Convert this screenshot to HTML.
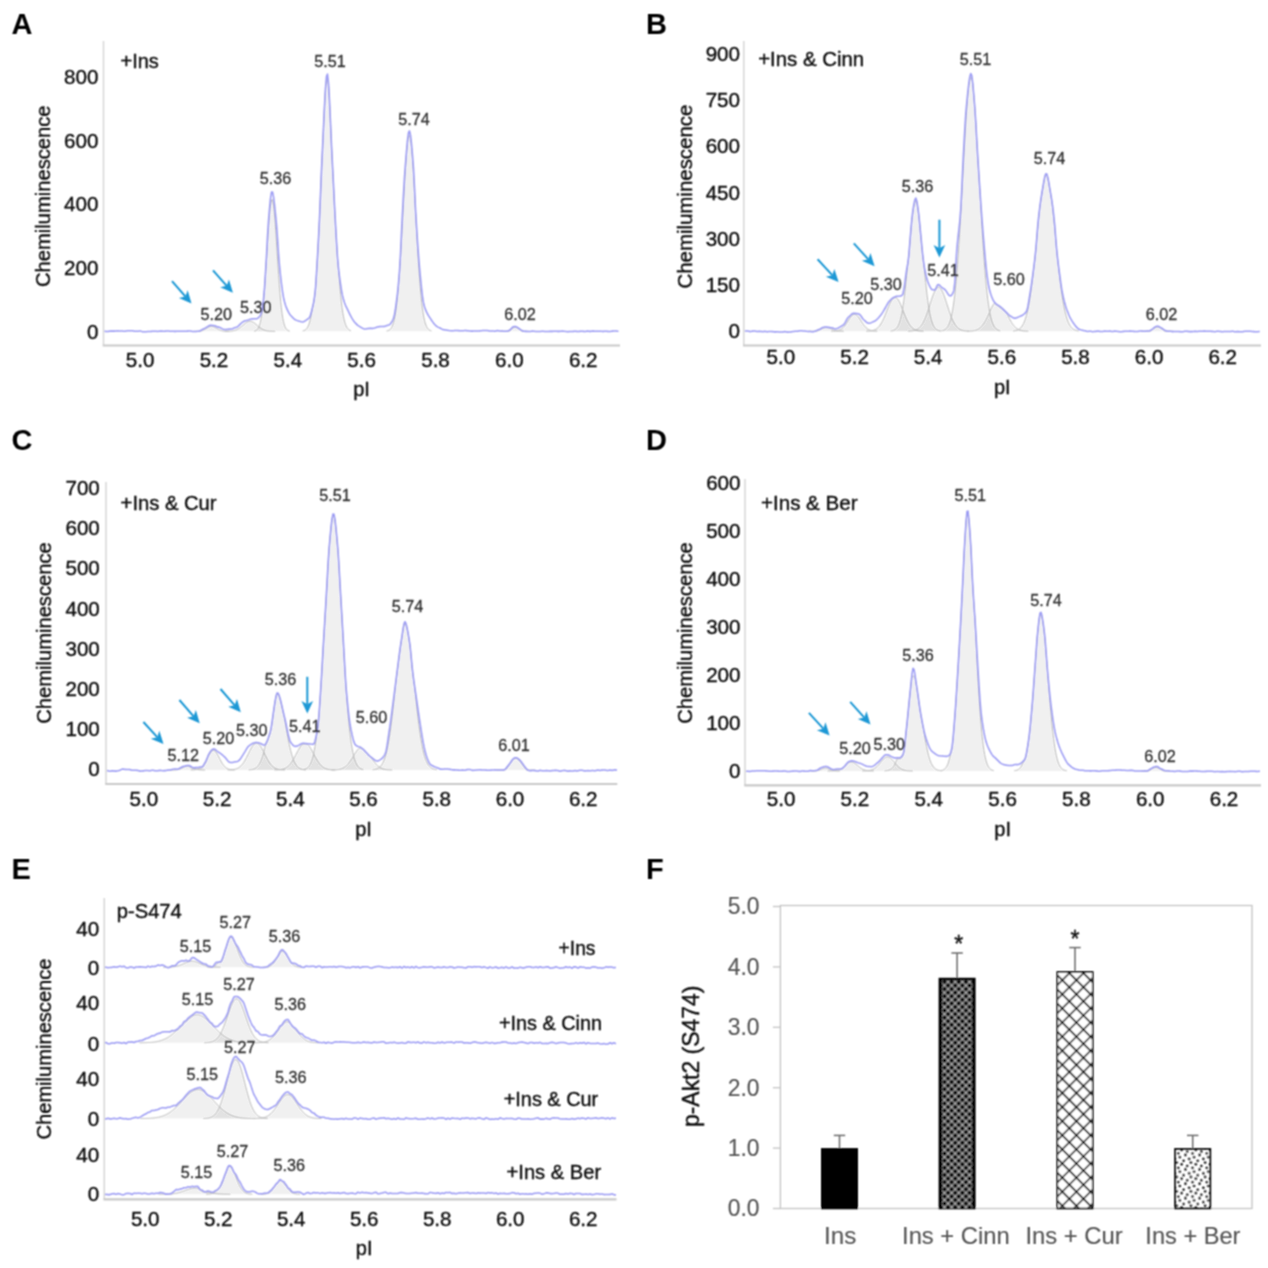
<!DOCTYPE html>
<html><head><meta charset="utf-8"><title>Figure</title>
<style>html,body{margin:0;padding:0;background:#fff;}svg{display:block;}#wrap{width:1268px;height:1268px;will-change:transform;}text{font-family:"Liberation Sans", sans-serif;}</style>
</head><body><div id="wrap">
<svg width="1268" height="1268" viewBox="0 0 1268 1268" font-family='"Liberation Sans", sans-serif'>
<defs><filter id="bl" filterUnits="userSpaceOnUse" x="0" y="0" width="1268" height="1268"><feConvolveMatrix order="3" kernelMatrix="1 2 1 2 4 2 1 2 1" divisor="16" edgeMode="duplicate"/></filter></defs>
<rect width="1268" height="1268" fill="#fff"/>
<g filter="url(#bl)">
<text x="11.5" y="34" font-size="29" text-anchor="start" fill="#000" font-weight="bold" >A</text>
<text x="646" y="34" font-size="29" text-anchor="start" fill="#000" font-weight="bold" >B</text>
<text x="11.5" y="449.5" font-size="29" text-anchor="start" fill="#000" font-weight="bold" >C</text>
<text x="646" y="449.5" font-size="29" text-anchor="start" fill="#000" font-weight="bold" >D</text>
<text x="11.5" y="878.5" font-size="29" text-anchor="start" fill="#000" font-weight="bold" >E</text>
<text x="646" y="878.5" font-size="29" text-anchor="start" fill="#000" font-weight="bold" >F</text>
<line x1="103.5" y1="41" x2="103.5" y2="345.5" stroke="#d6d6d6" stroke-width="1.5"/>
<line x1="102.75" y1="345.5" x2="620" y2="345.5" stroke="#c9c9c9" stroke-width="2.2"/>
<text x="140.1" y="366.5" font-size="20.6" text-anchor="middle" fill="#111" font-weight="normal" stroke="#111" stroke-width="0.4" >5.0</text>
<text x="213.95" y="366.5" font-size="20.6" text-anchor="middle" fill="#111" font-weight="normal" stroke="#111" stroke-width="0.4" >5.2</text>
<text x="287.8" y="366.5" font-size="20.6" text-anchor="middle" fill="#111" font-weight="normal" stroke="#111" stroke-width="0.4" >5.4</text>
<text x="361.65" y="366.5" font-size="20.6" text-anchor="middle" fill="#111" font-weight="normal" stroke="#111" stroke-width="0.4" >5.6</text>
<text x="435.5" y="366.5" font-size="20.6" text-anchor="middle" fill="#111" font-weight="normal" stroke="#111" stroke-width="0.4" >5.8</text>
<text x="509.35" y="366.5" font-size="20.6" text-anchor="middle" fill="#111" font-weight="normal" stroke="#111" stroke-width="0.4" >6.0</text>
<text x="583.2" y="366.5" font-size="20.6" text-anchor="middle" fill="#111" font-weight="normal" stroke="#111" stroke-width="0.4" >6.2</text>
<text x="98.4" y="338.85" font-size="20.6" text-anchor="end" fill="#111" font-weight="normal" stroke="#111" stroke-width="0.4" >0</text>
<text x="98.4" y="275.09" font-size="20.6" text-anchor="end" fill="#111" font-weight="normal" stroke="#111" stroke-width="0.4" >200</text>
<text x="98.4" y="211.33" font-size="20.6" text-anchor="end" fill="#111" font-weight="normal" stroke="#111" stroke-width="0.4" >400</text>
<text x="98.4" y="147.57" font-size="20.6" text-anchor="end" fill="#111" font-weight="normal" stroke="#111" stroke-width="0.4" >600</text>
<text x="98.4" y="83.81" font-size="20.6" text-anchor="end" fill="#111" font-weight="normal" stroke="#111" stroke-width="0.4" >800</text>
<text x="361.6" y="396" font-size="20" text-anchor="middle" fill="#111" font-weight="normal" stroke="#111" stroke-width="0.4" >pI</text>
<text x="0" y="0" font-size="20.4" text-anchor="middle" fill="#111" stroke="#111" stroke-width="0.4" transform="translate(49.8,196.2) rotate(-90)" textLength="181.5" lengthAdjust="spacingAndGlyphs">Chemiluminescence</text>
<text x="120.5" y="68.2" font-size="20" text-anchor="start" fill="#111" font-weight="normal" stroke="#111" stroke-width="0.4" >+Ins</text>
<path d="M193.5,331.3 L193.5,331.3 L194.2,331.3 L194.9,331.3 L195.6,331.3 L196.3,331.3 L197,331.3 L197.7,331.3 L198.4,331.3 L199.1,331.3 L199.8,331.3 L200.5,331.27 L201.2,330.95 L201.9,330.59 L202.6,330.27 L203.3,330 L204,329.68 L204.7,329.32 L205.4,328.92 L206.1,328.51 L206.8,328.09 L207.5,327.67 L208.2,327.28 L208.9,326.93 L209.6,326.65 L210.3,326.44 L211,326.32 L211.7,326.3 L212.4,326.38 L213.1,326.55 L213.8,326.8 L214.5,327.12 L215.2,327.5 L215.9,327.91 L216.6,328.33 L217.3,328.75 L218,329.15 L218.7,329.53 L219.4,329.86 L220.1,330.16 L220.8,330.41 L221.5,330.62 L222.2,330.79 L222.9,330.93 L223.6,331.03 L224.3,331.11 L225,331.17 L225.7,331.21 L226.4,331.24 L227.1,331.26 L227.8,331.28 L228.5,331.28 L229.2,331.29 L229.5,331.3 Z" fill="#000" fill-opacity="0.06"/>
<path d="M193.5,331.3 L194.2,331.3 L194.9,331.3 L195.6,331.3 L196.3,331.3 L197,331.3 L197.7,331.3 L198.4,331.3 L199.1,331.3 L199.8,331.3 L200.5,331.27 L201.2,330.95 L201.9,330.59 L202.6,330.27 L203.3,330 L204,329.68 L204.7,329.32 L205.4,328.92 L206.1,328.51 L206.8,328.09 L207.5,327.67 L208.2,327.28 L208.9,326.93 L209.6,326.65 L210.3,326.44 L211,326.32 L211.7,326.3 L212.4,326.38 L213.1,326.55 L213.8,326.8 L214.5,327.12 L215.2,327.5 L215.9,327.91 L216.6,328.33 L217.3,328.75 L218,329.15 L218.7,329.53 L219.4,329.86 L220.1,330.16 L220.8,330.41 L221.5,330.62 L222.2,330.79 L222.9,330.93 L223.6,331.03 L224.3,331.11 L225,331.17 L225.7,331.21 L226.4,331.24 L227.1,331.26 L227.8,331.28 L228.5,331.28 L229.2,331.29" fill="none" stroke="#b8b8b8" stroke-width="1"/>
<path d="M224.8,331.3 L224.8,331.28 L225.5,331.28 L226.2,331.27 L226.9,331.26 L227.6,331.24 L228.3,331.22 L229,331.19 L229.7,331.15 L230.4,331.1 L231.1,331.04 L231.8,330.96 L232.5,330.86 L233.2,330.74 L233.9,330.59 L234.6,330.41 L235.3,330.2 L236,329.95 L236.7,329.66 L237.4,329.32 L238.1,328.94 L238.8,328.52 L239.5,328.05 L240.2,327.55 L240.9,327 L241.6,326.43 L242.3,325.84 L243,325.23 L243.7,324.63 L244.4,324.04 L245.1,323.47 L245.8,322.95 L246.5,322.48 L247.2,322.07 L247.9,321.74 L248.6,321.5 L249.3,321.35 L250,321.3 L250.7,321.35 L251.4,321.5 L252.1,321.74 L252.8,322.07 L253.5,322.48 L254.2,322.95 L254.9,323.47 L255.6,324.04 L256.3,324.63 L257,325.23 L257.7,325.84 L258.4,326.43 L259.1,327 L259.8,327.55 L260.5,328.05 L261.2,328.52 L261.9,328.94 L262.6,329.32 L263.3,329.66 L264,329.95 L264.7,330.2 L265.4,330.41 L266.1,330.59 L266.8,330.74 L267.5,330.86 L268.2,330.96 L268.9,331.04 L269.6,331.1 L270.3,331.15 L271,331.19 L271.7,331.22 L272.4,331.24 L273.1,331.26 L273.8,331.27 L274.5,331.28 L275.2,331.28 L275.2,331.3 Z" fill="#000" fill-opacity="0.06"/>
<path d="M224.8,331.28 L225.5,331.28 L226.2,331.27 L226.9,331.26 L227.6,331.24 L228.3,331.22 L229,331.19 L229.7,331.15 L230.4,331.1 L231.1,331.04 L231.8,330.96 L232.5,330.86 L233.2,330.74 L233.9,330.59 L234.6,330.41 L235.3,330.2 L236,329.95 L236.7,329.66 L237.4,329.32 L238.1,328.94 L238.8,328.52 L239.5,328.05 L240.2,327.55 L240.9,327 L241.6,326.43 L242.3,325.84 L243,325.23 L243.7,324.63 L244.4,324.04 L245.1,323.47 L245.8,322.95 L246.5,322.48 L247.2,322.07 L247.9,321.74 L248.6,321.5 L249.3,321.35 L250,321.3 L250.7,321.35 L251.4,321.5 L252.1,321.74 L252.8,322.07 L253.5,322.48 L254.2,322.95 L254.9,323.47 L255.6,324.04 L256.3,324.63 L257,325.23 L257.7,325.84 L258.4,326.43 L259.1,327 L259.8,327.55 L260.5,328.05 L261.2,328.52 L261.9,328.94 L262.6,329.32 L263.3,329.66 L264,329.95 L264.7,330.2 L265.4,330.41 L266.1,330.59 L266.8,330.74 L267.5,330.86 L268.2,330.96 L268.9,331.04 L269.6,331.1 L270.3,331.15 L271,331.19 L271.7,331.22 L272.4,331.24 L273.1,331.26 L273.8,331.27 L274.5,331.28 L275.2,331.28" fill="none" stroke="#b8b8b8" stroke-width="1"/>
<path d="M254,331.3 L254,331.1 L254.7,330.97 L255.4,330.77 L256.1,330.46 L256.8,330 L257.5,329.33 L258.2,328.37 L258.9,327.03 L259.6,325.2 L260.3,322.76 L261,319.56 L261.7,315.48 L262.4,310.4 L263.1,304.23 L263.8,297.87 L264.5,289.33 L265.2,278.95 L265.9,268.58 L266.6,257.63 L267.3,246.44 L268,235.45 L268.7,225.13 L269.4,215.99 L270.1,208.49 L270.8,203.05 L271.5,199.96 L272.2,199.41 L272.9,201.42 L273.6,205.89 L274.3,212.55 L275,221.04 L275.7,230.92 L276.4,241.68 L277.1,252.84 L277.8,263.94 L278.5,274.6 L279.2,284.49 L279.9,293.41 L280.6,301.23 L281.3,307.89 L282,313.44 L282.7,317.93 L283.4,321.49 L284.1,324.24 L284.8,326.32 L285.5,327.85 L286.2,328.96 L286.9,329.74 L287.6,330.28 L288.3,330.65 L289,330.89 L289.7,331.05 L290,331.3 Z" fill="#000" fill-opacity="0.06"/>
<path d="M254,331.1 L254.7,330.97 L255.4,330.77 L256.1,330.46 L256.8,330 L257.5,329.33 L258.2,328.37 L258.9,327.03 L259.6,325.2 L260.3,322.76 L261,319.56 L261.7,315.48 L262.4,310.4 L263.1,304.23 L263.8,297.87 L264.5,289.33 L265.2,278.95 L265.9,268.58 L266.6,257.63 L267.3,246.44 L268,235.45 L268.7,225.13 L269.4,215.99 L270.1,208.49 L270.8,203.05 L271.5,199.96 L272.2,199.41 L272.9,201.42 L273.6,205.89 L274.3,212.55 L275,221.04 L275.7,230.92 L276.4,241.68 L277.1,252.84 L277.8,263.94 L278.5,274.6 L279.2,284.49 L279.9,293.41 L280.6,301.23 L281.3,307.89 L282,313.44 L282.7,317.93 L283.4,321.49 L284.1,324.24 L284.8,326.32 L285.5,327.85 L286.2,328.96 L286.9,329.74 L287.6,330.28 L288.3,330.65 L289,330.89 L289.7,331.05" fill="none" stroke="#b8b8b8" stroke-width="1"/>
<path d="M302.72,331.3 L302.72,330.91 L303.42,330.74 L304.12,330.51 L304.82,330.18 L305.52,329.74 L306.22,329.14 L306.92,328.35 L307.62,327.31 L308.32,325.96 L309.02,324.23 L309.72,322.04 L310.42,319.3 L311.12,315.91 L311.82,311.78 L312.52,308.33 L313.22,305.32 L313.92,301.66 L314.62,297.07 L315.32,291.26 L316.02,282.01 L316.72,270.38 L317.42,258.68 L318.12,246.29 L318.82,233.02 L319.52,218.73 L320.22,202.31 L320.92,184.92 L321.62,168.38 L322.32,153.91 L323.02,138.8 L323.72,123.25 L324.42,108.28 L325.12,94.9 L325.82,84.44 L326.52,80.56 L327.22,79.3 L327.92,80.71 L328.62,86.03 L329.32,98.19 L330.02,112.86 L330.72,128.75 L331.42,144.54 L332.12,158.91 L332.82,172.33 L333.52,186.55 L334.22,200.91 L334.92,214.67 L335.62,227.25 L336.32,239.51 L337.02,251.12 L337.72,261.19 L338.42,268.96 L339.12,277.08 L339.82,286.27 L340.52,294.3 L341.22,301.22 L341.92,307.1 L342.62,312.03 L343.32,316.13 L344.02,319.47 L344.72,322.18 L345.42,324.34 L346.12,326.05 L346.82,327.38 L347.52,328.4 L348.22,329.18 L348.92,329.77 L349.62,330.2 L350.32,330.52 L351.02,330.75 L351.68,331.3 Z" fill="#000" fill-opacity="0.06"/>
<path d="M302.72,330.91 L303.42,330.74 L304.12,330.51 L304.82,330.18 L305.52,329.74 L306.22,329.14 L306.92,328.35 L307.62,327.31 L308.32,325.96 L309.02,324.23 L309.72,322.04 L310.42,319.3 L311.12,315.91 L311.82,311.78 L312.52,308.33 L313.22,305.32 L313.92,301.66 L314.62,297.07 L315.32,291.26 L316.02,282.01 L316.72,270.38 L317.42,258.68 L318.12,246.29 L318.82,233.02 L319.52,218.73 L320.22,202.31 L320.92,184.92 L321.62,168.38 L322.32,153.91 L323.02,138.8 L323.72,123.25 L324.42,108.28 L325.12,94.9 L325.82,84.44 L326.52,80.56 L327.22,79.3 L327.92,80.71 L328.62,86.03 L329.32,98.19 L330.02,112.86 L330.72,128.75 L331.42,144.54 L332.12,158.91 L332.82,172.33 L333.52,186.55 L334.22,200.91 L334.92,214.67 L335.62,227.25 L336.32,239.51 L337.02,251.12 L337.72,261.19 L338.42,268.96 L339.12,277.08 L339.82,286.27 L340.52,294.3 L341.22,301.22 L341.92,307.1 L342.62,312.03 L343.32,316.13 L344.02,319.47 L344.72,322.18 L345.42,324.34 L346.12,326.05 L346.82,327.38 L347.52,328.4 L348.22,329.18 L348.92,329.77 L349.62,330.2 L350.32,330.52 L351.02,330.75" fill="none" stroke="#b8b8b8" stroke-width="1"/>
<path d="M386.62,331.3 L386.62,331 L387.32,330.85 L388.02,330.65 L388.72,330.36 L389.42,329.95 L390.12,329.4 L390.82,328.65 L391.52,327.65 L392.22,326.33 L392.92,324.63 L393.62,322.45 L394.32,319.7 L395.02,316.28 L395.72,312.1 L396.42,307.05 L397.12,301.06 L397.82,294.04 L398.52,285.96 L399.22,276.8 L399.92,266.6 L400.62,255.43 L401.32,243.43 L402.02,230.77 L402.72,217.7 L403.42,204.51 L404.12,191.52 L404.82,179.09 L405.52,167.59 L406.22,157.38 L406.92,148.8 L407.62,142.15 L408.32,137.66 L409.02,135.49 L409.72,135.74 L410.42,138.37 L411.12,143.31 L411.82,150.37 L412.52,159.3 L413.22,169.8 L413.92,181.51 L414.62,194.08 L415.32,207.14 L416.02,220.33 L416.72,233.34 L417.42,245.89 L418.12,257.74 L418.82,268.72 L419.52,278.72 L420.22,287.66 L420.92,295.53 L421.62,302.34 L422.32,308.14 L423.02,313 L423.72,317.02 L424.42,320.3 L425.12,322.92 L425.82,325 L426.52,326.62 L427.22,327.87 L427.92,328.81 L428.62,329.52 L429.32,330.04 L430.02,330.42 L430.72,330.69 L431.42,330.89 L431.98,331.3 Z" fill="#000" fill-opacity="0.06"/>
<path d="M386.62,331 L387.32,330.85 L388.02,330.65 L388.72,330.36 L389.42,329.95 L390.12,329.4 L390.82,328.65 L391.52,327.65 L392.22,326.33 L392.92,324.63 L393.62,322.45 L394.32,319.7 L395.02,316.28 L395.72,312.1 L396.42,307.05 L397.12,301.06 L397.82,294.04 L398.52,285.96 L399.22,276.8 L399.92,266.6 L400.62,255.43 L401.32,243.43 L402.02,230.77 L402.72,217.7 L403.42,204.51 L404.12,191.52 L404.82,179.09 L405.52,167.59 L406.22,157.38 L406.92,148.8 L407.62,142.15 L408.32,137.66 L409.02,135.49 L409.72,135.74 L410.42,138.37 L411.12,143.31 L411.82,150.37 L412.52,159.3 L413.22,169.8 L413.92,181.51 L414.62,194.08 L415.32,207.14 L416.02,220.33 L416.72,233.34 L417.42,245.89 L418.12,257.74 L418.82,268.72 L419.52,278.72 L420.22,287.66 L420.92,295.53 L421.62,302.34 L422.32,308.14 L423.02,313 L423.72,317.02 L424.42,320.3 L425.12,322.92 L425.82,325 L426.52,326.62 L427.22,327.87 L427.92,328.81 L428.62,329.52 L429.32,330.04 L430.02,330.42 L430.72,330.69 L431.42,330.89" fill="none" stroke="#b8b8b8" stroke-width="1"/>
<path d="M500.6,331.3 L500.6,331.3 L501.3,331.3 L502,331.3 L502.7,331.3 L503.4,331.3 L504.1,331.3 L504.8,331.3 L505.5,331.3 L506.2,331.3 L506.9,331.3 L507.6,331.3 L508.3,331.3 L509,331.22 L509.7,330.7 L510.4,330.13 L511.1,329.52 L511.8,328.92 L512.5,328.37 L513.2,327.89 L513.9,327.54 L514.6,327.33 L515.3,327.31 L516,327.44 L516.7,327.7 L517.4,328.05 L518.1,328.47 L518.8,328.95 L519.5,329.46 L520.2,329.97 L520.9,330.48 L521.6,330.94 L522.3,331.3 L523,331.3 L523.7,331.3 L524.4,331.3 L525.1,331.3 L525.8,331.3 L526.5,331.3 L527.2,331.3 L527.9,331.3 L528.6,331.3 L529.3,331.3 L529.4,331.3 Z" fill="#000" fill-opacity="0.06"/>
<path d="M500.6,331.3 L501.3,331.3 L502,331.3 L502.7,331.3 L503.4,331.3 L504.1,331.3 L504.8,331.3 L505.5,331.3 L506.2,331.3 L506.9,331.3 L507.6,331.3 L508.3,331.3 L509,331.22 L509.7,330.7 L510.4,330.13 L511.1,329.52 L511.8,328.92 L512.5,328.37 L513.2,327.89 L513.9,327.54 L514.6,327.33 L515.3,327.31 L516,327.44 L516.7,327.7 L517.4,328.05 L518.1,328.47 L518.8,328.95 L519.5,329.46 L520.2,329.97 L520.9,330.48 L521.6,330.94 L522.3,331.3 L523,331.3 L523.7,331.3 L524.4,331.3 L525.1,331.3 L525.8,331.3 L526.5,331.3 L527.2,331.3 L527.9,331.3 L528.6,331.3 L529.3,331.3" fill="none" stroke="#b8b8b8" stroke-width="1"/>
<path d="M104.5,331.33 L105.5,331.36 L106.5,331.43 L107.5,331.51 L108.5,331.36 L109.5,331.21 L110.5,331.13 L111.5,331.12 L112.5,331.11 L113.5,331.12 L114.5,331.13 L115.5,331.07 L116.5,330.95 L117.5,330.82 L118.5,330.91 L119.5,330.99 L120.5,331.05 L121.5,331.07 L122.5,331.1 L123.5,331.15 L124.5,331.19 L125.5,331.11 L126.5,330.91 L127.5,330.72 L128.5,330.77 L129.5,330.83 L130.5,330.83 L131.5,330.78 L132.5,330.73 L133.5,330.96 L134.5,331.18 L135.5,331.29 L136.5,331.29 L137.5,331.29 L138.5,331.15 L139.5,331 L140.5,331.08 L141.5,331.38 L142.5,331.68 L143.5,331.71 L144.5,331.74 L145.5,331.72 L146.5,331.65 L147.5,331.59 L148.5,331.59 L149.5,331.59 L150.5,331.52 L151.5,331.39 L152.5,331.25 L153.5,331.21 L154.5,331.16 L155.5,331.2 L156.5,331.33 L157.5,331.47 L158.5,331.32 L159.5,331.17 L160.5,331.11 L161.5,331.13 L162.5,331.15 L163.5,331.15 L164.5,331.15 L165.5,331.11 L166.5,331.03 L167.5,330.96 L168.5,331.07 L169.5,331.17 L170.5,331.22 L171.5,331.2 L172.5,331.18 L173.5,331.28 L174.5,331.39 L175.5,331.39 L176.5,331.3 L177.5,331.2 L178.5,331.23 L179.5,331.26 L180.5,331.25 L181.5,331.21 L182.5,331.17 L183.5,331.21 L184.5,331.26 L185.5,331.25 L186.5,331.19 L187.5,331.13 L188.5,331.08 L189.5,331.02 L190.5,331.1 L191.5,331.29 L192.5,331.49 L193.5,331.48 L194.5,331.48 L195.5,331.45 L196.5,331.4 L197.5,331.34 L198.5,331.27 L199.5,331.01 L200.5,330.57 L201.5,329.98 L202.5,329.35 L203.5,328.81 L204.5,328.34 L205.5,327.83 L206.5,327.27 L207.5,326.68 L208.5,326.04 L209.5,325.49 L210.5,325.19 L211.5,325.2 L212.5,325.43 L213.5,325.49 L214.5,325.66 L215.5,326.01 L216.5,326.49 L217.5,326.96 L218.5,327.13 L219.5,327.35 L220.5,327.75 L221.5,328.31 L222.5,328.87 L223.5,329.2 L224.5,329.48 L225.5,329.58 L226.5,329.47 L227.5,329.24 L228.5,329.21 L229.5,329.11 L230.5,329.01 L231.5,328.92 L232.5,328.8 L233.5,328.32 L234.5,327.83 L235.5,327.46 L236.5,327.18 L237.5,326.74 L238.5,325.87 L239.5,324.9 L240.5,323.92 L241.5,322.98 L242.5,322.07 L243.5,321.48 L244.5,321.01 L245.5,320.64 L246.5,320.39 L247.5,320.21 L248.5,319.87 L249.5,319.56 L250.5,319.3 L251.5,319.08 L252.5,318.89 L253.5,318.84 L254.5,318.78 L255.5,318.73 L256.5,318.68 L257.5,318.45 L258.5,317.69 L259.5,316.58 L260.5,315.05 L261.5,312.59 L262.5,307.05 L263.5,299.5 L264.5,288.33 L265.5,272.75 L266.5,255.98 L267.5,236.6 L268.5,221.11 L269.5,208.93 L270.5,198.38 L271.5,192.04 L272.5,191.99 L273.5,196.66 L274.5,204.63 L275.5,214.43 L276.5,224.62 L277.5,238.26 L278.5,253.54 L279.5,265.88 L280.5,275.49 L281.5,284.19 L282.5,291.58 L283.5,297.5 L284.5,301.74 L285.5,305.18 L286.5,307.93 L287.5,310.16 L288.5,312.21 L289.5,313.86 L290.5,315.24 L291.5,316.34 L292.5,317.3 L293.5,318.34 L294.5,319.23 L295.5,319.89 L296.5,320.3 L297.5,320.63 L298.5,320.99 L299.5,321.29 L300.5,321.58 L301.5,321.83 L302.5,321.94 L303.5,321.67 L304.5,321.27 L305.5,320.7 L306.5,319.97 L307.5,319.12 L308.5,318.48 L309.5,317.48 L310.5,315.07 L311.5,311.52 L312.5,307.41 L313.5,303 L314.5,297.03 L315.5,288.46 L316.5,273.43 L317.5,256.76 L318.5,238.59 L319.5,218.5 L320.5,194.59 L321.5,170.15 L322.5,149.04 L323.5,127.29 L324.5,106.07 L325.5,88.1 L326.5,76.36 L327.5,74.08 L328.5,83.3 L329.5,100.8 L330.5,122.81 L331.5,145.52 L332.5,165.45 L333.5,185.41 L334.5,205.66 L335.5,224.22 L336.5,241.66 L337.5,257.3 L338.5,268.71 L339.5,276.73 L340.5,283.83 L341.5,290.33 L342.5,295.66 L343.5,299.59 L344.5,302.74 L345.5,305.32 L346.5,307.45 L347.5,309.41 L348.5,311.54 L349.5,313.66 L350.5,315.64 L351.5,317.45 L352.5,319.11 L353.5,320.68 L354.5,322.02 L355.5,323.15 L356.5,324.15 L357.5,325.13 L358.5,325.8 L359.5,326.42 L360.5,327.04 L361.5,327.67 L362.5,328.2 L363.5,328.66 L364.5,329 L365.5,329.06 L366.5,328.86 L367.5,328.61 L368.5,328.51 L369.5,328.38 L370.5,328.34 L371.5,328.38 L372.5,328.41 L373.5,328.19 L374.5,327.96 L375.5,327.67 L376.5,327.31 L377.5,326.96 L378.5,326.77 L379.5,326.61 L380.5,326.54 L381.5,326.56 L382.5,326.58 L383.5,326.49 L384.5,326.39 L385.5,326.12 L386.5,325.68 L387.5,325.19 L388.5,325.06 L389.5,324.66 L390.5,323.74 L391.5,322.32 L392.5,320.52 L393.5,318.29 L394.5,314.43 L395.5,308.38 L396.5,301.23 L397.5,293.19 L398.5,283.23 L399.5,271.1 L400.5,254.21 L401.5,232.69 L402.5,212.45 L403.5,194.11 L404.5,177.19 L405.5,163.89 L406.5,151.36 L407.5,140.14 L408.5,132.69 L409.5,130.81 L410.5,135.11 L411.5,143.95 L412.5,155.62 L413.5,168.63 L414.5,187.72 L415.5,209.36 L416.5,226.15 L417.5,241.48 L418.5,255.4 L419.5,267.57 L420.5,278.07 L421.5,288.01 L422.5,296.58 L423.5,302.96 L424.5,306.78 L425.5,309.69 L426.5,311.93 L427.5,313.77 L428.5,315.55 L429.5,317.15 L430.5,318.69 L431.5,320.2 L432.5,321.64 L433.5,322.99 L434.5,324.24 L435.5,325.29 L436.5,326.15 L437.5,326.86 L438.5,327.39 L439.5,327.77 L440.5,328.26 L441.5,328.87 L442.5,329.45 L443.5,329.62 L444.5,329.75 L445.5,329.92 L446.5,330.11 L447.5,330.25 L448.5,330.45 L449.5,330.59 L450.5,330.66 L451.5,330.71 L452.5,330.76 L453.5,330.65 L454.5,330.55 L455.5,330.51 L456.5,330.54 L457.5,330.57 L458.5,330.63 L459.5,330.68 L460.5,330.74 L461.5,330.79 L462.5,330.85 L463.5,330.73 L464.5,330.6 L465.5,330.57 L466.5,330.64 L467.5,330.7 L468.5,330.85 L469.5,331 L470.5,331.09 L471.5,331.11 L472.5,331.14 L473.5,331.05 L474.5,330.96 L475.5,330.91 L476.5,330.92 L477.5,330.93 L478.5,330.9 L479.5,330.87 L480.5,330.8 L481.5,330.67 L482.5,330.55 L483.5,330.52 L484.5,330.49 L485.5,330.47 L486.5,330.47 L487.5,330.48 L488.5,330.73 L489.5,330.99 L490.5,331.1 L491.5,331.06 L492.5,331.01 L493.5,331.1 L494.5,331.19 L495.5,331.11 L496.5,330.86 L497.5,330.62 L498.5,330.81 L499.5,331 L500.5,331.08 L501.5,331.07 L502.5,331.07 L503.5,331.17 L504.5,331.28 L505.5,331.29 L506.5,331.19 L507.5,331 L508.5,330.79 L509.5,330.31 L510.5,329.46 L511.5,328.34 L512.5,327.27 L513.5,326.76 L514.5,326.52 L515.5,326.6 L516.5,326.93 L517.5,327.47 L518.5,328.15 L519.5,328.91 L520.5,329.65 L521.5,330.29 L522.5,330.82 L523.5,331.21 L524.5,331.35 L525.5,331.36 L526.5,331.39 L527.5,331.42 L528.5,331.46 L529.5,331.5 L530.5,331.45 L531.5,331.3 L532.5,331.14 L533.5,331.24 L534.5,331.34 L535.5,331.42 L536.5,331.48 L537.5,331.55 L538.5,331.54 L539.5,331.54 L540.5,331.47 L541.5,331.35 L542.5,331.22 L543.5,331.33 L544.5,331.44 L545.5,331.5 L546.5,331.52 L547.5,331.55 L548.5,331.47 L549.5,331.39 L550.5,331.35 L551.5,331.37 L552.5,331.38 L553.5,331.32 L554.5,331.25 L555.5,331.24 L556.5,331.3 L557.5,331.36 L558.5,331.37 L559.5,331.37 L560.5,331.3 L561.5,331.15 L562.5,331.01 L563.5,331.16 L564.5,331.32 L565.5,331.45 L566.5,331.55 L567.5,331.65 L568.5,331.61 L569.5,331.58 L570.5,331.54 L571.5,331.5 L572.5,331.46 L573.5,331.36 L574.5,331.27 L575.5,331.27 L576.5,331.37 L577.5,331.46 L578.5,331.42 L579.5,331.38 L580.5,331.34 L581.5,331.3 L582.5,331.26 L583.5,331.37 L584.5,331.48 L585.5,331.43 L586.5,331.22 L587.5,331.01 L588.5,331.2 L589.5,331.38 L590.5,331.37 L591.5,331.17 L592.5,330.97 L593.5,331.13 L594.5,331.29 L595.5,331.35 L596.5,331.32 L597.5,331.29 L598.5,331.22 L599.5,331.15 L600.5,331.18 L601.5,331.31 L602.5,331.44 L603.5,331.38 L604.5,331.33 L605.5,331.31 L606.5,331.35 L607.5,331.38 L608.5,331.47 L609.5,331.55 L610.5,331.5 L611.5,331.32 L612.5,331.13 L613.5,331.06 L614.5,330.99 L615.5,331 L616.5,331.08 L617.5,331.16 L618.5,331.27" fill="none" stroke="#9c9cf4" stroke-width="1.55" stroke-linejoin="round"/>
<text x="216.2" y="320.1" font-size="16.2" text-anchor="middle" fill="#333" font-weight="normal" stroke="#333" stroke-width="0.3" >5.20</text>
<text x="255.8" y="313" font-size="16.2" text-anchor="middle" fill="#333" font-weight="normal" stroke="#333" stroke-width="0.3" >5.30</text>
<text x="275.4" y="183.9" font-size="16.2" text-anchor="middle" fill="#333" font-weight="normal" stroke="#333" stroke-width="0.3" >5.36</text>
<text x="329.9" y="66.6" font-size="16.2" text-anchor="middle" fill="#333" font-weight="normal" stroke="#333" stroke-width="0.3" >5.51</text>
<text x="414" y="124.5" font-size="16.2" text-anchor="middle" fill="#333" font-weight="normal" stroke="#333" stroke-width="0.3" >5.74</text>
<text x="520" y="319.6" font-size="16.2" text-anchor="middle" fill="#333" font-weight="normal" stroke="#333" stroke-width="0.3" >6.02</text>
<line x1="172" y1="281.1" x2="185.39" y2="296.49" stroke="#1d98d5" stroke-width="2.0"/>
<path d="M191.5,303.5 L178.92,297.88 L185.39,296.49 L187.67,290.26 Z" fill="#1d98d5"/>
<line x1="213" y1="270.4" x2="226.72" y2="285.85" stroke="#1d98d5" stroke-width="2.0"/>
<path d="M232.9,292.8 L220.26,287.31 L226.72,285.85 L228.93,279.6 Z" fill="#1d98d5"/>
<line x1="743.8" y1="41" x2="743.8" y2="345.5" stroke="#d6d6d6" stroke-width="1.5"/>
<line x1="743.05" y1="345.5" x2="1261" y2="345.5" stroke="#c9c9c9" stroke-width="2.2"/>
<text x="780.9" y="364.2" font-size="20.6" text-anchor="middle" fill="#111" font-weight="normal" stroke="#111" stroke-width="0.4" >5.0</text>
<text x="854.54" y="364.2" font-size="20.6" text-anchor="middle" fill="#111" font-weight="normal" stroke="#111" stroke-width="0.4" >5.2</text>
<text x="928.18" y="364.2" font-size="20.6" text-anchor="middle" fill="#111" font-weight="normal" stroke="#111" stroke-width="0.4" >5.4</text>
<text x="1001.82" y="364.2" font-size="20.6" text-anchor="middle" fill="#111" font-weight="normal" stroke="#111" stroke-width="0.4" >5.6</text>
<text x="1075.46" y="364.2" font-size="20.6" text-anchor="middle" fill="#111" font-weight="normal" stroke="#111" stroke-width="0.4" >5.8</text>
<text x="1149.1" y="364.2" font-size="20.6" text-anchor="middle" fill="#111" font-weight="normal" stroke="#111" stroke-width="0.4" >6.0</text>
<text x="1222.74" y="364.2" font-size="20.6" text-anchor="middle" fill="#111" font-weight="normal" stroke="#111" stroke-width="0.4" >6.2</text>
<text x="740" y="338.45" font-size="20.6" text-anchor="end" fill="#111" font-weight="normal" stroke="#111" stroke-width="0.4" >0</text>
<text x="740" y="292.15" font-size="20.6" text-anchor="end" fill="#111" font-weight="normal" stroke="#111" stroke-width="0.4" >150</text>
<text x="740" y="245.85" font-size="20.6" text-anchor="end" fill="#111" font-weight="normal" stroke="#111" stroke-width="0.4" >300</text>
<text x="740" y="199.55" font-size="20.6" text-anchor="end" fill="#111" font-weight="normal" stroke="#111" stroke-width="0.4" >450</text>
<text x="740" y="153.25" font-size="20.6" text-anchor="end" fill="#111" font-weight="normal" stroke="#111" stroke-width="0.4" >600</text>
<text x="740" y="106.95" font-size="20.6" text-anchor="end" fill="#111" font-weight="normal" stroke="#111" stroke-width="0.4" >750</text>
<text x="740" y="60.65" font-size="20.6" text-anchor="end" fill="#111" font-weight="normal" stroke="#111" stroke-width="0.4" >900</text>
<text x="1002.3" y="394" font-size="20" text-anchor="middle" fill="#111" font-weight="normal" stroke="#111" stroke-width="0.4" >pI</text>
<text x="0" y="0" font-size="20.4" text-anchor="middle" fill="#111" stroke="#111" stroke-width="0.4" transform="translate(691.6,196.6) rotate(-90)" textLength="184" lengthAdjust="spacingAndGlyphs">Chemiluminescence</text>
<text x="758.2" y="66" font-size="20" text-anchor="start" fill="#111" font-weight="normal" stroke="#111" stroke-width="0.4" textLength="106" lengthAdjust="spacingAndGlyphs">+Ins &amp; Cinn</text>
<path d="M808,331.2 L808,331.2 L808.7,331.2 L809.4,331.2 L810.1,331.2 L810.8,331.2 L811.5,331.2 L812.2,331.2 L812.9,331.2 L813.6,331.2 L814.3,331.2 L815,331.2 L815.7,331.2 L816.4,331.2 L817.1,331.17 L817.8,330.82 L818.5,330.46 L819.2,330.08 L819.9,329.7 L820.6,329.33 L821.3,328.97 L822,328.64 L822.7,328.34 L823.4,328.08 L824.1,327.87 L824.8,327.71 L825.5,327.62 L826.2,327.6 L826.9,327.64 L827.6,327.73 L828.3,327.86 L829,328.01 L829.7,328.18 L830.4,328.48 L831.1,328.82 L831.8,329.16 L832.5,329.48 L833.2,329.78 L833.9,330.05 L834.6,330.29 L835.3,330.49 L836,330.66 L836.7,330.79 L837.4,330.9 L838.1,330.99 L838.8,331.05 L839.5,331.1 L840.2,331.13 L840.9,331.15 L841.6,331.17 L842.3,331.18 L843,331.19 L843.7,331.19 L844,331.2 Z" fill="#000" fill-opacity="0.06"/>
<path d="M808,331.2 L808.7,331.2 L809.4,331.2 L810.1,331.2 L810.8,331.2 L811.5,331.2 L812.2,331.2 L812.9,331.2 L813.6,331.2 L814.3,331.2 L815,331.2 L815.7,331.2 L816.4,331.2 L817.1,331.17 L817.8,330.82 L818.5,330.46 L819.2,330.08 L819.9,329.7 L820.6,329.33 L821.3,328.97 L822,328.64 L822.7,328.34 L823.4,328.08 L824.1,327.87 L824.8,327.71 L825.5,327.62 L826.2,327.6 L826.9,327.64 L827.6,327.73 L828.3,327.86 L829,328.01 L829.7,328.18 L830.4,328.48 L831.1,328.82 L831.8,329.16 L832.5,329.48 L833.2,329.78 L833.9,330.05 L834.6,330.29 L835.3,330.49 L836,330.66 L836.7,330.79 L837.4,330.9 L838.1,330.99 L838.8,331.05 L839.5,331.1 L840.2,331.13 L840.9,331.15 L841.6,331.17 L842.3,331.18 L843,331.19 L843.7,331.19" fill="none" stroke="#b8b8b8" stroke-width="1"/>
<path d="M831.1,331.2 L831.1,331.17 L831.8,331.16 L832.5,331.14 L833.2,331.12 L833.9,331.09 L834.6,331.04 L835.3,330.98 L836,330.9 L836.7,330.8 L837.4,330.67 L838.1,330.5 L838.8,330.28 L839.5,330.01 L840.2,329.69 L840.9,329.3 L841.6,328.83 L842.3,328.28 L843,327.65 L843.7,326.92 L844.4,326.12 L845.1,325.23 L845.8,324.26 L846.5,323.23 L847.2,322.15 L847.9,321.05 L848.6,319.94 L849.3,318.86 L850,317.82 L850.7,316.87 L851.4,316.03 L852.1,315.32 L852.8,314.77 L853.5,314.4 L854.2,314.22 L854.9,314.23 L855.6,314.44 L856.3,314.84 L857,315.41 L857.7,316.14 L858.4,317 L859.1,317.97 L859.8,319.01 L860.5,320.1 L861.2,321.21 L861.9,322.31 L862.6,323.38 L863.3,324.4 L864,325.36 L864.7,326.24 L865.4,327.03 L866.1,327.74 L866.8,328.36 L867.5,328.9 L868.2,329.36 L868.9,329.74 L869.6,330.06 L870.3,330.31 L871,330.52 L871.7,330.69 L872.4,330.82 L873.1,330.92 L873.8,330.99 L874.5,331.05 L875.2,331.09 L875.9,331.12 L876.6,331.15 L877.3,331.16 L877.9,331.2 Z" fill="#000" fill-opacity="0.06"/>
<path d="M831.1,331.17 L831.8,331.16 L832.5,331.14 L833.2,331.12 L833.9,331.09 L834.6,331.04 L835.3,330.98 L836,330.9 L836.7,330.8 L837.4,330.67 L838.1,330.5 L838.8,330.28 L839.5,330.01 L840.2,329.69 L840.9,329.3 L841.6,328.83 L842.3,328.28 L843,327.65 L843.7,326.92 L844.4,326.12 L845.1,325.23 L845.8,324.26 L846.5,323.23 L847.2,322.15 L847.9,321.05 L848.6,319.94 L849.3,318.86 L850,317.82 L850.7,316.87 L851.4,316.03 L852.1,315.32 L852.8,314.77 L853.5,314.4 L854.2,314.22 L854.9,314.23 L855.6,314.44 L856.3,314.84 L857,315.41 L857.7,316.14 L858.4,317 L859.1,317.97 L859.8,319.01 L860.5,320.1 L861.2,321.21 L861.9,322.31 L862.6,323.38 L863.3,324.4 L864,325.36 L864.7,326.24 L865.4,327.03 L866.1,327.74 L866.8,328.36 L867.5,328.9 L868.2,329.36 L868.9,329.74 L869.6,330.06 L870.3,330.31 L871,330.52 L871.7,330.69 L872.4,330.82 L873.1,330.92 L873.8,330.99 L874.5,331.05 L875.2,331.09 L875.9,331.12 L876.6,331.15 L877.3,331.16" fill="none" stroke="#b8b8b8" stroke-width="1"/>
<path d="M866.2,331.2 L866.2,331.15 L866.9,331.13 L867.6,331.1 L868.3,331.07 L869,331.03 L869.7,330.97 L870.4,330.9 L871.1,330.81 L871.8,330.69 L872.5,330.55 L873.2,330.37 L873.9,330.15 L874.6,329.88 L875.3,329.56 L876,329.17 L876.7,328.72 L877.4,328.18 L878.1,327.55 L878.8,326.82 L879.5,326 L880.2,325.06 L880.9,324.01 L881.6,322.84 L882.3,321.56 L883,320.16 L883.7,318.66 L884.4,317.07 L885.1,315.39 L885.8,313.65 L886.5,311.87 L887.2,310.06 L887.9,308.27 L888.6,306.51 L889.3,304.82 L890,303.23 L890.7,301.77 L891.4,300.47 L892.1,299.36 L892.8,298.85 L893.5,298.44 L894.2,298.08 L894.9,297.78 L895.6,297.52 L896.3,297.65 L897,298.25 L897.7,299.08 L898.4,300.14 L899.1,301.38 L899.8,302.8 L900.5,304.36 L901.2,306.02 L901.9,307.76 L902.6,309.55 L903.3,311.35 L904,313.14 L904.7,314.9 L905.4,316.6 L906.1,318.22 L906.8,319.74 L907.5,321.17 L908.2,322.48 L908.9,323.68 L909.6,324.77 L910.3,325.74 L911,326.6 L911.7,327.35 L912.4,328.01 L913.1,328.57 L913.8,329.05 L914.5,329.46 L915.2,329.8 L915.9,330.08 L916.6,330.31 L917.3,330.5 L918,330.65 L918.7,330.78 L919.4,330.88 L920.1,330.95 L920.8,331.01 L921.5,331.06 L922.2,331.09 L922.9,331.12 L923.6,331.14 L923.8,331.2 Z" fill="#000" fill-opacity="0.06"/>
<path d="M866.2,331.15 L866.9,331.13 L867.6,331.1 L868.3,331.07 L869,331.03 L869.7,330.97 L870.4,330.9 L871.1,330.81 L871.8,330.69 L872.5,330.55 L873.2,330.37 L873.9,330.15 L874.6,329.88 L875.3,329.56 L876,329.17 L876.7,328.72 L877.4,328.18 L878.1,327.55 L878.8,326.82 L879.5,326 L880.2,325.06 L880.9,324.01 L881.6,322.84 L882.3,321.56 L883,320.16 L883.7,318.66 L884.4,317.07 L885.1,315.39 L885.8,313.65 L886.5,311.87 L887.2,310.06 L887.9,308.27 L888.6,306.51 L889.3,304.82 L890,303.23 L890.7,301.77 L891.4,300.47 L892.1,299.36 L892.8,298.85 L893.5,298.44 L894.2,298.08 L894.9,297.78 L895.6,297.52 L896.3,297.65 L897,298.25 L897.7,299.08 L898.4,300.14 L899.1,301.38 L899.8,302.8 L900.5,304.36 L901.2,306.02 L901.9,307.76 L902.6,309.55 L903.3,311.35 L904,313.14 L904.7,314.9 L905.4,316.6 L906.1,318.22 L906.8,319.74 L907.5,321.17 L908.2,322.48 L908.9,323.68 L909.6,324.77 L910.3,325.74 L911,326.6 L911.7,327.35 L912.4,328.01 L913.1,328.57 L913.8,329.05 L914.5,329.46 L915.2,329.8 L915.9,330.08 L916.6,330.31 L917.3,330.5 L918,330.65 L918.7,330.78 L919.4,330.88 L920.1,330.95 L920.8,331.01 L921.5,331.06 L922.2,331.09 L922.9,331.12 L923.6,331.14" fill="none" stroke="#b8b8b8" stroke-width="1"/>
<path d="M890.6,331.2 L890.6,331 L891.3,330.92 L892,330.8 L892.7,330.64 L893.4,330.42 L894.1,330.14 L894.8,329.76 L895.5,329.26 L896.2,328.62 L896.9,327.8 L897.6,326.77 L898.3,325.49 L899,323.9 L899.7,321.97 L900.4,319.64 L901.1,316.87 L901.8,313.61 L902.5,309.82 L903.2,305.47 L903.9,300.55 L904.6,295.06 L905.3,289 L906,282.41 L906.7,275.36 L907.4,267.92 L908.1,262.39 L908.8,256.48 L909.5,248.06 L910.2,238.95 L910.9,230.8 L911.6,222.67 L912.3,216.48 L913,211.19 L913.7,206.92 L914.4,203.77 L915.1,201.85 L915.8,201.2 L916.5,201.85 L917.2,204.14 L917.9,208.96 L918.6,213.98 L919.3,220.42 L920,227.9 L920.7,235.2 L921.4,242.58 L922.1,250.07 L922.8,256.89 L923.5,262.42 L924.2,267.92 L924.9,275.36 L925.6,282.41 L926.3,289 L927,295.06 L927.7,300.55 L928.4,305.47 L929.1,309.82 L929.8,313.61 L930.5,316.87 L931.2,319.64 L931.9,321.97 L932.6,323.9 L933.3,325.49 L934,326.77 L934.7,327.8 L935.4,328.62 L936.1,329.26 L936.8,329.76 L937.5,330.14 L938.2,330.42 L938.9,330.64 L939.6,330.8 L940.3,330.92 L941,331 L941,331.2 Z" fill="#000" fill-opacity="0.06"/>
<path d="M890.6,331 L891.3,330.92 L892,330.8 L892.7,330.64 L893.4,330.42 L894.1,330.14 L894.8,329.76 L895.5,329.26 L896.2,328.62 L896.9,327.8 L897.6,326.77 L898.3,325.49 L899,323.9 L899.7,321.97 L900.4,319.64 L901.1,316.87 L901.8,313.61 L902.5,309.82 L903.2,305.47 L903.9,300.55 L904.6,295.06 L905.3,289 L906,282.41 L906.7,275.36 L907.4,267.92 L908.1,262.39 L908.8,256.48 L909.5,248.06 L910.2,238.95 L910.9,230.8 L911.6,222.67 L912.3,216.48 L913,211.19 L913.7,206.92 L914.4,203.77 L915.1,201.85 L915.8,201.2 L916.5,201.85 L917.2,204.14 L917.9,208.96 L918.6,213.98 L919.3,220.42 L920,227.9 L920.7,235.2 L921.4,242.58 L922.1,250.07 L922.8,256.89 L923.5,262.42 L924.2,267.92 L924.9,275.36 L925.6,282.41 L926.3,289 L927,295.06 L927.7,300.55 L928.4,305.47 L929.1,309.82 L929.8,313.61 L930.5,316.87 L931.2,319.64 L931.9,321.97 L932.6,323.9 L933.3,325.49 L934,326.77 L934.7,327.8 L935.4,328.62 L936.1,329.26 L936.8,329.76 L937.5,330.14 L938.2,330.42 L938.9,330.64 L939.6,330.8 L940.3,330.92 L941,331" fill="none" stroke="#b8b8b8" stroke-width="1"/>
<path d="M907.9,331.2 L907.9,331.13 L908.6,331.11 L909.3,331.08 L910,331.04 L910.7,330.99 L911.4,330.93 L912.1,330.85 L912.8,330.74 L913.5,330.62 L914.2,330.46 L914.9,330.27 L915.6,330.03 L916.3,329.75 L917,329.4 L917.7,329 L918.4,328.51 L919.1,327.95 L919.8,327.29 L920.5,326.53 L921.2,325.65 L921.9,324.66 L922.6,323.55 L923.3,322.31 L924,320.93 L924.7,319.42 L925.4,317.78 L926.1,316.02 L926.8,314.14 L927.5,312.15 L928.2,310.08 L928.9,307.95 L929.6,305.77 L930.3,303.57 L931,301.39 L931.7,299.25 L932.4,297.19 L933.1,295.24 L933.8,293.44 L934.5,291.81 L935.2,290.39 L935.9,289.21 L936.6,288.29 L937.3,287.64 L938,287.28 L938.7,287.21 L939.4,287.45 L940.1,287.97 L940.8,288.78 L941.5,289.86 L942.2,291.18 L942.9,292.72 L943.6,294.45 L944.3,296.34 L945,298.35 L945.7,300.46 L946.4,302.63 L947.1,304.83 L947.8,307.02 L948.5,309.18 L949.2,311.28 L949.9,313.3 L950.6,315.23 L951.3,317.04 L952,318.73 L952.7,320.3 L953.4,321.73 L954.1,323.03 L954.8,324.2 L955.5,325.25 L956.2,326.17 L956.9,326.97 L957.6,327.68 L958.3,328.28 L959,328.8 L959.7,329.24 L960.4,329.61 L961.1,329.92 L961.8,330.17 L962.5,330.38 L963.2,330.55 L963.9,330.69 L964.6,330.81 L965.3,330.89 L966,330.97 L966.7,331.02 L967.4,331.06 L968.1,331.1 L968.8,331.12 L969.1,331.2 Z" fill="#000" fill-opacity="0.06"/>
<path d="M907.9,331.13 L908.6,331.11 L909.3,331.08 L910,331.04 L910.7,330.99 L911.4,330.93 L912.1,330.85 L912.8,330.74 L913.5,330.62 L914.2,330.46 L914.9,330.27 L915.6,330.03 L916.3,329.75 L917,329.4 L917.7,329 L918.4,328.51 L919.1,327.95 L919.8,327.29 L920.5,326.53 L921.2,325.65 L921.9,324.66 L922.6,323.55 L923.3,322.31 L924,320.93 L924.7,319.42 L925.4,317.78 L926.1,316.02 L926.8,314.14 L927.5,312.15 L928.2,310.08 L928.9,307.95 L929.6,305.77 L930.3,303.57 L931,301.39 L931.7,299.25 L932.4,297.19 L933.1,295.24 L933.8,293.44 L934.5,291.81 L935.2,290.39 L935.9,289.21 L936.6,288.29 L937.3,287.64 L938,287.28 L938.7,287.21 L939.4,287.45 L940.1,287.97 L940.8,288.78 L941.5,289.86 L942.2,291.18 L942.9,292.72 L943.6,294.45 L944.3,296.34 L945,298.35 L945.7,300.46 L946.4,302.63 L947.1,304.83 L947.8,307.02 L948.5,309.18 L949.2,311.28 L949.9,313.3 L950.6,315.23 L951.3,317.04 L952,318.73 L952.7,320.3 L953.4,321.73 L954.1,323.03 L954.8,324.2 L955.5,325.25 L956.2,326.17 L956.9,326.97 L957.6,327.68 L958.3,328.28 L959,328.8 L959.7,329.24 L960.4,329.61 L961.1,329.92 L961.8,330.17 L962.5,330.38 L963.2,330.55 L963.9,330.69 L964.6,330.81 L965.3,330.89 L966,330.97 L966.7,331.02 L967.4,331.06 L968.1,331.1 L968.8,331.12" fill="none" stroke="#b8b8b8" stroke-width="1"/>
<path d="M941.48,331.2 L941.48,330.81 L942.18,330.67 L942.88,330.49 L943.58,330.25 L944.28,329.94 L944.98,329.55 L945.68,329.04 L946.38,328.4 L947.08,327.59 L947.78,326.59 L948.48,325.35 L949.18,323.83 L949.88,321.99 L950.58,319.77 L951.28,317.11 L951.98,313.96 L952.68,310.26 L953.38,305.95 L954.08,300.98 L954.78,295.29 L955.48,288.84 L956.18,281.59 L956.88,273.53 L957.58,264.64 L958.28,254.94 L958.98,244.46 L959.68,233.25 L960.38,221.4 L961.08,209.01 L961.78,196.21 L962.48,183.15 L963.18,170.01 L963.88,156.97 L964.58,144.25 L965.28,132.05 L965.98,120.6 L966.68,110.11 L967.38,100.78 L968.08,92.8 L968.78,86.34 L969.48,81.53 L970.18,78.47 L970.88,77.23 L971.58,77.83 L972.28,80.28 L972.98,86.3 L973.68,94.36 L974.38,102.99 L975.08,111.72 L975.78,122.83 L976.48,135.59 L977.18,148.42 L977.88,159.95 L978.58,170.94 L979.28,181.71 L979.98,192.19 L980.68,204.66 L981.38,217.21 L982.08,229.25 L982.78,240.69 L983.48,251.43 L984.18,261.4 L984.88,270.57 L985.58,278.92 L986.28,286.45 L986.98,293.17 L987.68,299.11 L988.38,304.33 L989.08,308.86 L989.78,312.76 L990.48,316.09 L991.18,318.91 L991.88,321.27 L992.58,323.24 L993.28,324.86 L993.98,326.19 L994.68,327.27 L995.38,328.14 L996.08,328.84 L996.78,329.39 L997.48,329.82 L998.18,330.16 L998.88,330.42 L999.58,330.62 L1000.28,330.77 L1000.52,331.2 Z" fill="#000" fill-opacity="0.06"/>
<path d="M941.48,330.81 L942.18,330.67 L942.88,330.49 L943.58,330.25 L944.28,329.94 L944.98,329.55 L945.68,329.04 L946.38,328.4 L947.08,327.59 L947.78,326.59 L948.48,325.35 L949.18,323.83 L949.88,321.99 L950.58,319.77 L951.28,317.11 L951.98,313.96 L952.68,310.26 L953.38,305.95 L954.08,300.98 L954.78,295.29 L955.48,288.84 L956.18,281.59 L956.88,273.53 L957.58,264.64 L958.28,254.94 L958.98,244.46 L959.68,233.25 L960.38,221.4 L961.08,209.01 L961.78,196.21 L962.48,183.15 L963.18,170.01 L963.88,156.97 L964.58,144.25 L965.28,132.05 L965.98,120.6 L966.68,110.11 L967.38,100.78 L968.08,92.8 L968.78,86.34 L969.48,81.53 L970.18,78.47 L970.88,77.23 L971.58,77.83 L972.28,80.28 L972.98,86.3 L973.68,94.36 L974.38,102.99 L975.08,111.72 L975.78,122.83 L976.48,135.59 L977.18,148.42 L977.88,159.95 L978.58,170.94 L979.28,181.71 L979.98,192.19 L980.68,204.66 L981.38,217.21 L982.08,229.25 L982.78,240.69 L983.48,251.43 L984.18,261.4 L984.88,270.57 L985.58,278.92 L986.28,286.45 L986.98,293.17 L987.68,299.11 L988.38,304.33 L989.08,308.86 L989.78,312.76 L990.48,316.09 L991.18,318.91 L991.88,321.27 L992.58,323.24 L993.28,324.86 L993.98,326.19 L994.68,327.27 L995.38,328.14 L996.08,328.84 L996.78,329.39 L997.48,329.82 L998.18,330.16 L998.88,330.42 L999.58,330.62 L1000.28,330.77" fill="none" stroke="#b8b8b8" stroke-width="1"/>
<path d="M967.4,331.2 L967.4,331.15 L968.1,331.14 L968.8,331.12 L969.5,331.09 L970.2,331.05 L970.9,331.01 L971.6,330.95 L972.3,330.88 L973,330.79 L973.7,330.68 L974.4,330.54 L975.1,330.38 L975.8,330.18 L976.5,329.94 L977.2,329.65 L977.9,329.31 L978.6,328.91 L979.3,328.44 L980,327.91 L980.7,327.29 L981.4,326.6 L982.1,325.81 L982.8,324.93 L983.5,323.96 L984.2,322.9 L984.9,321.75 L985.6,320.5 L986.3,319.18 L987,317.78 L987.7,316.32 L988.4,314.82 L989.1,313.28 L989.8,311.73 L990.5,310.2 L991.2,308.69 L991.9,307.24 L992.6,305.86 L993.3,304.59 L994,303.45 L994.7,303.37 L995.4,304.05 L996.1,304.62 L996.8,305.11 L997.5,305.58 L998.2,306.06 L998.9,306.6 L999.6,307.17 L1000.3,307.75 L1001,308.32 L1001.7,308.89 L1002.4,309.48 L1003.1,310.07 L1003.8,310.68 L1004.5,311.31 L1005.2,311.98 L1005.9,312.71 L1006.6,313.47 L1007.3,314.23 L1008,315.68 L1008.7,317.16 L1009.4,318.59 L1010.1,319.95 L1010.8,321.22 L1011.5,322.42 L1012.2,323.52 L1012.9,324.53 L1013.6,325.45 L1014.3,326.27 L1015,327 L1015.7,327.65 L1016.4,328.22 L1017.1,328.72 L1017.8,329.14 L1018.5,329.51 L1019.2,329.82 L1019.9,330.08 L1020.6,330.3 L1021.3,330.48 L1022,330.62 L1022.7,330.75 L1023.4,330.84 L1024.1,330.92 L1024.8,330.98 L1025.5,331.03 L1026.2,331.07 L1026.9,331.1 L1027.6,331.13 L1028.3,331.15 L1028.6,331.2 Z" fill="#000" fill-opacity="0.06"/>
<path d="M967.4,331.15 L968.1,331.14 L968.8,331.12 L969.5,331.09 L970.2,331.05 L970.9,331.01 L971.6,330.95 L972.3,330.88 L973,330.79 L973.7,330.68 L974.4,330.54 L975.1,330.38 L975.8,330.18 L976.5,329.94 L977.2,329.65 L977.9,329.31 L978.6,328.91 L979.3,328.44 L980,327.91 L980.7,327.29 L981.4,326.6 L982.1,325.81 L982.8,324.93 L983.5,323.96 L984.2,322.9 L984.9,321.75 L985.6,320.5 L986.3,319.18 L987,317.78 L987.7,316.32 L988.4,314.82 L989.1,313.28 L989.8,311.73 L990.5,310.2 L991.2,308.69 L991.9,307.24 L992.6,305.86 L993.3,304.59 L994,303.45 L994.7,303.37 L995.4,304.05 L996.1,304.62 L996.8,305.11 L997.5,305.58 L998.2,306.06 L998.9,306.6 L999.6,307.17 L1000.3,307.75 L1001,308.32 L1001.7,308.89 L1002.4,309.48 L1003.1,310.07 L1003.8,310.68 L1004.5,311.31 L1005.2,311.98 L1005.9,312.71 L1006.6,313.47 L1007.3,314.23 L1008,315.68 L1008.7,317.16 L1009.4,318.59 L1010.1,319.95 L1010.8,321.22 L1011.5,322.42 L1012.2,323.52 L1012.9,324.53 L1013.6,325.45 L1014.3,326.27 L1015,327 L1015.7,327.65 L1016.4,328.22 L1017.1,328.72 L1017.8,329.14 L1018.5,329.51 L1019.2,329.82 L1019.9,330.08 L1020.6,330.3 L1021.3,330.48 L1022,330.62 L1022.7,330.75 L1023.4,330.84 L1024.1,330.92 L1024.8,330.98 L1025.5,331.03 L1026.2,331.07 L1026.9,331.1 L1027.6,331.13 L1028.3,331.15" fill="none" stroke="#b8b8b8" stroke-width="1"/>
<path d="M1013.08,331.2 L1013.08,330.96 L1013.78,330.88 L1014.48,330.79 L1015.18,330.67 L1015.88,330.51 L1016.58,330.32 L1017.28,330.08 L1017.98,329.78 L1018.68,329.41 L1019.38,328.96 L1020.08,328.41 L1020.78,327.75 L1021.48,326.95 L1022.18,326 L1022.88,324.88 L1023.58,323.56 L1024.28,322.01 L1024.98,320.22 L1025.68,318.15 L1026.38,315.78 L1027.08,313.09 L1027.78,310.04 L1028.48,306.63 L1029.18,302.84 L1029.88,298.65 L1030.58,294.05 L1031.28,289.05 L1031.98,283.65 L1032.68,277.87 L1033.38,271.74 L1034.08,266.14 L1034.78,260.3 L1035.48,253.93 L1036.18,246.62 L1036.88,237.67 L1037.58,229.98 L1038.28,222.81 L1038.98,215.81 L1039.68,209.07 L1040.38,203.7 L1041.08,198.92 L1041.78,194.58 L1042.48,190.45 L1043.18,186.1 L1043.88,181.88 L1044.58,178.21 L1045.28,175.47 L1045.98,174.24 L1046.68,174.41 L1047.38,176.24 L1048.08,179.23 L1048.78,183.02 L1049.48,187.21 L1050.18,191.45 L1050.88,195.51 L1051.58,199.93 L1052.28,205 L1052.98,211.54 L1053.68,218.39 L1054.38,225.46 L1055.08,232.66 L1055.78,239.91 L1056.48,248.47 L1057.18,255.44 L1057.88,261.67 L1058.58,267.71 L1059.28,274.06 L1059.98,280.06 L1060.68,285.7 L1061.38,290.95 L1062.08,295.81 L1062.78,300.25 L1063.48,304.29 L1064.18,307.95 L1064.88,311.22 L1065.58,314.13 L1066.28,316.7 L1066.98,318.95 L1067.68,320.92 L1068.38,322.61 L1069.08,324.07 L1069.78,325.32 L1070.48,326.38 L1071.18,327.26 L1071.88,328.01 L1072.58,328.63 L1073.28,329.14 L1073.98,329.56 L1074.68,329.9 L1075.38,330.17 L1076.08,330.4 L1076.78,330.57 L1077.48,330.72 L1078.18,330.83 L1078.88,330.91 L1079.32,331.2 Z" fill="#000" fill-opacity="0.06"/>
<path d="M1013.08,330.96 L1013.78,330.88 L1014.48,330.79 L1015.18,330.67 L1015.88,330.51 L1016.58,330.32 L1017.28,330.08 L1017.98,329.78 L1018.68,329.41 L1019.38,328.96 L1020.08,328.41 L1020.78,327.75 L1021.48,326.95 L1022.18,326 L1022.88,324.88 L1023.58,323.56 L1024.28,322.01 L1024.98,320.22 L1025.68,318.15 L1026.38,315.78 L1027.08,313.09 L1027.78,310.04 L1028.48,306.63 L1029.18,302.84 L1029.88,298.65 L1030.58,294.05 L1031.28,289.05 L1031.98,283.65 L1032.68,277.87 L1033.38,271.74 L1034.08,266.14 L1034.78,260.3 L1035.48,253.93 L1036.18,246.62 L1036.88,237.67 L1037.58,229.98 L1038.28,222.81 L1038.98,215.81 L1039.68,209.07 L1040.38,203.7 L1041.08,198.92 L1041.78,194.58 L1042.48,190.45 L1043.18,186.1 L1043.88,181.88 L1044.58,178.21 L1045.28,175.47 L1045.98,174.24 L1046.68,174.41 L1047.38,176.24 L1048.08,179.23 L1048.78,183.02 L1049.48,187.21 L1050.18,191.45 L1050.88,195.51 L1051.58,199.93 L1052.28,205 L1052.98,211.54 L1053.68,218.39 L1054.38,225.46 L1055.08,232.66 L1055.78,239.91 L1056.48,248.47 L1057.18,255.44 L1057.88,261.67 L1058.58,267.71 L1059.28,274.06 L1059.98,280.06 L1060.68,285.7 L1061.38,290.95 L1062.08,295.81 L1062.78,300.25 L1063.48,304.29 L1064.18,307.95 L1064.88,311.22 L1065.58,314.13 L1066.28,316.7 L1066.98,318.95 L1067.68,320.92 L1068.38,322.61 L1069.08,324.07 L1069.78,325.32 L1070.48,326.38 L1071.18,327.26 L1071.88,328.01 L1072.58,328.63 L1073.28,329.14 L1073.98,329.56 L1074.68,329.9 L1075.38,330.17 L1076.08,330.4 L1076.78,330.57 L1077.48,330.72 L1078.18,330.83 L1078.88,330.91" fill="none" stroke="#b8b8b8" stroke-width="1"/>
<path d="M1141.4,331.2 L1141.4,331.2 L1142.1,331.2 L1142.8,331.2 L1143.5,331.2 L1144.2,331.2 L1144.9,331.2 L1145.6,331.2 L1146.3,331.2 L1147,331.2 L1147.7,331.2 L1148.4,331.2 L1149.1,331.2 L1149.8,331.2 L1150.5,330.92 L1151.2,330.46 L1151.9,329.97 L1152.6,329.45 L1153.3,328.94 L1154,328.44 L1154.7,327.99 L1155.4,327.6 L1156.1,327.3 L1156.8,327.09 L1157.5,327 L1158.2,327.05 L1158.9,327.24 L1159.6,327.53 L1160.3,327.92 L1161,328.37 L1161.7,328.87 L1162.4,329.41 L1163.1,329.95 L1163.8,330.47 L1164.5,330.96 L1165.2,331.2 L1165.9,331.2 L1166.6,331.2 L1167.3,331.2 L1168,331.2 L1168.7,331.2 L1169.4,331.2 L1170.1,331.2 L1170.8,331.2 L1171.5,331.2 L1172.2,331.2 L1172.9,331.2 L1173.6,331.2 L1173.8,331.2 Z" fill="#000" fill-opacity="0.06"/>
<path d="M1141.4,331.2 L1142.1,331.2 L1142.8,331.2 L1143.5,331.2 L1144.2,331.2 L1144.9,331.2 L1145.6,331.2 L1146.3,331.2 L1147,331.2 L1147.7,331.2 L1148.4,331.2 L1149.1,331.2 L1149.8,331.2 L1150.5,330.92 L1151.2,330.46 L1151.9,329.97 L1152.6,329.45 L1153.3,328.94 L1154,328.44 L1154.7,327.99 L1155.4,327.6 L1156.1,327.3 L1156.8,327.09 L1157.5,327 L1158.2,327.05 L1158.9,327.24 L1159.6,327.53 L1160.3,327.92 L1161,328.37 L1161.7,328.87 L1162.4,329.41 L1163.1,329.95 L1163.8,330.47 L1164.5,330.96 L1165.2,331.2 L1165.9,331.2 L1166.6,331.2 L1167.3,331.2 L1168,331.2 L1168.7,331.2 L1169.4,331.2 L1170.1,331.2 L1170.8,331.2 L1171.5,331.2 L1172.2,331.2 L1172.9,331.2 L1173.6,331.2" fill="none" stroke="#b8b8b8" stroke-width="1"/>
<path d="M744.8,331.09 L745.8,331.02 L746.8,330.99 L747.8,331.06 L748.8,331.33 L749.8,331.61 L750.8,331.49 L751.8,331.26 L752.8,331.11 L753.8,331.09 L754.8,331.08 L755.8,331.21 L756.8,331.36 L757.8,331.45 L758.8,331.37 L759.8,331.3 L760.8,331.41 L761.8,331.58 L762.8,331.64 L763.8,331.46 L764.8,331.29 L765.8,331.43 L766.8,331.64 L767.8,331.74 L768.8,331.57 L769.8,331.41 L770.8,331.45 L771.8,331.54 L772.8,331.64 L773.8,331.76 L774.8,331.87 L775.8,331.86 L776.8,331.82 L777.8,331.82 L778.8,331.91 L779.8,332.01 L780.8,332 L781.8,331.96 L782.8,331.89 L783.8,331.73 L784.8,331.57 L785.8,331.73 L786.8,331.98 L787.8,332.13 L788.8,332.06 L789.8,331.98 L790.8,331.88 L791.8,331.74 L792.8,331.56 L793.8,331.39 L794.8,331.19 L795.8,331.16 L796.8,331.18 L797.8,331.13 L798.8,330.92 L799.8,330.74 L800.8,330.75 L801.8,330.84 L802.8,330.94 L803.8,330.96 L804.8,331.02 L805.8,331.17 L806.8,331.35 L807.8,331.49 L808.8,331.5 L809.8,331.5 L810.8,331.6 L811.8,331.69 L812.8,331.73 L813.8,331.61 L814.8,331.36 L815.8,330.94 L816.8,330.41 L817.8,329.91 L818.8,329.58 L819.8,329.24 L820.8,328.6 L821.8,327.93 L822.8,327.41 L823.8,327.19 L824.8,327.08 L825.8,327.04 L826.8,327.12 L827.8,327.26 L828.8,327.37 L829.8,327.53 L830.8,327.67 L831.8,327.79 L832.8,327.99 L833.8,328.37 L834.8,328.67 L835.8,328.68 L836.8,328.51 L837.8,328.19 L838.8,327.69 L839.8,327.1 L840.8,326.51 L841.8,325.88 L842.8,325.26 L843.8,324.51 L844.8,323.22 L845.8,321.4 L846.8,319.44 L847.8,317.78 L848.8,316.8 L849.8,316 L850.8,314.95 L851.8,313.99 L852.8,313.4 L853.8,313.31 L854.8,313.37 L855.8,313.44 L856.8,313.56 L857.8,313.75 L858.8,314.05 L859.8,314.58 L860.8,315.75 L861.8,317.27 L862.8,318.75 L863.8,319.77 L864.8,320.6 L865.8,321.6 L866.8,322.49 L867.8,323.1 L868.8,323.28 L869.8,323.21 L870.8,322.88 L871.8,322.41 L872.8,321.91 L873.8,321.46 L874.8,320.98 L875.8,320.37 L876.8,319.55 L877.8,318.56 L878.8,317.42 L879.8,316.2 L880.8,315.01 L881.8,313.7 L882.8,312.17 L883.8,310.47 L884.8,308.74 L885.8,307 L886.8,305.12 L887.8,303.28 L888.8,301.83 L889.8,300.7 L890.8,299.68 L891.8,298.74 L892.8,297.95 L893.8,297.41 L894.8,296.96 L895.8,296.6 L896.8,296.35 L897.8,296.21 L898.8,296.17 L899.8,296.09 L900.8,295.88 L901.8,295.5 L902.8,294.23 L903.8,289.55 L904.8,283.52 L905.8,275.37 L906.8,268.79 L907.8,263.38 L908.8,255.5 L909.8,243.06 L910.8,231.05 L911.8,219.78 L912.8,211.29 L913.8,204.94 L914.8,199.94 L915.8,198.05 L916.8,200.99 L917.8,207.45 L918.8,214.8 L919.8,224.84 L920.8,235.31 L921.8,245.98 L922.8,255.97 L923.8,263.62 L924.8,269.78 L925.8,274.53 L926.8,278.57 L927.8,281.84 L928.8,284.22 L929.8,286.35 L930.8,288.26 L931.8,289.48 L932.8,289.75 L933.8,289.82 L934.8,289.89 L935.8,288.75 L936.8,286.22 L937.8,284.58 L938.8,284.74 L939.8,285.43 L940.8,286.49 L941.8,287.44 L942.8,288.2 L943.8,288.77 L944.8,289.42 L945.8,290.6 L946.8,292.14 L947.8,293.7 L948.8,295.03 L949.8,295.84 L950.8,295.8 L951.8,294.9 L952.8,293.2 L953.8,290.68 L954.8,282.72 L955.8,265.5 L956.8,249.47 L957.8,239.2 L958.8,230.45 L959.8,221.03 L960.8,208.57 L961.8,189.16 L962.8,166.77 L963.8,147.39 L964.8,129.11 L965.8,113.44 L966.8,102.36 L967.8,92.25 L968.8,83.26 L969.8,76.64 L970.8,73.51 L971.8,75.64 L972.8,83.62 L973.8,95.09 L974.8,107.44 L975.8,122.52 L976.8,140.86 L977.8,157.96 L978.8,173.55 L979.8,188.64 L980.8,203.21 L981.8,216.97 L982.8,229.97 L983.8,242.16 L984.8,253.61 L985.8,264.67 L986.8,273.82 L987.8,280.89 L988.8,286.8 L989.8,291.1 L990.8,294.34 L991.8,297.04 L992.8,299.33 L993.8,301.29 L994.8,302.65 L995.8,303.62 L996.8,304.38 L997.8,305.05 L998.8,305.71 L999.8,306.44 L1000.8,307.2 L1001.8,307.98 L1002.8,308.83 L1003.8,309.84 L1004.8,310.89 L1005.8,311.88 L1006.8,312.9 L1007.8,313.9 L1008.8,314.79 L1009.8,315.53 L1010.8,316.26 L1011.8,316.93 L1012.8,317.54 L1013.8,318.1 L1014.8,318.35 L1015.8,318.13 L1016.8,317.73 L1017.8,317.29 L1018.8,316.85 L1019.8,316.37 L1020.8,315.93 L1021.8,315.49 L1022.8,314.96 L1023.8,314.28 L1024.8,313.38 L1025.8,312.34 L1026.8,310.77 L1027.8,306.9 L1028.8,301.13 L1029.8,294.79 L1030.8,288.79 L1031.8,282.21 L1032.8,275.02 L1033.8,267.35 L1034.8,259.05 L1035.8,249.8 L1036.8,237.84 L1037.8,225.07 L1038.8,215.33 L1039.8,207.02 L1040.8,199.8 L1041.8,193.52 L1042.8,187.59 L1043.8,181.58 L1044.8,176.57 L1045.8,173.7 L1046.8,174.08 L1047.8,177.41 L1048.8,182.6 L1049.8,188.61 L1050.8,194.29 L1051.8,200.45 L1052.8,207.67 L1053.8,216.13 L1054.8,226.18 L1055.8,239.28 L1056.8,251.15 L1057.8,260.37 L1058.8,268.3 L1059.8,275.68 L1060.8,283.05 L1061.8,289.65 L1062.8,294.82 L1063.8,299.33 L1064.8,303.33 L1065.8,306.77 L1066.8,309.73 L1067.8,312.34 L1068.8,314.8 L1069.8,317.03 L1070.8,318.96 L1071.8,320.67 L1072.8,322.18 L1073.8,323.58 L1074.8,324.95 L1075.8,326.24 L1076.8,327.38 L1077.8,328.32 L1078.8,329.04 L1079.8,329.45 L1080.8,329.8 L1081.8,330.11 L1082.8,330.38 L1083.8,330.57 L1084.8,330.72 L1085.8,331.01 L1086.8,331.3 L1087.8,331.45 L1088.8,331.33 L1089.8,331.19 L1090.8,331.32 L1091.8,331.53 L1092.8,331.65 L1093.8,331.58 L1094.8,331.52 L1095.8,331.37 L1096.8,331.21 L1097.8,331.13 L1098.8,331.25 L1099.8,331.37 L1100.8,331.42 L1101.8,331.45 L1102.8,331.43 L1103.8,331.27 L1104.8,331.11 L1105.8,331.18 L1106.8,331.3 L1107.8,331.35 L1108.8,331.22 L1109.8,331.09 L1110.8,331.23 L1111.8,331.43 L1112.8,331.51 L1113.8,331.3 L1114.8,331.08 L1115.8,331.18 L1116.8,331.35 L1117.8,331.5 L1118.8,331.6 L1119.8,331.7 L1120.8,331.68 L1121.8,331.64 L1122.8,331.56 L1123.8,331.38 L1124.8,331.21 L1125.8,331.24 L1126.8,331.32 L1127.8,331.34 L1128.8,331.22 L1129.8,331.11 L1130.8,331.12 L1131.8,331.18 L1132.8,331.25 L1133.8,331.39 L1134.8,331.53 L1135.8,331.55 L1136.8,331.53 L1137.8,331.44 L1138.8,331.21 L1139.8,330.97 L1140.8,331 L1141.8,331.1 L1142.8,331.18 L1143.8,331.25 L1144.8,331.31 L1145.8,331.21 L1146.8,331.07 L1147.8,331.01 L1148.8,330.96 L1149.8,330.7 L1150.8,330.16 L1151.8,329.5 L1152.8,328.75 L1153.8,327.93 L1154.8,327.19 L1155.8,326.61 L1156.8,326.23 L1157.8,326.15 L1158.8,326.48 L1159.8,327.05 L1160.8,327.6 L1161.8,328.22 L1162.8,328.9 L1163.8,329.56 L1164.8,330.16 L1165.8,330.72 L1166.8,331.11 L1167.8,331.23 L1168.8,331.2 L1169.8,331.17 L1170.8,331.31 L1171.8,331.5 L1172.8,331.61 L1173.8,331.52 L1174.8,331.43 L1175.8,331.45 L1176.8,331.5 L1177.8,331.55 L1178.8,331.58 L1179.8,331.62 L1180.8,331.66 L1181.8,331.7 L1182.8,331.67 L1183.8,331.45 L1184.8,331.23 L1185.8,331.23 L1186.8,331.29 L1187.8,331.37 L1188.8,331.5 L1189.8,331.64 L1190.8,331.64 L1191.8,331.61 L1192.8,331.55 L1193.8,331.45 L1194.8,331.34 L1195.8,331.38 L1196.8,331.46 L1197.8,331.47 L1198.8,331.34 L1199.8,331.21 L1200.8,331.18 L1201.8,331.17 L1202.8,331.15 L1203.8,331.12 L1204.8,331.09 L1205.8,331.16 L1206.8,331.25 L1207.8,331.31 L1208.8,331.27 L1209.8,331.23 L1210.8,331.28 L1211.8,331.36 L1212.8,331.46 L1213.8,331.58 L1214.8,331.71 L1215.8,331.55 L1216.8,331.33 L1217.8,331.2 L1218.8,331.32 L1219.8,331.43 L1220.8,331.52 L1221.8,331.61 L1222.8,331.65 L1223.8,331.58 L1224.8,331.5 L1225.8,331.48 L1226.8,331.46 L1227.8,331.46 L1228.8,331.53 L1229.8,331.6 L1230.8,331.45 L1231.8,331.24 L1232.8,331.18 L1233.8,331.44 L1234.8,331.7 L1235.8,331.7 L1236.8,331.62 L1237.8,331.59 L1238.8,331.62 L1239.8,331.66 L1240.8,331.67 L1241.8,331.68 L1242.8,331.62 L1243.8,331.42 L1244.8,331.22 L1245.8,331.17 L1246.8,331.17 L1247.8,331.17 L1248.8,331.21 L1249.8,331.24 L1250.8,331.32 L1251.8,331.42 L1252.8,331.52 L1253.8,331.64 L1254.8,331.77 L1255.8,331.79 L1256.8,331.78 L1257.8,331.74 L1258.8,331.6 L1259.8,331.47" fill="none" stroke="#9c9cf4" stroke-width="1.55" stroke-linejoin="round"/>
<text x="857" y="303.8" font-size="16.2" text-anchor="middle" fill="#333" font-weight="normal" stroke="#333" stroke-width="0.3" >5.20</text>
<text x="886" y="289.8" font-size="16.2" text-anchor="middle" fill="#333" font-weight="normal" stroke="#333" stroke-width="0.3" >5.30</text>
<text x="917.4" y="191.8" font-size="16.2" text-anchor="middle" fill="#333" font-weight="normal" stroke="#333" stroke-width="0.3" >5.36</text>
<text x="943" y="276.1" font-size="16.2" text-anchor="middle" fill="#333" font-weight="normal" stroke="#333" stroke-width="0.3" >5.41</text>
<text x="975.5" y="65.4" font-size="16.2" text-anchor="middle" fill="#333" font-weight="normal" stroke="#333" stroke-width="0.3" >5.51</text>
<text x="1009" y="284.8" font-size="16.2" text-anchor="middle" fill="#333" font-weight="normal" stroke="#333" stroke-width="0.3" >5.60</text>
<text x="1049.4" y="164.4" font-size="16.2" text-anchor="middle" fill="#333" font-weight="normal" stroke="#333" stroke-width="0.3" >5.74</text>
<text x="1161.4" y="319.6" font-size="16.2" text-anchor="middle" fill="#333" font-weight="normal" stroke="#333" stroke-width="0.3" >6.02</text>
<line x1="817.6" y1="259.3" x2="832.28" y2="275.17" stroke="#1d98d5" stroke-width="2.0"/>
<path d="M838.6,282 L825.85,276.76 L832.28,275.17 L834.37,268.89 Z" fill="#1d98d5"/>
<line x1="853.8" y1="243.4" x2="868.33" y2="259.33" stroke="#1d98d5" stroke-width="2.0"/>
<path d="M874.6,266.2 L861.89,260.87 L868.33,259.33 L870.46,253.06 Z" fill="#1d98d5"/>
<line x1="939.4" y1="219.7" x2="939.4" y2="248.3" stroke="#1d98d5" stroke-width="2.0"/>
<path d="M939.4,257.6 L933.6,245.1 L939.4,248.3 L945.2,245.1 Z" fill="#1d98d5"/>
<line x1="106" y1="482" x2="106" y2="784" stroke="#d6d6d6" stroke-width="1.5"/>
<line x1="105.25" y1="784" x2="617.3" y2="784" stroke="#c9c9c9" stroke-width="2.2"/>
<text x="143.8" y="806.2" font-size="20.6" text-anchor="middle" fill="#111" font-weight="normal" stroke="#111" stroke-width="0.4" >5.0</text>
<text x="217.04" y="806.2" font-size="20.6" text-anchor="middle" fill="#111" font-weight="normal" stroke="#111" stroke-width="0.4" >5.2</text>
<text x="290.28" y="806.2" font-size="20.6" text-anchor="middle" fill="#111" font-weight="normal" stroke="#111" stroke-width="0.4" >5.4</text>
<text x="363.52" y="806.2" font-size="20.6" text-anchor="middle" fill="#111" font-weight="normal" stroke="#111" stroke-width="0.4" >5.6</text>
<text x="436.76" y="806.2" font-size="20.6" text-anchor="middle" fill="#111" font-weight="normal" stroke="#111" stroke-width="0.4" >5.8</text>
<text x="510" y="806.2" font-size="20.6" text-anchor="middle" fill="#111" font-weight="normal" stroke="#111" stroke-width="0.4" >6.0</text>
<text x="583.24" y="806.2" font-size="20.6" text-anchor="middle" fill="#111" font-weight="normal" stroke="#111" stroke-width="0.4" >6.2</text>
<text x="99.8" y="776.45" font-size="20.6" text-anchor="end" fill="#111" font-weight="normal" stroke="#111" stroke-width="0.4" >0</text>
<text x="99.8" y="736.22" font-size="20.6" text-anchor="end" fill="#111" font-weight="normal" stroke="#111" stroke-width="0.4" >100</text>
<text x="99.8" y="695.99" font-size="20.6" text-anchor="end" fill="#111" font-weight="normal" stroke="#111" stroke-width="0.4" >200</text>
<text x="99.8" y="655.76" font-size="20.6" text-anchor="end" fill="#111" font-weight="normal" stroke="#111" stroke-width="0.4" >300</text>
<text x="99.8" y="615.53" font-size="20.6" text-anchor="end" fill="#111" font-weight="normal" stroke="#111" stroke-width="0.4" >400</text>
<text x="99.8" y="575.3" font-size="20.6" text-anchor="end" fill="#111" font-weight="normal" stroke="#111" stroke-width="0.4" >500</text>
<text x="99.8" y="535.07" font-size="20.6" text-anchor="end" fill="#111" font-weight="normal" stroke="#111" stroke-width="0.4" >600</text>
<text x="99.8" y="494.84" font-size="20.6" text-anchor="end" fill="#111" font-weight="normal" stroke="#111" stroke-width="0.4" >700</text>
<text x="363.5" y="835.6" font-size="20" text-anchor="middle" fill="#111" font-weight="normal" stroke="#111" stroke-width="0.4" >pI</text>
<text x="0" y="0" font-size="20.4" text-anchor="middle" fill="#111" stroke="#111" stroke-width="0.4" transform="translate(50.8,633) rotate(-90)" textLength="181.5" lengthAdjust="spacingAndGlyphs">Chemiluminescence</text>
<text x="120.6" y="509.6" font-size="20" text-anchor="start" fill="#111" font-weight="normal" stroke="#111" stroke-width="0.4" textLength="96" lengthAdjust="spacingAndGlyphs">+Ins &amp; Cur</text>
<path d="M169.5,770 L169.5,770 L170.2,770 L170.9,770 L171.6,770 L172.3,770 L173,770 L173.7,770 L174.4,770 L175.1,770 L175.8,770 L176.5,769.87 L177.2,769.74 L177.9,769.59 L178.6,769.44 L179.3,769.27 L180,769.02 L180.7,768.72 L181.4,768.38 L182.1,768.02 L182.8,767.65 L183.5,767.28 L184.2,766.94 L184.9,766.63 L185.6,766.38 L186.3,766.2 L187,766.11 L187.7,766.13 L188.4,766.29 L189.1,766.56 L189.8,766.92 L190.5,767.31 L191.2,767.72 L191.9,768.09 L192.6,768.41 L193.3,768.62 L194,768.7 L194.7,768.69 L195.4,768.85 L196.1,769.09 L196.8,769.29 L197.5,769.46 L198.2,769.59 L198.9,769.7 L199.6,769.79 L200.3,769.85 L201,769.9 L201.7,769.93 L202.4,769.95 L203.1,769.97 L203.8,769.98 L204.5,769.99 L205.2,769.99 L205.5,770 Z" fill="#000" fill-opacity="0.06"/>
<path d="M169.5,770 L170.2,770 L170.9,770 L171.6,770 L172.3,770 L173,770 L173.7,770 L174.4,770 L175.1,770 L175.8,770 L176.5,769.87 L177.2,769.74 L177.9,769.59 L178.6,769.44 L179.3,769.27 L180,769.02 L180.7,768.72 L181.4,768.38 L182.1,768.02 L182.8,767.65 L183.5,767.28 L184.2,766.94 L184.9,766.63 L185.6,766.38 L186.3,766.2 L187,766.11 L187.7,766.13 L188.4,766.29 L189.1,766.56 L189.8,766.92 L190.5,767.31 L191.2,767.72 L191.9,768.09 L192.6,768.41 L193.3,768.62 L194,768.7 L194.7,768.69 L195.4,768.85 L196.1,769.09 L196.8,769.29 L197.5,769.46 L198.2,769.59 L198.9,769.7 L199.6,769.79 L200.3,769.85 L201,769.9 L201.7,769.93 L202.4,769.95 L203.1,769.97 L203.8,769.98 L204.5,769.99 L205.2,769.99" fill="none" stroke="#b8b8b8" stroke-width="1"/>
<path d="M190.68,770 L190.68,769.97 L191.38,769.95 L192.08,769.93 L192.78,769.9 L193.48,769.86 L194.18,769.8 L194.88,769.72 L195.58,769.61 L196.28,769.47 L196.98,769.29 L197.68,769.06 L198.38,768.76 L199.08,768.39 L199.78,768.29 L200.48,768.18 L201.18,768.06 L201.88,767.86 L202.58,767.31 L203.28,766.45 L203.98,765.39 L204.68,764.23 L205.38,763.07 L206.08,761.66 L206.78,759.95 L207.48,758.14 L208.18,756.44 L208.88,755.04 L209.58,754 L210.28,752.98 L210.98,752.02 L211.68,751.21 L212.38,750.61 L213.08,750.32 L213.78,750.33 L214.48,750.56 L215.18,751.2 L215.88,752.05 L216.58,753.07 L217.28,754.24 L217.98,755.51 L218.68,756.85 L219.38,758.22 L220.08,759.58 L220.78,760.9 L221.48,762.15 L222.18,763.32 L222.88,764.38 L223.58,765.34 L224.28,766.18 L224.98,766.91 L225.68,767.53 L226.38,768.05 L227.08,768.48 L227.78,768.83 L228.48,769.11 L229.18,769.34 L229.88,769.51 L230.58,769.64 L231.28,769.74 L231.98,769.82 L232.68,769.87 L233.38,769.91 L234.08,769.94 L234.78,769.96 L235.32,770 Z" fill="#000" fill-opacity="0.06"/>
<path d="M190.68,769.97 L191.38,769.95 L192.08,769.93 L192.78,769.9 L193.48,769.86 L194.18,769.8 L194.88,769.72 L195.58,769.61 L196.28,769.47 L196.98,769.29 L197.68,769.06 L198.38,768.76 L199.08,768.39 L199.78,768.29 L200.48,768.18 L201.18,768.06 L201.88,767.86 L202.58,767.31 L203.28,766.45 L203.98,765.39 L204.68,764.23 L205.38,763.07 L206.08,761.66 L206.78,759.95 L207.48,758.14 L208.18,756.44 L208.88,755.04 L209.58,754 L210.28,752.98 L210.98,752.02 L211.68,751.21 L212.38,750.61 L213.08,750.32 L213.78,750.33 L214.48,750.56 L215.18,751.2 L215.88,752.05 L216.58,753.07 L217.28,754.24 L217.98,755.51 L218.68,756.85 L219.38,758.22 L220.08,759.58 L220.78,760.9 L221.48,762.15 L222.18,763.32 L222.88,764.38 L223.58,765.34 L224.28,766.18 L224.98,766.91 L225.68,767.53 L226.38,768.05 L227.08,768.48 L227.78,768.83 L228.48,769.11 L229.18,769.34 L229.88,769.51 L230.58,769.64 L231.28,769.74 L231.98,769.82 L232.68,769.87 L233.38,769.91 L234.08,769.94 L234.78,769.96" fill="none" stroke="#b8b8b8" stroke-width="1"/>
<path d="M227.7,770 L227.7,769.96 L228.4,769.94 L229.1,769.92 L229.8,769.9 L230.5,769.86 L231.2,769.82 L231.9,769.76 L232.6,769.69 L233.3,769.6 L234,769.48 L234.7,769.34 L235.4,769.17 L236.1,768.95 L236.8,768.7 L237.5,768.39 L238.2,768.03 L238.9,767.6 L239.6,767.1 L240.3,766.53 L241,765.87 L241.7,765.12 L242.4,764.29 L243.1,763.36 L243.8,762.34 L244.5,761.23 L245.2,760.04 L245.9,758.78 L246.6,757.44 L247.3,756.06 L248,754.65 L248.7,753.21 L249.4,751.79 L250.1,750.39 L250.8,749.05 L251.5,747.79 L252.2,746.63 L252.9,745.6 L253.6,744.72 L254.3,744 L255,743.47 L255.7,743.22 L256.4,743.12 L257.1,743.11 L257.8,743.35 L258.5,743.83 L259.2,744.49 L259.9,745.33 L260.6,746.32 L261.3,747.45 L262,748.68 L262.7,750 L263.4,751.39 L264.1,752.81 L264.8,754.24 L265.5,755.66 L266.2,757.05 L266.9,758.4 L267.6,759.69 L268.3,760.9 L269,762.03 L269.7,763.08 L270.4,764.03 L271.1,764.89 L271.8,765.66 L272.5,766.35 L273.2,766.94 L273.9,767.46 L274.6,767.91 L275.3,768.29 L276,768.62 L276.7,768.89 L277.4,769.11 L278.1,769.29 L278.8,769.45 L279.5,769.57 L280.2,769.66 L280.9,769.74 L281.6,769.8 L282.3,769.85 L283,769.89 L283.7,769.92 L284.4,769.94 L285.1,769.95 L285.3,770 Z" fill="#000" fill-opacity="0.06"/>
<path d="M227.7,769.96 L228.4,769.94 L229.1,769.92 L229.8,769.9 L230.5,769.86 L231.2,769.82 L231.9,769.76 L232.6,769.69 L233.3,769.6 L234,769.48 L234.7,769.34 L235.4,769.17 L236.1,768.95 L236.8,768.7 L237.5,768.39 L238.2,768.03 L238.9,767.6 L239.6,767.1 L240.3,766.53 L241,765.87 L241.7,765.12 L242.4,764.29 L243.1,763.36 L243.8,762.34 L244.5,761.23 L245.2,760.04 L245.9,758.78 L246.6,757.44 L247.3,756.06 L248,754.65 L248.7,753.21 L249.4,751.79 L250.1,750.39 L250.8,749.05 L251.5,747.79 L252.2,746.63 L252.9,745.6 L253.6,744.72 L254.3,744 L255,743.47 L255.7,743.22 L256.4,743.12 L257.1,743.11 L257.8,743.35 L258.5,743.83 L259.2,744.49 L259.9,745.33 L260.6,746.32 L261.3,747.45 L262,748.68 L262.7,750 L263.4,751.39 L264.1,752.81 L264.8,754.24 L265.5,755.66 L266.2,757.05 L266.9,758.4 L267.6,759.69 L268.3,760.9 L269,762.03 L269.7,763.08 L270.4,764.03 L271.1,764.89 L271.8,765.66 L272.5,766.35 L273.2,766.94 L273.9,767.46 L274.6,767.91 L275.3,768.29 L276,768.62 L276.7,768.89 L277.4,769.11 L278.1,769.29 L278.8,769.45 L279.5,769.57 L280.2,769.66 L280.9,769.74 L281.6,769.8 L282.3,769.85 L283,769.89 L283.7,769.92 L284.4,769.94 L285.1,769.95" fill="none" stroke="#b8b8b8" stroke-width="1"/>
<path d="M248.6,770 L248.6,769.88 L249.3,769.84 L250,769.78 L250.7,769.71 L251.4,769.61 L252.1,769.49 L252.8,769.33 L253.5,769.12 L254.2,768.87 L254.9,768.54 L255.6,768.14 L256.3,767.65 L257,767.06 L257.7,766.34 L258.4,765.47 L259.1,764.45 L259.8,763.24 L260.5,761.84 L261.2,760.22 L261.9,758.37 L262.6,756.27 L263.3,753.92 L264,751.31 L264.7,748.44 L265.4,745.33 L266.1,744.1 L266.8,742.64 L267.5,740.89 L268.2,738.93 L268.9,736.83 L269.6,734.66 L270.3,732.48 L271,729.52 L271.7,725.55 L272.4,720.87 L273.1,715.78 L273.8,710.59 L274.5,705.61 L275.2,701.14 L275.9,697.5 L276.6,694.99 L277.3,694.01 L278,694.21 L278.7,695.3 L279.4,697.05 L280.1,699.34 L280.8,702.03 L281.5,705.02 L282.2,708.17 L282.9,711.36 L283.6,714.46 L284.3,717.61 L285,721.6 L285.7,725.63 L286.4,729.64 L287.1,733.56 L287.8,737.35 L288.5,740.98 L289.2,744.39 L289.9,747.58 L290.6,750.52 L291.3,753.2 L292,755.63 L292.7,757.79 L293.4,759.71 L294.1,761.4 L294.8,762.86 L295.5,764.12 L296.2,765.2 L296.9,766.1 L297.6,766.86 L298.3,767.5 L299,768.01 L299.7,768.44 L300.4,768.78 L301.1,769.06 L301.8,769.27 L302.5,769.45 L303.2,769.58 L303.9,769.69 L304.6,769.77 L305.3,769.83 L306,769.87 L306.2,770 Z" fill="#000" fill-opacity="0.06"/>
<path d="M248.6,769.88 L249.3,769.84 L250,769.78 L250.7,769.71 L251.4,769.61 L252.1,769.49 L252.8,769.33 L253.5,769.12 L254.2,768.87 L254.9,768.54 L255.6,768.14 L256.3,767.65 L257,767.06 L257.7,766.34 L258.4,765.47 L259.1,764.45 L259.8,763.24 L260.5,761.84 L261.2,760.22 L261.9,758.37 L262.6,756.27 L263.3,753.92 L264,751.31 L264.7,748.44 L265.4,745.33 L266.1,744.1 L266.8,742.64 L267.5,740.89 L268.2,738.93 L268.9,736.83 L269.6,734.66 L270.3,732.48 L271,729.52 L271.7,725.55 L272.4,720.87 L273.1,715.78 L273.8,710.59 L274.5,705.61 L275.2,701.14 L275.9,697.5 L276.6,694.99 L277.3,694.01 L278,694.21 L278.7,695.3 L279.4,697.05 L280.1,699.34 L280.8,702.03 L281.5,705.02 L282.2,708.17 L282.9,711.36 L283.6,714.46 L284.3,717.61 L285,721.6 L285.7,725.63 L286.4,729.64 L287.1,733.56 L287.8,737.35 L288.5,740.98 L289.2,744.39 L289.9,747.58 L290.6,750.52 L291.3,753.2 L292,755.63 L292.7,757.79 L293.4,759.71 L294.1,761.4 L294.8,762.86 L295.5,764.12 L296.2,765.2 L296.9,766.1 L297.6,766.86 L298.3,767.5 L299,768.01 L299.7,768.44 L300.4,768.78 L301.1,769.06 L301.8,769.27 L302.5,769.45 L303.2,769.58 L303.9,769.69 L304.6,769.77 L305.3,769.83 L306,769.87" fill="none" stroke="#b8b8b8" stroke-width="1"/>
<path d="M274.4,770 L274.4,769.96 L275.1,769.94 L275.8,769.93 L276.5,769.9 L277.2,769.87 L277.9,769.83 L278.6,769.78 L279.3,769.72 L280,769.64 L280.7,769.55 L281.4,769.43 L282.1,769.28 L282.8,769.11 L283.5,768.9 L284.2,768.65 L284.9,768.35 L285.6,768 L286.3,767.6 L287,767.13 L287.7,766.6 L288.4,765.99 L289.1,765.31 L289.8,764.54 L290.5,763.7 L291.2,762.77 L291.9,761.77 L292.6,760.68 L293.3,759.53 L294,758.31 L294.7,757.04 L295.4,755.73 L296.1,754.39 L296.8,753.05 L297.5,751.71 L298.2,750.39 L298.9,749.13 L299.6,747.93 L300.3,746.83 L301,745.83 L301.7,744.96 L302.4,744.63 L303.1,744.41 L303.8,744.24 L304.5,744.13 L305.2,744.1 L305.9,744.13 L306.6,744.19 L307.3,744.28 L308,744.63 L308.7,745.44 L309.4,746.39 L310.1,747.45 L310.8,748.61 L311.5,749.85 L312.2,751.14 L312.9,752.47 L313.6,753.82 L314.3,755.16 L315,756.49 L315.7,757.77 L316.4,759.02 L317.1,760.2 L317.8,761.31 L318.5,762.35 L319.2,763.31 L319.9,764.19 L320.6,764.99 L321.3,765.71 L322,766.35 L322.7,766.91 L323.4,767.41 L324.1,767.84 L324.8,768.21 L325.5,768.53 L326.2,768.8 L326.9,769.02 L327.6,769.21 L328.3,769.37 L329,769.5 L329.7,769.6 L330.4,769.69 L331.1,769.76 L331.8,769.81 L332.5,769.86 L333.2,769.89 L333.9,769.92 L334.6,769.94 L335.3,769.95 L335.6,770 Z" fill="#000" fill-opacity="0.06"/>
<path d="M274.4,769.96 L275.1,769.94 L275.8,769.93 L276.5,769.9 L277.2,769.87 L277.9,769.83 L278.6,769.78 L279.3,769.72 L280,769.64 L280.7,769.55 L281.4,769.43 L282.1,769.28 L282.8,769.11 L283.5,768.9 L284.2,768.65 L284.9,768.35 L285.6,768 L286.3,767.6 L287,767.13 L287.7,766.6 L288.4,765.99 L289.1,765.31 L289.8,764.54 L290.5,763.7 L291.2,762.77 L291.9,761.77 L292.6,760.68 L293.3,759.53 L294,758.31 L294.7,757.04 L295.4,755.73 L296.1,754.39 L296.8,753.05 L297.5,751.71 L298.2,750.39 L298.9,749.13 L299.6,747.93 L300.3,746.83 L301,745.83 L301.7,744.96 L302.4,744.63 L303.1,744.41 L303.8,744.24 L304.5,744.13 L305.2,744.1 L305.9,744.13 L306.6,744.19 L307.3,744.28 L308,744.63 L308.7,745.44 L309.4,746.39 L310.1,747.45 L310.8,748.61 L311.5,749.85 L312.2,751.14 L312.9,752.47 L313.6,753.82 L314.3,755.16 L315,756.49 L315.7,757.77 L316.4,759.02 L317.1,760.2 L317.8,761.31 L318.5,762.35 L319.2,763.31 L319.9,764.19 L320.6,764.99 L321.3,765.71 L322,766.35 L322.7,766.91 L323.4,767.41 L324.1,767.84 L324.8,768.21 L325.5,768.53 L326.2,768.8 L326.9,769.02 L327.6,769.21 L328.3,769.37 L329,769.5 L329.7,769.6 L330.4,769.69 L331.1,769.76 L331.8,769.81 L332.5,769.86 L333.2,769.89 L333.9,769.92 L334.6,769.94 L335.3,769.95" fill="none" stroke="#b8b8b8" stroke-width="1"/>
<path d="M303.16,770 L303.16,769.61 L303.86,769.48 L304.56,769.3 L305.26,769.07 L305.96,768.78 L306.66,768.4 L307.36,767.92 L308.06,767.32 L308.76,766.56 L309.46,765.62 L310.16,764.47 L310.86,763.06 L311.56,761.35 L312.26,759.3 L312.96,756.85 L313.66,753.94 L314.36,750.54 L315.06,746.57 L315.76,742 L316.46,736.76 L317.16,731.74 L317.86,727.52 L318.56,721.09 L319.26,711.96 L319.96,701.41 L320.66,690.69 L321.36,679.75 L322.06,667.89 L322.76,656.12 L323.46,643.88 L324.16,631.94 L324.86,620.56 L325.56,609.2 L326.26,597.72 L326.96,585.53 L327.66,572.45 L328.36,560 L329.06,549.75 L329.76,541.73 L330.46,533.84 L331.16,526.55 L331.86,520.45 L332.56,517.27 L333.26,516.04 L333.96,516.56 L334.66,518.84 L335.36,523.56 L336.06,530.2 L336.76,537.68 L337.46,545.46 L338.16,553.82 L338.86,564.67 L339.56,577.01 L340.26,589.58 L340.96,601.41 L341.66,613.37 L342.36,626.2 L343.06,638.88 L343.76,651.28 L344.46,663.25 L345.16,674.67 L345.86,685.71 L346.56,695.55 L347.26,704.89 L347.96,713.45 L348.66,721.23 L349.36,728.22 L350.06,734.46 L350.76,739.98 L351.46,744.82 L352.16,749.02 L352.86,752.65 L353.56,755.74 L354.26,758.37 L354.96,760.57 L355.66,762.42 L356.36,763.94 L357.06,765.19 L357.76,766.21 L358.46,767.03 L359.16,767.69 L359.86,768.22 L360.56,768.64 L361.26,768.96 L361.96,769.22 L362.66,769.41 L363.36,769.56 L363.64,770 Z" fill="#000" fill-opacity="0.06"/>
<path d="M303.16,769.61 L303.86,769.48 L304.56,769.3 L305.26,769.07 L305.96,768.78 L306.66,768.4 L307.36,767.92 L308.06,767.32 L308.76,766.56 L309.46,765.62 L310.16,764.47 L310.86,763.06 L311.56,761.35 L312.26,759.3 L312.96,756.85 L313.66,753.94 L314.36,750.54 L315.06,746.57 L315.76,742 L316.46,736.76 L317.16,731.74 L317.86,727.52 L318.56,721.09 L319.26,711.96 L319.96,701.41 L320.66,690.69 L321.36,679.75 L322.06,667.89 L322.76,656.12 L323.46,643.88 L324.16,631.94 L324.86,620.56 L325.56,609.2 L326.26,597.72 L326.96,585.53 L327.66,572.45 L328.36,560 L329.06,549.75 L329.76,541.73 L330.46,533.84 L331.16,526.55 L331.86,520.45 L332.56,517.27 L333.26,516.04 L333.96,516.56 L334.66,518.84 L335.36,523.56 L336.06,530.2 L336.76,537.68 L337.46,545.46 L338.16,553.82 L338.86,564.67 L339.56,577.01 L340.26,589.58 L340.96,601.41 L341.66,613.37 L342.36,626.2 L343.06,638.88 L343.76,651.28 L344.46,663.25 L345.16,674.67 L345.86,685.71 L346.56,695.55 L347.26,704.89 L347.96,713.45 L348.66,721.23 L349.36,728.22 L350.06,734.46 L350.76,739.98 L351.46,744.82 L352.16,749.02 L352.86,752.65 L353.56,755.74 L354.26,758.37 L354.96,760.57 L355.66,762.42 L356.36,763.94 L357.06,765.19 L357.76,766.21 L358.46,767.03 L359.16,767.69 L359.86,768.22 L360.56,768.64 L361.26,768.96 L361.96,769.22 L362.66,769.41 L363.36,769.56" fill="none" stroke="#b8b8b8" stroke-width="1"/>
<path d="M331.4,770 L331.4,769.96 L332.1,769.95 L332.8,769.94 L333.5,769.92 L334.2,769.89 L334.9,769.86 L335.6,769.82 L336.3,769.76 L337,769.7 L337.7,769.61 L338.4,769.51 L339.1,769.39 L339.8,769.24 L340.5,769.06 L341.2,768.85 L341.9,768.6 L342.6,768.3 L343.3,767.95 L344,767.56 L344.7,767.1 L345.4,766.58 L346.1,766 L346.8,765.35 L347.5,764.63 L348.2,763.84 L348.9,762.99 L349.6,762.06 L350.3,761.08 L351,760.04 L351.7,758.96 L352.4,757.85 L353.1,756.71 L353.8,755.56 L354.5,754.42 L355.2,753.3 L355.9,752.22 L356.6,751.2 L357.3,750.26 L358,749.41 L358.7,748.67 L359.4,748.05 L360.1,747.92 L360.8,748.22 L361.5,748.57 L362.2,748.99 L362.9,749.5 L363.6,750.1 L364.3,750.76 L365,751.47 L365.7,752.22 L366.4,753 L367.1,753.78 L367.8,754.56 L368.5,755.32 L369.2,756.04 L369.9,756.71 L370.6,757.32 L371.3,757.9 L372,758.52 L372.7,759.59 L373.4,760.64 L374.1,761.65 L374.8,762.6 L375.5,763.48 L376.2,764.3 L376.9,765.05 L377.6,765.73 L378.3,766.34 L379,766.89 L379.7,767.37 L380.4,767.79 L381.1,768.16 L381.8,768.47 L382.5,768.74 L383.2,768.97 L383.9,769.17 L384.6,769.33 L385.3,769.46 L386,769.57 L386.7,769.66 L387.4,769.74 L388.1,769.79 L388.8,769.84 L389.5,769.88 L390.2,769.91 L390.9,769.93 L391.6,769.95 L392.3,769.96 L392.6,770 Z" fill="#000" fill-opacity="0.06"/>
<path d="M331.4,769.96 L332.1,769.95 L332.8,769.94 L333.5,769.92 L334.2,769.89 L334.9,769.86 L335.6,769.82 L336.3,769.76 L337,769.7 L337.7,769.61 L338.4,769.51 L339.1,769.39 L339.8,769.24 L340.5,769.06 L341.2,768.85 L341.9,768.6 L342.6,768.3 L343.3,767.95 L344,767.56 L344.7,767.1 L345.4,766.58 L346.1,766 L346.8,765.35 L347.5,764.63 L348.2,763.84 L348.9,762.99 L349.6,762.06 L350.3,761.08 L351,760.04 L351.7,758.96 L352.4,757.85 L353.1,756.71 L353.8,755.56 L354.5,754.42 L355.2,753.3 L355.9,752.22 L356.6,751.2 L357.3,750.26 L358,749.41 L358.7,748.67 L359.4,748.05 L360.1,747.92 L360.8,748.22 L361.5,748.57 L362.2,748.99 L362.9,749.5 L363.6,750.1 L364.3,750.76 L365,751.47 L365.7,752.22 L366.4,753 L367.1,753.78 L367.8,754.56 L368.5,755.32 L369.2,756.04 L369.9,756.71 L370.6,757.32 L371.3,757.9 L372,758.52 L372.7,759.59 L373.4,760.64 L374.1,761.65 L374.8,762.6 L375.5,763.48 L376.2,764.3 L376.9,765.05 L377.6,765.73 L378.3,766.34 L379,766.89 L379.7,767.37 L380.4,767.79 L381.1,768.16 L381.8,768.47 L382.5,768.74 L383.2,768.97 L383.9,769.17 L384.6,769.33 L385.3,769.46 L386,769.57 L386.7,769.66 L387.4,769.74 L388.1,769.79 L388.8,769.84 L389.5,769.88 L390.2,769.91 L390.9,769.93 L391.6,769.95 L392.3,769.96" fill="none" stroke="#b8b8b8" stroke-width="1"/>
<path d="M372.6,770 L372.6,769.77 L373.3,769.7 L374,769.61 L374.7,769.49 L375.4,769.34 L376.1,769.15 L376.8,768.92 L377.5,768.62 L378.2,768.25 L378.9,767.81 L379.6,767.26 L380.3,766.6 L381,765.8 L381.7,764.85 L382.4,763.72 L383.1,762.39 L383.8,760.83 L384.5,759.02 L385.2,756.93 L385.9,754.54 L386.6,751.82 L387.3,748.75 L388,745.31 L388.7,741.49 L389.4,737.27 L390.1,732.66 L390.8,727.66 L391.5,722.28 L392.2,716.53 L392.9,710.46 L393.6,704.1 L394.3,697.49 L395,690.71 L395.7,683.81 L396.4,678.07 L397.1,672.72 L397.8,667.35 L398.5,661.83 L399.2,656.33 L399.9,651 L400.6,646.04 L401.3,641.53 L402,636.75 L402.7,631.88 L403.4,627.55 L404.1,624.36 L404.8,623.04 L405.5,623.38 L406.2,625.04 L406.9,627.66 L407.6,631.03 L408.3,634.92 L409,639.12 L409.7,643.44 L410.4,649.32 L411.1,656.76 L411.8,664.47 L412.5,671.2 L413.2,676.75 L413.9,681.88 L414.6,686.78 L415.3,693.63 L416,700.35 L416.7,706.86 L417.4,713.1 L418.1,719.04 L418.8,724.63 L419.5,729.85 L420.2,734.69 L420.9,739.13 L421.6,743.17 L422.3,746.83 L423,750.11 L423.7,753.02 L424.4,755.6 L425.1,757.86 L425.8,759.83 L426.5,761.53 L427.2,762.98 L427.9,764.23 L428.6,765.28 L429.3,766.16 L430,766.9 L430.7,767.51 L431.4,768.01 L432.1,768.42 L432.8,768.75 L433.5,769.02 L434.2,769.24 L434.9,769.41 L435.6,769.55 L436.3,769.65 L437,769.74 L437.4,770 Z" fill="#000" fill-opacity="0.06"/>
<path d="M372.6,769.77 L373.3,769.7 L374,769.61 L374.7,769.49 L375.4,769.34 L376.1,769.15 L376.8,768.92 L377.5,768.62 L378.2,768.25 L378.9,767.81 L379.6,767.26 L380.3,766.6 L381,765.8 L381.7,764.85 L382.4,763.72 L383.1,762.39 L383.8,760.83 L384.5,759.02 L385.2,756.93 L385.9,754.54 L386.6,751.82 L387.3,748.75 L388,745.31 L388.7,741.49 L389.4,737.27 L390.1,732.66 L390.8,727.66 L391.5,722.28 L392.2,716.53 L392.9,710.46 L393.6,704.1 L394.3,697.49 L395,690.71 L395.7,683.81 L396.4,678.07 L397.1,672.72 L397.8,667.35 L398.5,661.83 L399.2,656.33 L399.9,651 L400.6,646.04 L401.3,641.53 L402,636.75 L402.7,631.88 L403.4,627.55 L404.1,624.36 L404.8,623.04 L405.5,623.38 L406.2,625.04 L406.9,627.66 L407.6,631.03 L408.3,634.92 L409,639.12 L409.7,643.44 L410.4,649.32 L411.1,656.76 L411.8,664.47 L412.5,671.2 L413.2,676.75 L413.9,681.88 L414.6,686.78 L415.3,693.63 L416,700.35 L416.7,706.86 L417.4,713.1 L418.1,719.04 L418.8,724.63 L419.5,729.85 L420.2,734.69 L420.9,739.13 L421.6,743.17 L422.3,746.83 L423,750.11 L423.7,753.02 L424.4,755.6 L425.1,757.86 L425.8,759.83 L426.5,761.53 L427.2,762.98 L427.9,764.23 L428.6,765.28 L429.3,766.16 L430,766.9 L430.7,767.51 L431.4,768.01 L432.1,768.42 L432.8,768.75 L433.5,769.02 L434.2,769.24 L434.9,769.41 L435.6,769.55 L436.3,769.65 L437,769.74" fill="none" stroke="#b8b8b8" stroke-width="1"/>
<path d="M495.9,770 L495.9,770 L496.6,770 L497.3,770 L498,770 L498.7,770 L499.4,770 L500.1,770 L500.8,770 L501.5,770 L502.2,770 L502.9,770 L503.6,770 L504.3,770 L505,770 L505.7,769.62 L506.4,768.86 L507.1,767.98 L507.8,767.03 L508.5,766.02 L509.2,764.97 L509.9,763.93 L510.6,762.9 L511.3,761.92 L512,761.01 L512.7,760.19 L513.4,759.5 L514.1,758.95 L514.8,758.58 L515.5,758.41 L516.2,758.45 L516.9,758.68 L517.6,759.07 L518.3,759.61 L519,760.28 L519.7,761.05 L520.4,761.91 L521.1,762.83 L521.8,763.8 L522.5,764.79 L523.2,765.78 L523.9,766.76 L524.6,767.7 L525.3,768.59 L526,769.4 L526.7,770 L527.4,770 L528.1,770 L528.8,770 L529.5,770 L530.2,770 L530.9,770 L531.6,770 L532.3,770 L533,770 L533.7,770 L534.4,770 L535.1,770 L535.5,770 Z" fill="#000" fill-opacity="0.06"/>
<path d="M495.9,770 L496.6,770 L497.3,770 L498,770 L498.7,770 L499.4,770 L500.1,770 L500.8,770 L501.5,770 L502.2,770 L502.9,770 L503.6,770 L504.3,770 L505,770 L505.7,769.62 L506.4,768.86 L507.1,767.98 L507.8,767.03 L508.5,766.02 L509.2,764.97 L509.9,763.93 L510.6,762.9 L511.3,761.92 L512,761.01 L512.7,760.19 L513.4,759.5 L514.1,758.95 L514.8,758.58 L515.5,758.41 L516.2,758.45 L516.9,758.68 L517.6,759.07 L518.3,759.61 L519,760.28 L519.7,761.05 L520.4,761.91 L521.1,762.83 L521.8,763.8 L522.5,764.79 L523.2,765.78 L523.9,766.76 L524.6,767.7 L525.3,768.59 L526,769.4 L526.7,770 L527.4,770 L528.1,770 L528.8,770 L529.5,770 L530.2,770 L530.9,770 L531.6,770 L532.3,770 L533,770 L533.7,770 L534.4,770 L535.1,770" fill="none" stroke="#b8b8b8" stroke-width="1"/>
<path d="M107,770.62 L108,770.83 L109,771.03 L110,771.2 L111,771.04 L112,770.86 L113,770.85 L114,771 L115,771.14 L116,771.11 L117,771 L118,770.79 L119,770.5 L120,770.21 L121,769.66 L122,769.16 L123,769 L124,769.17 L125,769.39 L126,769.44 L127,769.5 L128,769.54 L129,769.57 L130,769.61 L131,769.89 L132,770.18 L133,770.31 L134,770.25 L135,770.2 L136,770.29 L137,770.37 L138,770.56 L139,770.86 L140,771.14 L141,771.07 L142,770.99 L143,770.87 L144,770.73 L145,770.59 L146,770.58 L147,770.57 L148,770.59 L149,770.65 L150,770.7 L151,770.49 L152,770.29 L153,770.28 L154,770.48 L155,770.67 L156,770.69 L157,770.71 L158,770.64 L159,770.49 L160,770.33 L161,770.46 L162,770.59 L163,770.65 L164,770.64 L165,770.62 L166,770.42 L167,770.22 L168,770.11 L169,770.09 L170,770.07 L171,769.77 L172,769.46 L173,769.22 L174,769.07 L175,768.89 L176,769.09 L177,769.27 L178,769.11 L179,768.61 L180,768.01 L181,767.54 L182,767 L183,766.59 L184,766.35 L185,766.19 L186,765.81 L187,765.59 L188,765.5 L189,765.59 L190,765.85 L191,766.51 L192,767.13 L193,767.55 L194,767.67 L195,767.63 L196,767.61 L197,767.56 L198,767.43 L199,767.21 L200,766.96 L201,767.01 L202,766.91 L203,766 L204,764.45 L205,762.7 L206,760.88 L207,758.46 L208,755.91 L209,753.82 L210,752.27 L211,750.85 L212,749.73 L213,749.13 L214,749.12 L215,749.34 L216,750.11 L217,751 L218,751.8 L219,752.47 L220,753.16 L221,753.82 L222,754.63 L223,755.54 L224,756.45 L225,757.32 L226,758.47 L227,759.78 L228,761.01 L229,761.95 L230,762.4 L231,762.48 L232,762.49 L233,762.37 L234,762.11 L235,761.82 L236,761.69 L237,761.53 L238,761.23 L239,760.47 L240,759.36 L241,758 L242,756.42 L243,754.8 L244,753.2 L245,751.61 L246,749.83 L247,748.2 L248,746.83 L249,745.79 L250,745.09 L251,744.44 L252,743.81 L253,743.29 L254,742.91 L255,742.63 L256,742.51 L257,742.54 L258,742.68 L259,742.92 L260,743.3 L261,743.82 L262,744.3 L263,744.76 L264,745.12 L265,744.85 L266,743.42 L267,741.26 L268,738.66 L269,735.84 L270,732.9 L271,728.74 L272,722.56 L273,715.48 L274,708.4 L275,701.92 L276,696.3 L277,693.07 L278,693.03 L279,695.01 L280,698.23 L281,702.07 L282,706.42 L283,710.92 L284,715.21 L285,719.08 L286,723.74 L287,728.79 L288,733.64 L289,737.81 L290,741.02 L291,742.75 L292,743.98 L293,745.14 L294,746.05 L295,746.39 L296,746.33 L297,746.12 L298,745.68 L299,745.04 L300,744.36 L301,743.94 L302,743.55 L303,743.32 L304,743.29 L305,743.4 L306,743.49 L307,743.64 L308,743.76 L309,743.83 L310,743.91 L311,744.05 L312,744.16 L313,744.24 L314,743.72 L315,741.26 L316,737.05 L317,731.68 L318,725.59 L319,714.92 L320,700.36 L321,685.15 L322,668.5 L323,650.88 L324,633.93 L325,617.47 L326,601 L327,583.61 L328,565.02 L329,549.45 L330,538.09 L331,527.39 L332,518.85 L333,513.99 L334,514.33 L335,519.67 L336,528.52 L337,539.19 L338,550.5 L339,565.92 L340,583.85 L341,601.18 L342,618.3 L343,635.41 L344,652.82 L345,671.17 L346,686.8 L347,698.17 L348,708.27 L349,717.06 L350,724.24 L351,729.69 L352,734.53 L353,738.77 L354,742.16 L355,744.39 L356,745.37 L357,746.04 L358,746.48 L359,746.77 L360,747.01 L361,747.6 L362,748.3 L363,749.12 L364,750.05 L365,751.1 L366,752.16 L367,753.25 L368,754.33 L369,755.34 L370,756.25 L371,757.03 L372,757.84 L373,758.69 L374,759.5 L375,760.15 L376,760.73 L377,760.98 L378,760.86 L379,760.44 L380,759.84 L381,759.18 L382,758.36 L383,757.25 L384,755.86 L385,754.33 L386,751.38 L387,746.08 L388,739.41 L389,732.3 L390,725.55 L391,718.62 L392,711.16 L393,703.47 L394,695.84 L395,688.16 L396,680.28 L397,672.45 L398,664.68 L399,656.78 L400,649.16 L401,642.62 L402,636.25 L403,629.4 L404,623.84 L405,621.69 L406,623.57 L407,627.56 L408,632.8 L409,638.66 L410,645.16 L411,655.04 L412,665.86 L413,674.57 L414,682.12 L415,689.13 L416,695.72 L417,702.59 L418,709.61 L419,716.46 L420,722.91 L421,729.35 L422,735.69 L423,741.55 L424,746.65 L425,751 L426,754.71 L427,757.71 L428,760.31 L429,762.42 L430,764.08 L431,764.96 L432,765.44 L433,765.95 L434,766.48 L435,766.93 L436,767.33 L437,767.65 L438,768.05 L439,768.52 L440,768.97 L441,769.11 L442,769.23 L443,769.23 L444,769.1 L445,768.96 L446,768.99 L447,769 L448,769.08 L449,769.23 L450,769.37 L451,769.57 L452,769.77 L453,769.88 L454,769.88 L455,769.89 L456,769.96 L457,770.04 L458,770.11 L459,770.18 L460,770.24 L461,770.18 L462,770.12 L463,770.12 L464,770.17 L465,770.23 L466,769.92 L467,769.61 L468,769.47 L469,769.48 L470,769.5 L471,769.86 L472,770.22 L473,770.36 L474,770.28 L475,770.2 L476,770.1 L477,769.99 L478,769.91 L479,769.85 L480,769.78 L481,769.87 L482,769.97 L483,770.02 L484,770.03 L485,770.05 L486,770.12 L487,770.19 L488,770.22 L489,770.21 L490,770.2 L491,770.11 L492,770.02 L493,769.95 L494,769.91 L495,769.86 L496,769.92 L497,769.97 L498,769.98 L499,769.95 L500,769.93 L501,769.92 L502,769.91 L503,769.96 L504,769.86 L505,769.37 L506,768.31 L507,767 L508,765.71 L509,764.51 L510,763.28 L511,761.73 L512,760.3 L513,759.11 L514,758.22 L515,757.67 L516,757.65 L517,758.03 L518,758.62 L519,759.38 L520,760.34 L521,761.54 L522,762.84 L523,764.23 L524,765.66 L525,767 L526,768.28 L527,769.37 L528,770.16 L529,770.58 L530,770.66 L531,770.62 L532,770.57 L533,770.56 L534,770.58 L535,770.61 L536,770.82 L537,771.03 L538,770.97 L539,770.64 L540,770.31 L541,770.48 L542,770.66 L543,770.73 L544,770.71 L545,770.68 L546,770.64 L547,770.6 L548,770.66 L549,770.84 L550,771.01 L551,770.81 L552,770.61 L553,770.47 L554,770.4 L555,770.32 L556,770.37 L557,770.41 L558,770.6 L559,770.92 L560,771.24 L561,770.99 L562,770.73 L563,770.56 L564,770.46 L565,770.36 L566,770.7 L567,771.04 L568,771.14 L569,771 L570,770.87 L571,770.98 L572,771.1 L573,771.03 L574,770.78 L575,770.52 L576,770.7 L577,770.89 L578,770.82 L579,770.5 L580,770.19 L581,770.26 L582,770.33 L583,770.47 L584,770.68 L585,770.89 L586,770.77 L587,770.65 L588,770.63 L589,770.73 L590,770.83 L591,770.65 L592,770.48 L593,770.48 L594,770.66 L595,770.84 L596,770.51 L597,770.17 L598,770.1 L599,770.3 L600,770.51 L601,770.31 L602,770.12 L603,770.02 L604,770 L605,769.99 L606,770.24 L607,770.49 L608,770.52 L609,770.31 L610,770.11 L611,770.24 L612,770.37 L613,770.31 L614,770.07 L615,769.84 L616,769.99 L617,770.14" fill="none" stroke="#9c9cf4" stroke-width="1.55" stroke-linejoin="round"/>
<text x="183.3" y="760.8" font-size="16.2" text-anchor="middle" fill="#333" font-weight="normal" stroke="#333" stroke-width="0.3" >5.12</text>
<text x="218.5" y="743.8" font-size="16.2" text-anchor="middle" fill="#333" font-weight="normal" stroke="#333" stroke-width="0.3" >5.20</text>
<text x="251.8" y="736.4" font-size="16.2" text-anchor="middle" fill="#333" font-weight="normal" stroke="#333" stroke-width="0.3" >5.30</text>
<text x="280.4" y="685.1" font-size="16.2" text-anchor="middle" fill="#333" font-weight="normal" stroke="#333" stroke-width="0.3" >5.36</text>
<text x="304.8" y="732.3" font-size="16.2" text-anchor="middle" fill="#333" font-weight="normal" stroke="#333" stroke-width="0.3" >5.41</text>
<text x="334.9" y="501" font-size="16.2" text-anchor="middle" fill="#333" font-weight="normal" stroke="#333" stroke-width="0.3" >5.51</text>
<text x="371.6" y="723" font-size="16.2" text-anchor="middle" fill="#333" font-weight="normal" stroke="#333" stroke-width="0.3" >5.60</text>
<text x="407.5" y="611.7" font-size="16.2" text-anchor="middle" fill="#333" font-weight="normal" stroke="#333" stroke-width="0.3" >5.74</text>
<text x="513.9" y="751.3" font-size="16.2" text-anchor="middle" fill="#333" font-weight="normal" stroke="#333" stroke-width="0.3" >6.01</text>
<line x1="143.4" y1="722" x2="157.23" y2="737.13" stroke="#1d98d5" stroke-width="2.0"/>
<path d="M163.5,744 L150.79,738.68 L157.23,737.13 L159.35,730.86 Z" fill="#1d98d5"/>
<line x1="179.4" y1="700" x2="193.59" y2="716.29" stroke="#1d98d5" stroke-width="2.0"/>
<path d="M199.7,723.3 L187.12,717.69 L193.59,716.29 L195.86,710.07 Z" fill="#1d98d5"/>
<line x1="220.5" y1="689" x2="234.69" y2="705.29" stroke="#1d98d5" stroke-width="2.0"/>
<path d="M240.8,712.3 L228.22,706.69 L234.69,705.29 L236.96,699.07 Z" fill="#1d98d5"/>
<line x1="307.3" y1="676.8" x2="307.3" y2="704.2" stroke="#1d98d5" stroke-width="2.0"/>
<path d="M307.3,713.5 L301.5,701 L307.3,704.2 L313.1,701 Z" fill="#1d98d5"/>
<line x1="745" y1="479" x2="745" y2="785.3" stroke="#d6d6d6" stroke-width="1.5"/>
<line x1="744.25" y1="785.3" x2="1261" y2="785.3" stroke="#c9c9c9" stroke-width="2.2"/>
<text x="781.1" y="805.7" font-size="20.6" text-anchor="middle" fill="#111" font-weight="normal" stroke="#111" stroke-width="0.4" >5.0</text>
<text x="854.92" y="805.7" font-size="20.6" text-anchor="middle" fill="#111" font-weight="normal" stroke="#111" stroke-width="0.4" >5.2</text>
<text x="928.74" y="805.7" font-size="20.6" text-anchor="middle" fill="#111" font-weight="normal" stroke="#111" stroke-width="0.4" >5.4</text>
<text x="1002.56" y="805.7" font-size="20.6" text-anchor="middle" fill="#111" font-weight="normal" stroke="#111" stroke-width="0.4" >5.6</text>
<text x="1076.38" y="805.7" font-size="20.6" text-anchor="middle" fill="#111" font-weight="normal" stroke="#111" stroke-width="0.4" >5.8</text>
<text x="1150.2" y="805.7" font-size="20.6" text-anchor="middle" fill="#111" font-weight="normal" stroke="#111" stroke-width="0.4" >6.0</text>
<text x="1224.02" y="805.7" font-size="20.6" text-anchor="middle" fill="#111" font-weight="normal" stroke="#111" stroke-width="0.4" >6.2</text>
<text x="740.5" y="777.85" font-size="20.6" text-anchor="end" fill="#111" font-weight="normal" stroke="#111" stroke-width="0.4" >0</text>
<text x="740.5" y="729.85" font-size="20.6" text-anchor="end" fill="#111" font-weight="normal" stroke="#111" stroke-width="0.4" >100</text>
<text x="740.5" y="681.85" font-size="20.6" text-anchor="end" fill="#111" font-weight="normal" stroke="#111" stroke-width="0.4" >200</text>
<text x="740.5" y="633.85" font-size="20.6" text-anchor="end" fill="#111" font-weight="normal" stroke="#111" stroke-width="0.4" >300</text>
<text x="740.5" y="585.85" font-size="20.6" text-anchor="end" fill="#111" font-weight="normal" stroke="#111" stroke-width="0.4" >400</text>
<text x="740.5" y="537.85" font-size="20.6" text-anchor="end" fill="#111" font-weight="normal" stroke="#111" stroke-width="0.4" >500</text>
<text x="740.5" y="489.85" font-size="20.6" text-anchor="end" fill="#111" font-weight="normal" stroke="#111" stroke-width="0.4" >600</text>
<text x="1002.7" y="835.6" font-size="20" text-anchor="middle" fill="#111" font-weight="normal" stroke="#111" stroke-width="0.4" >pI</text>
<text x="0" y="0" font-size="20.4" text-anchor="middle" fill="#111" stroke="#111" stroke-width="0.4" transform="translate(691.8,633) rotate(-90)" textLength="181.5" lengthAdjust="spacingAndGlyphs">Chemiluminescence</text>
<text x="761" y="509.6" font-size="20" text-anchor="start" fill="#111" font-weight="normal" stroke="#111" stroke-width="0.4" textLength="96.5" lengthAdjust="spacingAndGlyphs">+Ins &amp; Ber</text>
<path d="M811.1,771 L811.1,771 L811.8,771 L812.5,771 L813.2,771 L813.9,771 L814.6,771 L815.3,771 L816,771 L816.7,770.88 L817.4,770.61 L818.1,770.46 L818.8,770.26 L819.5,770.03 L820.2,769.75 L820.9,769.45 L821.6,769.13 L822.3,768.82 L823,768.53 L823.7,768.29 L824.4,768.11 L825.1,768.01 L825.8,768.01 L826.5,768.09 L827.2,768.26 L827.9,768.49 L828.6,768.78 L829.3,769.09 L830,769.41 L830.7,769.71 L831.4,769.99 L832.1,770.23 L832.8,770.43 L833.5,770.59 L834.2,770.72 L834.9,770.81 L835.6,770.88 L836.3,770.92 L837,770.95 L837.7,770.97 L838.4,770.98 L839.1,770.99 L839.8,770.99 L839.9,771 Z" fill="#000" fill-opacity="0.06"/>
<path d="M811.1,771 L811.8,771 L812.5,771 L813.2,771 L813.9,771 L814.6,771 L815.3,771 L816,771 L816.7,770.88 L817.4,770.61 L818.1,770.46 L818.8,770.26 L819.5,770.03 L820.2,769.75 L820.9,769.45 L821.6,769.13 L822.3,768.82 L823,768.53 L823.7,768.29 L824.4,768.11 L825.1,768.01 L825.8,768.01 L826.5,768.09 L827.2,768.26 L827.9,768.49 L828.6,768.78 L829.3,769.09 L830,769.41 L830.7,769.71 L831.4,769.99 L832.1,770.23 L832.8,770.43 L833.5,770.59 L834.2,770.72 L834.9,770.81 L835.6,770.88 L836.3,770.92 L837,770.95 L837.7,770.97 L838.4,770.98 L839.1,770.99 L839.8,770.99" fill="none" stroke="#b8b8b8" stroke-width="1"/>
<path d="M827.6,771 L827.6,770.99 L828.3,770.98 L829,770.97 L829.7,770.96 L830.4,770.94 L831.1,770.92 L831.8,770.89 L832.5,770.84 L833.2,770.79 L833.9,770.72 L834.6,770.63 L835.3,770.51 L836,770.37 L836.7,770.2 L837.4,770.01 L838.1,769.93 L838.8,769.84 L839.5,769.73 L840.2,769.62 L840.9,769.5 L841.6,769.28 L842.3,768.9 L843,768.38 L843.7,767.74 L844.4,767.02 L845.1,766.25 L845.8,765.45 L846.5,764.65 L847.2,763.89 L847.9,763.18 L848.6,762.59 L849.3,762.3 L850,762.11 L850.7,762.01 L851.4,762.02 L852.1,762.13 L852.8,762.34 L853.5,762.64 L854.2,763.03 L854.9,763.48 L855.6,763.99 L856.3,764.55 L857,765.12 L857.7,765.71 L858.4,766.29 L859.1,766.86 L859.8,767.4 L860.5,767.91 L861.2,768.37 L861.9,768.79 L862.6,769.17 L863.3,769.5 L864,769.78 L864.7,770.02 L865.4,770.23 L866.1,770.39 L866.8,770.53 L867.5,770.64 L868.2,770.73 L868.9,770.8 L869.6,770.85 L870.3,770.89 L871,770.92 L871.7,770.94 L872.4,770.96 L873.1,770.97 L873.8,770.98 L874.4,771 Z" fill="#000" fill-opacity="0.06"/>
<path d="M827.6,770.99 L828.3,770.98 L829,770.97 L829.7,770.96 L830.4,770.94 L831.1,770.92 L831.8,770.89 L832.5,770.84 L833.2,770.79 L833.9,770.72 L834.6,770.63 L835.3,770.51 L836,770.37 L836.7,770.2 L837.4,770.01 L838.1,769.93 L838.8,769.84 L839.5,769.73 L840.2,769.62 L840.9,769.5 L841.6,769.28 L842.3,768.9 L843,768.38 L843.7,767.74 L844.4,767.02 L845.1,766.25 L845.8,765.45 L846.5,764.65 L847.2,763.89 L847.9,763.18 L848.6,762.59 L849.3,762.3 L850,762.11 L850.7,762.01 L851.4,762.02 L852.1,762.13 L852.8,762.34 L853.5,762.64 L854.2,763.03 L854.9,763.48 L855.6,763.99 L856.3,764.55 L857,765.12 L857.7,765.71 L858.4,766.29 L859.1,766.86 L859.8,767.4 L860.5,767.91 L861.2,768.37 L861.9,768.79 L862.6,769.17 L863.3,769.5 L864,769.78 L864.7,770.02 L865.4,770.23 L866.1,770.39 L866.8,770.53 L867.5,770.64 L868.2,770.73 L868.9,770.8 L869.6,770.85 L870.3,770.89 L871,770.92 L871.7,770.94 L872.4,770.96 L873.1,770.97 L873.8,770.98" fill="none" stroke="#b8b8b8" stroke-width="1"/>
<path d="M862.3,771 L862.3,770.98 L863,770.97 L863.7,770.96 L864.4,770.94 L865.1,770.92 L865.8,770.89 L866.5,770.84 L867.2,770.79 L867.9,770.72 L868.6,770.63 L869.3,770.52 L870,770.38 L870.7,770.21 L871.4,770.01 L872.1,769.76 L872.8,769.46 L873.5,769.11 L874.2,768.7 L874.9,768.23 L875.6,767.7 L876.3,767.11 L877,766.45 L877.7,765.75 L878.4,764.99 L879.1,764.19 L879.8,763.35 L880.5,762.51 L881.2,761.66 L881.9,760.83 L882.6,760.04 L883.3,759.31 L884,758.65 L884.7,758.08 L885.4,757.62 L886.1,757.28 L886.8,757.07 L887.5,757 L888.2,757.07 L888.9,757.28 L889.6,757.62 L890.3,758.08 L891,758.65 L891.7,759.31 L892.4,760.04 L893.1,760.83 L893.8,761.66 L894.5,762.51 L895.2,763.35 L895.9,764.19 L896.6,764.99 L897.3,765.75 L898,766.45 L898.7,767.11 L899.4,767.7 L900.1,768.23 L900.8,768.7 L901.5,769.11 L902.2,769.46 L902.9,769.76 L903.6,770.01 L904.3,770.21 L905,770.38 L905.7,770.52 L906.4,770.63 L907.1,770.72 L907.8,770.79 L908.5,770.84 L909.2,770.89 L909.9,770.92 L910.6,770.94 L911.3,770.96 L912,770.97 L912.7,770.98 L912.7,771 Z" fill="#000" fill-opacity="0.06"/>
<path d="M862.3,770.98 L863,770.97 L863.7,770.96 L864.4,770.94 L865.1,770.92 L865.8,770.89 L866.5,770.84 L867.2,770.79 L867.9,770.72 L868.6,770.63 L869.3,770.52 L870,770.38 L870.7,770.21 L871.4,770.01 L872.1,769.76 L872.8,769.46 L873.5,769.11 L874.2,768.7 L874.9,768.23 L875.6,767.7 L876.3,767.11 L877,766.45 L877.7,765.75 L878.4,764.99 L879.1,764.19 L879.8,763.35 L880.5,762.51 L881.2,761.66 L881.9,760.83 L882.6,760.04 L883.3,759.31 L884,758.65 L884.7,758.08 L885.4,757.62 L886.1,757.28 L886.8,757.07 L887.5,757 L888.2,757.07 L888.9,757.28 L889.6,757.62 L890.3,758.08 L891,758.65 L891.7,759.31 L892.4,760.04 L893.1,760.83 L893.8,761.66 L894.5,762.51 L895.2,763.35 L895.9,764.19 L896.6,764.99 L897.3,765.75 L898,766.45 L898.7,767.11 L899.4,767.7 L900.1,768.23 L900.8,768.7 L901.5,769.11 L902.2,769.46 L902.9,769.76 L903.6,770.01 L904.3,770.21 L905,770.38 L905.7,770.52 L906.4,770.63 L907.1,770.72 L907.8,770.79 L908.5,770.84 L909.2,770.89 L909.9,770.92 L910.6,770.94 L911.3,770.96 L912,770.97 L912.7,770.98" fill="none" stroke="#b8b8b8" stroke-width="1"/>
<path d="M884.5,771 L884.5,770.85 L885.2,770.8 L885.9,770.73 L886.6,770.64 L887.3,770.52 L888,770.36 L888.7,770.16 L889.4,769.9 L890.1,769.58 L890.8,769.18 L891.5,768.68 L892.2,768.07 L892.9,767.32 L893.6,766.42 L894.3,765.34 L895,764.06 L895.7,762.55 L896.4,760.8 L897.1,758.77 L897.8,758.71 L898.5,758.76 L899.2,758.79 L899.9,758.8 L900.6,758.6 L901.3,758.02 L902,757.13 L902.7,755.97 L903.4,754.56 L904.1,751.19 L904.8,745.57 L905.5,738.73 L906.2,731.66 L906.9,725.15 L907.6,718.26 L908.3,711.03 L909,703.84 L909.7,697.08 L910.4,690.7 L911.1,683.59 L911.8,677.66 L912.5,676.47 L913.2,676.01 L913.9,676.27 L914.6,677.25 L915.3,678.92 L916,682.99 L916.7,687.7 L917.4,692.17 L918.1,697.01 L918.8,702 L919.5,706.91 L920.2,711.51 L920.9,715.63 L921.6,719.58 L922.3,723.45 L923,727.14 L923.7,730.58 L924.4,734.72 L925.1,738.99 L925.8,742.97 L926.5,746.65 L927.2,750 L927.9,753.03 L928.6,755.74 L929.3,758.14 L930,760.25 L930.7,762.08 L931.4,763.65 L932.1,764.99 L932.8,766.13 L933.5,767.08 L934.2,767.87 L934.9,768.52 L935.6,769.05 L936.3,769.48 L937,769.82 L937.7,770.09 L938.4,770.31 L939.1,770.48 L939.8,770.61 L940.5,770.71 L941.2,770.78 L941.9,770.84 L942.1,771 Z" fill="#000" fill-opacity="0.06"/>
<path d="M884.5,770.85 L885.2,770.8 L885.9,770.73 L886.6,770.64 L887.3,770.52 L888,770.36 L888.7,770.16 L889.4,769.9 L890.1,769.58 L890.8,769.18 L891.5,768.68 L892.2,768.07 L892.9,767.32 L893.6,766.42 L894.3,765.34 L895,764.06 L895.7,762.55 L896.4,760.8 L897.1,758.77 L897.8,758.71 L898.5,758.76 L899.2,758.79 L899.9,758.8 L900.6,758.6 L901.3,758.02 L902,757.13 L902.7,755.97 L903.4,754.56 L904.1,751.19 L904.8,745.57 L905.5,738.73 L906.2,731.66 L906.9,725.15 L907.6,718.26 L908.3,711.03 L909,703.84 L909.7,697.08 L910.4,690.7 L911.1,683.59 L911.8,677.66 L912.5,676.47 L913.2,676.01 L913.9,676.27 L914.6,677.25 L915.3,678.92 L916,682.99 L916.7,687.7 L917.4,692.17 L918.1,697.01 L918.8,702 L919.5,706.91 L920.2,711.51 L920.9,715.63 L921.6,719.58 L922.3,723.45 L923,727.14 L923.7,730.58 L924.4,734.72 L925.1,738.99 L925.8,742.97 L926.5,746.65 L927.2,750 L927.9,753.03 L928.6,755.74 L929.3,758.14 L930,760.25 L930.7,762.08 L931.4,763.65 L932.1,764.99 L932.8,766.13 L933.5,767.08 L934.2,767.87 L934.9,768.52 L935.6,769.05 L936.3,769.48 L937,769.82 L937.7,770.09 L938.4,770.31 L939.1,770.48 L939.8,770.61 L940.5,770.71 L941.2,770.78 L941.9,770.84" fill="none" stroke="#b8b8b8" stroke-width="1"/>
<path d="M941.22,771 L941.22,770.61 L941.92,770.45 L942.62,770.23 L943.32,769.94 L944.02,769.55 L944.72,769.03 L945.42,768.36 L946.12,767.49 L946.82,766.37 L947.52,764.95 L948.22,763.17 L948.92,760.96 L949.62,758.25 L950.32,754.95 L951.02,752.57 L951.72,749.93 L952.42,745.75 L953.12,738.94 L953.82,730.49 L954.52,721.38 L955.22,712.33 L955.92,702.32 L956.62,691.45 L957.32,680.16 L958.02,668.85 L958.72,657.34 L959.42,645.47 L960.12,633.22 L960.82,620.49 L961.52,607.18 L962.22,593.53 L962.92,579.65 L963.62,564.51 L964.32,549.84 L965.02,538.14 L965.72,527.47 L966.42,517.89 L967.12,515.35 L967.82,515.25 L968.52,517.49 L969.22,523.73 L969.92,533.23 L970.62,543.21 L971.32,556.96 L972.02,572.56 L972.72,586.16 L973.42,597.36 L974.12,607.65 L974.82,617.79 L975.52,630.99 L976.22,645.57 L976.92,659.66 L977.62,673.07 L978.32,685.65 L979.02,697.3 L979.72,707.94 L980.42,717.54 L981.12,726.09 L981.82,733.62 L982.52,740.17 L983.22,745.81 L983.92,750.6 L984.62,754.63 L985.32,757.99 L986.02,760.75 L986.72,763 L987.42,764.82 L988.12,766.26 L988.82,767.4 L989.52,768.29 L990.22,768.98 L990.92,769.51 L991.62,769.91 L992.32,770.21 L993.02,770.43 L993.72,770.6 L993.78,771 Z" fill="#000" fill-opacity="0.06"/>
<path d="M941.22,770.61 L941.92,770.45 L942.62,770.23 L943.32,769.94 L944.02,769.55 L944.72,769.03 L945.42,768.36 L946.12,767.49 L946.82,766.37 L947.52,764.95 L948.22,763.17 L948.92,760.96 L949.62,758.25 L950.32,754.95 L951.02,752.57 L951.72,749.93 L952.42,745.75 L953.12,738.94 L953.82,730.49 L954.52,721.38 L955.22,712.33 L955.92,702.32 L956.62,691.45 L957.32,680.16 L958.02,668.85 L958.72,657.34 L959.42,645.47 L960.12,633.22 L960.82,620.49 L961.52,607.18 L962.22,593.53 L962.92,579.65 L963.62,564.51 L964.32,549.84 L965.02,538.14 L965.72,527.47 L966.42,517.89 L967.12,515.35 L967.82,515.25 L968.52,517.49 L969.22,523.73 L969.92,533.23 L970.62,543.21 L971.32,556.96 L972.02,572.56 L972.72,586.16 L973.42,597.36 L974.12,607.65 L974.82,617.79 L975.52,630.99 L976.22,645.57 L976.92,659.66 L977.62,673.07 L978.32,685.65 L979.02,697.3 L979.72,707.94 L980.42,717.54 L981.12,726.09 L981.82,733.62 L982.52,740.17 L983.22,745.81 L983.92,750.6 L984.62,754.63 L985.32,757.99 L986.02,760.75 L986.72,763 L987.42,764.82 L988.12,766.26 L988.82,767.4 L989.52,768.29 L990.22,768.98 L990.92,769.51 L991.62,769.91 L992.32,770.21 L993.02,770.43 L993.72,770.6" fill="none" stroke="#b8b8b8" stroke-width="1"/>
<path d="M1014.32,771 L1014.32,770.76 L1015.02,770.66 L1015.72,770.53 L1016.42,770.35 L1017.12,770.12 L1017.82,769.8 L1018.52,769.39 L1019.22,768.86 L1019.92,768.18 L1020.62,767.31 L1021.32,766.23 L1022.02,764.88 L1022.72,763.23 L1023.42,761.84 L1024.12,761.06 L1024.82,760.07 L1025.52,758.08 L1026.22,755.12 L1026.92,751.4 L1027.62,747.14 L1028.32,742.53 L1029.02,737.76 L1029.72,732.1 L1030.42,725.33 L1031.12,717.81 L1031.82,709.87 L1032.52,701.71 L1033.22,692.73 L1033.92,683.14 L1034.62,673.33 L1035.32,663.7 L1036.02,654.1 L1036.72,644.15 L1037.42,635.41 L1038.12,628.68 L1038.82,622.18 L1039.52,616.7 L1040.22,615.21 L1040.92,615.15 L1041.62,616.52 L1042.32,619.27 L1043.02,623.34 L1043.72,628.62 L1044.42,634.96 L1045.12,642.21 L1045.82,650.19 L1046.52,658.82 L1047.22,667.97 L1047.92,676.64 L1048.62,685.68 L1049.32,694.57 L1050.02,703.15 L1050.72,711.32 L1051.42,718.99 L1052.12,726.09 L1052.82,732.57 L1053.52,738.42 L1054.22,743.63 L1054.92,748.22 L1055.62,752.21 L1056.32,755.65 L1057.02,758.57 L1057.72,761.03 L1058.42,763.07 L1059.12,764.76 L1059.82,766.13 L1060.52,767.23 L1061.22,768.11 L1061.92,768.81 L1062.62,769.35 L1063.32,769.77 L1064.02,770.09 L1064.72,770.34 L1065.42,770.52 L1066.12,770.65 L1066.82,770.75 L1066.88,771 Z" fill="#000" fill-opacity="0.06"/>
<path d="M1014.32,770.76 L1015.02,770.66 L1015.72,770.53 L1016.42,770.35 L1017.12,770.12 L1017.82,769.8 L1018.52,769.39 L1019.22,768.86 L1019.92,768.18 L1020.62,767.31 L1021.32,766.23 L1022.02,764.88 L1022.72,763.23 L1023.42,761.84 L1024.12,761.06 L1024.82,760.07 L1025.52,758.08 L1026.22,755.12 L1026.92,751.4 L1027.62,747.14 L1028.32,742.53 L1029.02,737.76 L1029.72,732.1 L1030.42,725.33 L1031.12,717.81 L1031.82,709.87 L1032.52,701.71 L1033.22,692.73 L1033.92,683.14 L1034.62,673.33 L1035.32,663.7 L1036.02,654.1 L1036.72,644.15 L1037.42,635.41 L1038.12,628.68 L1038.82,622.18 L1039.52,616.7 L1040.22,615.21 L1040.92,615.15 L1041.62,616.52 L1042.32,619.27 L1043.02,623.34 L1043.72,628.62 L1044.42,634.96 L1045.12,642.21 L1045.82,650.19 L1046.52,658.82 L1047.22,667.97 L1047.92,676.64 L1048.62,685.68 L1049.32,694.57 L1050.02,703.15 L1050.72,711.32 L1051.42,718.99 L1052.12,726.09 L1052.82,732.57 L1053.52,738.42 L1054.22,743.63 L1054.92,748.22 L1055.62,752.21 L1056.32,755.65 L1057.02,758.57 L1057.72,761.03 L1058.42,763.07 L1059.12,764.76 L1059.82,766.13 L1060.52,767.23 L1061.22,768.11 L1061.92,768.81 L1062.62,769.35 L1063.32,769.77 L1064.02,770.09 L1064.72,770.34 L1065.42,770.52 L1066.12,770.65 L1066.82,770.75" fill="none" stroke="#b8b8b8" stroke-width="1"/>
<path d="M1141.4,771 L1141.4,771 L1142.1,771 L1142.8,771 L1143.5,771 L1144.2,771 L1144.9,771 L1145.6,771 L1146.3,771 L1147,771 L1147.7,771 L1148.4,771 L1149.1,770.73 L1149.8,770.29 L1150.5,769.82 L1151.2,769.34 L1151.9,768.87 L1152.6,768.46 L1153.3,768.12 L1154,767.84 L1154.7,767.63 L1155.4,767.52 L1156.1,767.51 L1156.8,767.61 L1157.5,767.8 L1158.2,768.08 L1158.9,768.41 L1159.6,768.77 L1160.3,769.14 L1161,769.6 L1161.7,770.05 L1162.4,770.49 L1163.1,770.89 L1163.8,771 L1164.5,771 L1165.2,771 L1165.9,771 L1166.6,771 L1167.3,771 L1168,771 L1168.7,771 L1169.4,771 L1170.1,771 L1170.2,771 Z" fill="#000" fill-opacity="0.06"/>
<path d="M1141.4,771 L1142.1,771 L1142.8,771 L1143.5,771 L1144.2,771 L1144.9,771 L1145.6,771 L1146.3,771 L1147,771 L1147.7,771 L1148.4,771 L1149.1,770.73 L1149.8,770.29 L1150.5,769.82 L1151.2,769.34 L1151.9,768.87 L1152.6,768.46 L1153.3,768.12 L1154,767.84 L1154.7,767.63 L1155.4,767.52 L1156.1,767.51 L1156.8,767.61 L1157.5,767.8 L1158.2,768.08 L1158.9,768.41 L1159.6,768.77 L1160.3,769.14 L1161,769.6 L1161.7,770.05 L1162.4,770.49 L1163.1,770.89 L1163.8,771 L1164.5,771 L1165.2,771 L1165.9,771 L1166.6,771 L1167.3,771 L1168,771 L1168.7,771 L1169.4,771 L1170.1,771" fill="none" stroke="#b8b8b8" stroke-width="1"/>
<path d="M746,771.27 L747,771.28 L748,771.32 L749,771.38 L750,771.45 L751,771.23 L752,771.02 L753,770.91 L754,770.91 L755,770.91 L756,770.84 L757,770.77 L758,770.74 L759,770.76 L760,770.77 L761,770.73 L762,770.7 L763,770.69 L764,770.73 L765,770.77 L766,770.87 L767,770.96 L768,771.08 L769,771.21 L770,771.34 L771,771.26 L772,771.19 L773,771.12 L774,771.04 L775,770.98 L776,771.01 L777,771.04 L778,771.11 L779,771.22 L780,771.33 L781,771.26 L782,771.19 L783,771.13 L784,771.09 L785,771.04 L786,771.27 L787,771.51 L788,771.6 L789,771.54 L790,771.48 L791,771.34 L792,771.19 L793,771.11 L794,771.09 L795,771.07 L796,771.06 L797,771.06 L798,771.16 L799,771.38 L800,771.6 L801,771.34 L802,771.08 L803,771 L804,771.11 L805,771.22 L806,771.28 L807,771.34 L808,771.21 L809,770.91 L810,770.6 L811,770.64 L812,770.69 L813,770.7 L814,770.66 L815,770.57 L816,770.43 L817,770.19 L818,769.7 L819,769.01 L820,768.29 L821,767.82 L822,767.38 L823,767 L824,766.71 L825,766.54 L826,766.49 L827,766.63 L828,767.01 L829,767.61 L830,768.24 L831,768.73 L832,769.17 L833,769.43 L834,769.46 L835,769.34 L836,769.18 L837,768.99 L838,768.91 L839,768.97 L840,769 L841,768.84 L842,768.45 L843,767.73 L844,766.77 L845,765.67 L846,764.44 L847,763.23 L848,762.24 L849,761.55 L850,761.14 L851,760.88 L852,760.88 L853,761.03 L854,761.28 L855,761.6 L856,761.96 L857,762.34 L858,762.69 L859,762.97 L860,763.21 L861,763.62 L862,764.08 L863,764.57 L864,765.09 L865,765.6 L866,765.95 L867,766.26 L868,766.47 L869,766.58 L870,766.58 L871,766.68 L872,766.55 L873,766.18 L874,765.6 L875,764.95 L876,764.04 L877,763.16 L878,762.33 L879,761.43 L880,760.4 L881,759.27 L882,758.13 L883,757 L884,755.95 L885,755.08 L886,754.73 L887,754.68 L888,754.88 L889,755.25 L890,755.8 L891,756.4 L892,756.93 L893,757.35 L894,757.65 L895,757.94 L896,757.89 L897,757.83 L898,757.81 L899,757.82 L900,757.79 L901,757.28 L902,756.07 L903,754.36 L904,750.85 L905,742.79 L906,732.87 L907,723.57 L908,713.55 L909,703.18 L910,693.67 L911,683.74 L912,674.01 L913,668.32 L914,669.41 L915,674.94 L916,682.03 L917,688.5 L918,695.27 L919,702.54 L920,709.53 L921,715.34 L922,720.81 L923,726.09 L924,730.91 L925,734.95 L926,738.24 L927,741.27 L928,744.03 L929,746.46 L930,748.56 L931,750.16 L932,751.32 L933,752.15 L934,752.89 L935,753.54 L936,754.29 L937,754.95 L938,755.41 L939,755.66 L940,755.8 L941,755.9 L942,755.97 L943,756.09 L944,756.24 L945,756.34 L946,756.38 L947,756.27 L948,755.94 L949,755.41 L950,754.49 L951,751.8 L952,747.67 L953,739.33 L954,727.43 L955,714.67 L956,700.55 L957,684.78 L958,668.53 L959,651.83 L960,634.39 L961,616.35 L962,597.27 L963,577.4 L964,555.55 L965,537.47 L966,522.35 L967,511.41 L968,511.09 L969,520.09 L970,533.56 L971,549.52 L972,571.53 L973,590.22 L974,605.26 L975,619.73 L976,635.8 L977,653.41 L978,670.1 L979,685.43 L980,700.14 L981,712.08 L982,720.09 L983,726.85 L984,732.7 L985,737.61 L986,741.58 L987,744.57 L988,747.01 L989,749.21 L990,751.17 L991,753 L992,754.62 L993,755.9 L994,756.84 L995,757.65 L996,758.63 L997,759.58 L998,760.58 L999,761.63 L1000,762.64 L1001,763.3 L1002,763.9 L1003,764.35 L1004,764.66 L1005,764.84 L1006,765.15 L1007,765.31 L1008,765.37 L1009,765.4 L1010,765.4 L1011,765.4 L1012,765.39 L1013,765.2 L1014,764.85 L1015,764.47 L1016,764.55 L1017,764.61 L1018,764.52 L1019,764.22 L1020,763.78 L1021,763.09 L1022,762.25 L1023,761.34 L1024,760.35 L1025,758.89 L1026,755.45 L1027,750.33 L1028,744.01 L1029,737.09 L1030,728.53 L1031,718.29 L1032,707.07 L1033,694.96 L1034,681.3 L1035,667.29 L1036,653.49 L1037,639.39 L1038,628.74 L1039,619.62 L1040,613.14 L1041,612.24 L1042,615.82 L1043,622 L1044,629.36 L1045,638.12 L1046,650.91 L1047,664.6 L1048,676.2 L1049,686.82 L1050,696.68 L1051,705.31 L1052,712.93 L1053,720.01 L1054,726.35 L1055,731.7 L1056,735.88 L1057,739.59 L1058,742.91 L1059,745.86 L1060,748.5 L1061,750.92 L1062,753.08 L1063,755.12 L1064,757.12 L1065,759.03 L1066,760.88 L1067,762.59 L1068,763.93 L1069,764.9 L1070,765.63 L1071,766.56 L1072,767.38 L1073,768.04 L1074,768.54 L1075,768.98 L1076,769.3 L1077,769.56 L1078,769.81 L1079,770.04 L1080,770.21 L1081,770.19 L1082,770.16 L1083,770.27 L1084,770.52 L1085,770.75 L1086,770.77 L1087,770.77 L1088,770.8 L1089,770.84 L1090,770.87 L1091,770.86 L1092,770.83 L1093,770.81 L1094,770.78 L1095,770.74 L1096,770.89 L1097,771.04 L1098,771.13 L1099,771.15 L1100,771.17 L1101,770.96 L1102,770.74 L1103,770.66 L1104,770.72 L1105,770.77 L1106,770.79 L1107,770.81 L1108,770.75 L1109,770.61 L1110,770.47 L1111,770.4 L1112,770.33 L1113,770.28 L1114,770.25 L1115,770.22 L1116,770.13 L1117,770.05 L1118,770.01 L1119,770.02 L1120,770.04 L1121,770.11 L1122,770.19 L1123,770.25 L1124,770.3 L1125,770.35 L1126,770.41 L1127,770.48 L1128,770.48 L1129,770.43 L1130,770.37 L1131,770.36 L1132,770.35 L1133,770.48 L1134,770.74 L1135,771.01 L1136,770.97 L1137,770.93 L1138,770.93 L1139,770.98 L1140,771.02 L1141,771.06 L1142,771.08 L1143,771.05 L1144,770.97 L1145,770.87 L1146,770.95 L1147,770.9 L1148,770.54 L1149,769.94 L1150,769.24 L1151,768.65 L1152,768.07 L1153,767.52 L1154,767.08 L1155,766.81 L1156,766.5 L1157,766.44 L1158,766.8 L1159,767.53 L1160,768.35 L1161,768.81 L1162,769.27 L1163,769.76 L1164,770.22 L1165,770.53 L1166,770.68 L1167,770.71 L1168,770.8 L1169,770.95 L1170,771.1 L1171,771.19 L1172,771.29 L1173,771.35 L1174,771.38 L1175,771.42 L1176,771.21 L1177,771.01 L1178,770.95 L1179,771.04 L1180,771.12 L1181,771.28 L1182,771.43 L1183,771.51 L1184,771.5 L1185,771.5 L1186,771.49 L1187,771.48 L1188,771.4 L1189,771.25 L1190,771.09 L1191,771.11 L1192,771.13 L1193,771.12 L1194,771.09 L1195,771.07 L1196,771.1 L1197,771.14 L1198,771.19 L1199,771.23 L1200,771.28 L1201,771.4 L1202,771.51 L1203,771.55 L1204,771.52 L1205,771.49 L1206,771.36 L1207,771.23 L1208,771.16 L1209,771.17 L1210,771.18 L1211,771.26 L1212,771.34 L1213,771.44 L1214,771.57 L1215,771.7 L1216,771.59 L1217,771.47 L1218,771.46 L1219,771.55 L1220,771.65 L1221,771.62 L1222,771.6 L1223,771.61 L1224,771.67 L1225,771.72 L1226,771.62 L1227,771.52 L1228,771.45 L1229,771.42 L1230,771.39 L1231,771.41 L1232,771.44 L1233,771.5 L1234,771.6 L1235,771.69 L1236,771.55 L1237,771.4 L1238,771.32 L1239,771.3 L1240,771.27 L1241,771.46 L1242,771.64 L1243,771.68 L1244,771.58 L1245,771.48 L1246,771.53 L1247,771.57 L1248,771.53 L1249,771.4 L1250,771.27 L1251,771.23 L1252,771.2 L1253,771.2 L1254,771.26 L1255,771.31 L1256,771.36 L1257,771.42 L1258,771.4 L1259,771.28 L1260,771.17" fill="none" stroke="#9c9cf4" stroke-width="1.55" stroke-linejoin="round"/>
<text x="855" y="753.5" font-size="16.2" text-anchor="middle" fill="#333" font-weight="normal" stroke="#333" stroke-width="0.3" >5.20</text>
<text x="889.3" y="749.8" font-size="16.2" text-anchor="middle" fill="#333" font-weight="normal" stroke="#333" stroke-width="0.3" >5.30</text>
<text x="918.1" y="661.4" font-size="16.2" text-anchor="middle" fill="#333" font-weight="normal" stroke="#333" stroke-width="0.3" >5.36</text>
<text x="970.2" y="500.5" font-size="16.2" text-anchor="middle" fill="#333" font-weight="normal" stroke="#333" stroke-width="0.3" >5.51</text>
<text x="1046" y="606.1" font-size="16.2" text-anchor="middle" fill="#333" font-weight="normal" stroke="#333" stroke-width="0.3" >5.74</text>
<text x="1160" y="762.2" font-size="16.2" text-anchor="middle" fill="#333" font-weight="normal" stroke="#333" stroke-width="0.3" >6.02</text>
<line x1="808.9" y1="712.8" x2="823.33" y2="728.63" stroke="#1d98d5" stroke-width="2.0"/>
<path d="M829.6,735.5 L816.89,730.17 L823.33,728.63 L825.46,722.36 Z" fill="#1d98d5"/>
<line x1="850.2" y1="701.8" x2="864.3" y2="717.57" stroke="#1d98d5" stroke-width="2.0"/>
<path d="M870.5,724.5 L857.84,719.05 L864.3,717.57 L866.49,711.32 Z" fill="#1d98d5"/>
<line x1="104.3" y1="898" x2="104.3" y2="1199.4" stroke="#d6d6d6" stroke-width="1.5"/>
<line x1="103.5" y1="1199.4" x2="616.5" y2="1199.4" stroke="#c9c9c9" stroke-width="2.2"/>
<text x="145.2" y="1226" font-size="20.6" text-anchor="middle" fill="#111" font-weight="normal" stroke="#111" stroke-width="0.4" >5.0</text>
<text x="218.2" y="1226" font-size="20.6" text-anchor="middle" fill="#111" font-weight="normal" stroke="#111" stroke-width="0.4" >5.2</text>
<text x="291.2" y="1226" font-size="20.6" text-anchor="middle" fill="#111" font-weight="normal" stroke="#111" stroke-width="0.4" >5.4</text>
<text x="364.2" y="1226" font-size="20.6" text-anchor="middle" fill="#111" font-weight="normal" stroke="#111" stroke-width="0.4" >5.6</text>
<text x="437.2" y="1226" font-size="20.6" text-anchor="middle" fill="#111" font-weight="normal" stroke="#111" stroke-width="0.4" >5.8</text>
<text x="510.2" y="1226" font-size="20.6" text-anchor="middle" fill="#111" font-weight="normal" stroke="#111" stroke-width="0.4" >6.0</text>
<text x="583.2" y="1226" font-size="20.6" text-anchor="middle" fill="#111" font-weight="normal" stroke="#111" stroke-width="0.4" >6.2</text>
<text x="364.2" y="1255.4" font-size="20" text-anchor="middle" fill="#111" font-weight="normal" stroke="#111" stroke-width="0.4" >pI</text>
<text x="0" y="0" font-size="20" text-anchor="middle" fill="#111" stroke="#111" stroke-width="0.4" transform="translate(50.8,1049) rotate(-90)" textLength="181" lengthAdjust="spacingAndGlyphs">Chemiluminescence</text>
<text x="116.8" y="917.6" font-size="20" text-anchor="start" fill="#111" font-weight="normal" stroke="#111" stroke-width="0.4" textLength="65" lengthAdjust="spacingAndGlyphs">p-S474</text>
<text x="99.2" y="935.6" font-size="20.6" text-anchor="end" fill="#111" font-weight="normal" stroke="#111" stroke-width="0.4" >40</text>
<text x="99.2" y="974.7" font-size="20.6" text-anchor="end" fill="#111" font-weight="normal" stroke="#111" stroke-width="0.4" >0</text>
<text x="558.6" y="954.8" font-size="20" text-anchor="start" fill="#111" font-weight="normal" stroke="#111" stroke-width="0.4" textLength="36.8" lengthAdjust="spacingAndGlyphs">+Ins</text>
<path d="M163.2,967.2 L163.2,967.19 L163.9,967.19 L164.6,967.2 L165.3,967.2 L166,967.2 L166.7,967.2 L167.4,967.2 L168.1,967.2 L168.8,967.2 L169.5,967.2 L170.2,967.2 L170.9,967.2 L171.6,967.19 L172.3,966.91 L173,966.84 L173.7,966.76 L174.4,966.67 L175.1,966.56 L175.8,966.43 L176.5,966.28 L177.2,966.12 L177.9,965.93 L178.6,965.72 L179.3,965.5 L180,965.25 L180.7,964.99 L181.4,964.71 L182.1,964.41 L182.8,964.1 L183.5,963.79 L184.2,963.47 L184.9,963.15 L185.6,962.84 L186.3,962.55 L187,962.26 L187.7,962.01 L188.4,961.78 L189.1,961.58 L189.8,961.42 L190.5,961.3 L191.2,961.23 L191.9,961.2 L192.6,961.22 L193.3,961.28 L194,961.38 L194.7,961.53 L195.4,961.72 L196.1,961.94 L196.8,962.19 L197.5,962.46 L198.2,962.76 L198.9,963.06 L199.6,963.38 L200.3,963.7 L201,964.01 L201.7,964.32 L202.4,964.62 L203.1,964.91 L203.8,965.18 L204.5,965.43 L205.2,965.66 L205.9,965.87 L206.6,966.07 L207.3,966.24 L208,966.39 L208.7,966.69 L209.4,967.05 L210.1,967.2 L210.8,967.2 L211.5,967.2 L212.2,967.2 L212.9,967.07 L213.6,967.04 L214.3,967.08 L215,967.1 L215.7,967.13 L216.4,967.14 L217.1,967.16 L217.8,967.17 L218.5,967.18 L219.2,967.18 L219.9,967.19 L220.6,967.19 L220.8,967.2 Z" fill="#000" fill-opacity="0.06"/>
<path d="M163.2,967.19 L163.9,967.19 L164.6,967.2 L165.3,967.2 L166,967.2 L166.7,967.2 L167.4,967.2 L168.1,967.2 L168.8,967.2 L169.5,967.2 L170.2,967.2 L170.9,967.2 L171.6,967.19 L172.3,966.91 L173,966.84 L173.7,966.76 L174.4,966.67 L175.1,966.56 L175.8,966.43 L176.5,966.28 L177.2,966.12 L177.9,965.93 L178.6,965.72 L179.3,965.5 L180,965.25 L180.7,964.99 L181.4,964.71 L182.1,964.41 L182.8,964.1 L183.5,963.79 L184.2,963.47 L184.9,963.15 L185.6,962.84 L186.3,962.55 L187,962.26 L187.7,962.01 L188.4,961.78 L189.1,961.58 L189.8,961.42 L190.5,961.3 L191.2,961.23 L191.9,961.2 L192.6,961.22 L193.3,961.28 L194,961.38 L194.7,961.53 L195.4,961.72 L196.1,961.94 L196.8,962.19 L197.5,962.46 L198.2,962.76 L198.9,963.06 L199.6,963.38 L200.3,963.7 L201,964.01 L201.7,964.32 L202.4,964.62 L203.1,964.91 L203.8,965.18 L204.5,965.43 L205.2,965.66 L205.9,965.87 L206.6,966.07 L207.3,966.24 L208,966.39 L208.7,966.69 L209.4,967.05 L210.1,967.2 L210.8,967.2 L211.5,967.2 L212.2,967.2 L212.9,967.07 L213.6,967.04 L214.3,967.08 L215,967.1 L215.7,967.13 L216.4,967.14 L217.1,967.16 L217.8,967.17 L218.5,967.18 L219.2,967.18 L219.9,967.19 L220.6,967.19" fill="none" stroke="#b8b8b8" stroke-width="1"/>
<path d="M207.4,967.2 L207.4,967.15 L208.1,967.13 L208.8,967.1 L209.5,967.1 L210.2,967.2 L210.9,967.2 L211.6,967.2 L212.3,967.2 L213,966.96 L213.7,966.26 L214.4,965.96 L215.1,965.58 L215.8,965.11 L216.5,964.53 L217.2,963.84 L217.9,963.01 L218.6,962.4 L219.3,962.4 L220,962.4 L220.7,962.4 L221.4,961.88 L222.1,960.48 L222.8,958.44 L223.5,956.02 L224.2,953.45 L224.9,950.98 L225.6,948.86 L226.3,946.95 L227,944.82 L227.7,942.63 L228.4,940.55 L229.1,938.75 L229.8,937.55 L230.5,937.23 L231.2,937.26 L231.9,937.63 L232.6,938.33 L233.3,939.65 L234,941.14 L234.7,942.66 L235.4,944.08 L236.1,945.68 L236.8,947.61 L237.5,949.56 L238.2,951.51 L238.9,953.4 L239.6,955.2 L240.3,956.89 L241,958.44 L241.7,959.85 L242.4,961.1 L243.1,962.19 L243.8,963.14 L244.5,963.95 L245.2,964.62 L245.9,965.18 L246.6,965.64 L247.3,966 L248,966.3 L248.7,966.52 L249.4,966.7 L250.1,966.83 L250.8,966.94 L251.5,967.01 L252.2,967.07 L252.9,967.11 L253.6,967.2 L254.2,967.2 Z" fill="#000" fill-opacity="0.06"/>
<path d="M207.4,967.15 L208.1,967.13 L208.8,967.1 L209.5,967.1 L210.2,967.2 L210.9,967.2 L211.6,967.2 L212.3,967.2 L213,966.96 L213.7,966.26 L214.4,965.96 L215.1,965.58 L215.8,965.11 L216.5,964.53 L217.2,963.84 L217.9,963.01 L218.6,962.4 L219.3,962.4 L220,962.4 L220.7,962.4 L221.4,961.88 L222.1,960.48 L222.8,958.44 L223.5,956.02 L224.2,953.45 L224.9,950.98 L225.6,948.86 L226.3,946.95 L227,944.82 L227.7,942.63 L228.4,940.55 L229.1,938.75 L229.8,937.55 L230.5,937.23 L231.2,937.26 L231.9,937.63 L232.6,938.33 L233.3,939.65 L234,941.14 L234.7,942.66 L235.4,944.08 L236.1,945.68 L236.8,947.61 L237.5,949.56 L238.2,951.51 L238.9,953.4 L239.6,955.2 L240.3,956.89 L241,958.44 L241.7,959.85 L242.4,961.1 L243.1,962.19 L243.8,963.14 L244.5,963.95 L245.2,964.62 L245.9,965.18 L246.6,965.64 L247.3,966 L248,966.3 L248.7,966.52 L249.4,966.7 L250.1,966.83 L250.8,966.94 L251.5,967.01 L252.2,967.07 L252.9,967.11 L253.6,967.2" fill="none" stroke="#b8b8b8" stroke-width="1"/>
<path d="M262.7,967.2 L262.7,967.2 L263.4,967.2 L264.1,967.2 L264.8,967.2 L265.5,967.2 L266.2,967.2 L266.9,967.2 L267.6,967.2 L268.3,967.06 L269,966.7 L269.7,966.28 L270.4,965.81 L271.1,965.33 L271.8,964.79 L272.5,964.22 L273.2,963.53 L273.9,962.66 L274.6,961.66 L275.3,960.59 L276,959.49 L276.7,958.41 L277.4,957.4 L278.1,956.33 L278.8,955.12 L279.5,953.86 L280.2,952.67 L280.9,951.86 L281.6,951.41 L282.3,951.21 L283,951.27 L283.7,951.58 L284.4,952.13 L285.1,952.94 L285.8,954.08 L286.5,955.26 L287.2,956.37 L287.9,957.4 L288.6,958.64 L289.3,959.98 L290,961.3 L290.7,962.46 L291.4,963.31 L292.1,963.73 L292.8,964.43 L293.5,965.03 L294.2,965.53 L294.9,965.94 L295.6,966.26 L296.3,966.51 L297,966.7 L297.7,966.85 L298.4,966.95 L299.1,967.03 L299.8,967.09 L300.5,967.2 L301.2,967.2 L301.9,967.2 L302.3,967.2 Z" fill="#000" fill-opacity="0.06"/>
<path d="M262.7,967.2 L263.4,967.2 L264.1,967.2 L264.8,967.2 L265.5,967.2 L266.2,967.2 L266.9,967.2 L267.6,967.2 L268.3,967.06 L269,966.7 L269.7,966.28 L270.4,965.81 L271.1,965.33 L271.8,964.79 L272.5,964.22 L273.2,963.53 L273.9,962.66 L274.6,961.66 L275.3,960.59 L276,959.49 L276.7,958.41 L277.4,957.4 L278.1,956.33 L278.8,955.12 L279.5,953.86 L280.2,952.67 L280.9,951.86 L281.6,951.41 L282.3,951.21 L283,951.27 L283.7,951.58 L284.4,952.13 L285.1,952.94 L285.8,954.08 L286.5,955.26 L287.2,956.37 L287.9,957.4 L288.6,958.64 L289.3,959.98 L290,961.3 L290.7,962.46 L291.4,963.31 L292.1,963.73 L292.8,964.43 L293.5,965.03 L294.2,965.53 L294.9,965.94 L295.6,966.26 L296.3,966.51 L297,966.7 L297.7,966.85 L298.4,966.95 L299.1,967.03 L299.8,967.09 L300.5,967.2 L301.2,967.2 L301.9,967.2" fill="none" stroke="#b8b8b8" stroke-width="1"/>
<path d="M105,967.18 L106,967.34 L107,967.51 L108,967.68 L109,967.56 L110,967.44 L111,967.4 L112,967.37 L113,967.08 L114,966.81 L115,967.06 L116,967.33 L117,967.09 L118,966.87 L119,966.49 L120,966.13 L121,966.44 L122,966.76 L123,966.48 L124,966.2 L125,966.97 L126,967.74 L127,967.82 L128,967.9 L129,967.48 L130,967.06 L131,967.09 L132,967.12 L133,967.53 L134,967.92 L135,967.48 L136,967.02 L137,966.97 L138,966.91 L139,966.87 L140,966.81 L141,966.86 L142,966.91 L143,967.04 L144,967.17 L145,967.35 L146,967.52 L147,966.82 L148,966.12 L149,966.62 L150,967.13 L151,966.71 L152,966.28 L153,966.43 L154,966.57 L155,966.37 L156,966.19 L157,965.55 L158,964.94 L159,965.27 L160,965.64 L161,965.29 L162,965.1 L163,965.32 L164,965.6 L165,966.27 L166,966.89 L167,967.39 L168,967.73 L169,967.45 L170,967.05 L171,966.42 L172,965.73 L173,965.81 L174,965.88 L175,965.49 L176,965.06 L177,963.85 L178,962.56 L179,961.95 L180,961.39 L181,960.95 L182,960.72 L183,960.83 L184,961.13 L185,960.66 L186,960.21 L187,960.69 L188,961.08 L189,960.95 L190,960.3 L191,958.89 L192,957.7 L193,957.46 L194,957.77 L195,958.35 L196,959.14 L197,959.79 L198,960.48 L199,961.16 L200,961.69 L201,962.43 L202,963.08 L203,963.39 L204,963.69 L205,963.9 L206,964.17 L207,965.09 L208,966.07 L209,966.23 L210,966.29 L211,966.69 L212,966.85 L213,966.35 L214,965.21 L215,963.72 L216,962.54 L217,962.16 L218,962.22 L219,962.03 L220,961.84 L221,961.42 L222,959.53 L223,957.06 L224,953.94 L225,950.46 L226,947.66 L227,944.52 L228,941.26 L229,938.57 L230,936.75 L231,936.05 L232,936.64 L233,938.26 L234,940.33 L235,942.55 L236,944.47 L237,945.81 L238,947.16 L239,949.3 L240,951.47 L241,953.41 L242,955.59 L243,957.24 L244,958.82 L245,961.1 L246,962.8 L247,963.6 L248,964.26 L249,964.38 L250,964.41 L251,964.78 L252,965.14 L253,965.98 L254,966.79 L255,966.81 L256,966.73 L257,966.92 L258,966.99 L259,967.23 L260,967.45 L261,967.44 L262,967.42 L263,967.45 L264,967.46 L265,967.24 L266,967.02 L267,966.66 L268,966.13 L269,965.37 L270,964.5 L271,963.88 L272,963.2 L273,962.39 L274,961.23 L275,960.03 L276,958.73 L277,957.36 L278,956.05 L279,953.9 L280,951.73 L281,950.39 L282,949.65 L283,950.08 L284,951.32 L285,952.25 L286,953.46 L287,955.35 L288,957.11 L289,958.87 L290,960.69 L291,962.29 L292,963.16 L293,963.25 L294,963.25 L295,963.49 L296,963.92 L297,964.62 L298,965.42 L299,965.66 L300,965.78 L301,966.62 L302,967.2 L303,967.3 L304,967.4 L305,966.76 L306,966.13 L307,966.27 L308,966.4 L309,966.45 L310,966.5 L311,966.38 L312,966.26 L313,966.3 L314,966.34 L315,966.75 L316,967.16 L317,966.75 L318,966.34 L319,966.3 L320,966.25 L321,966.96 L322,967.67 L323,967.24 L324,966.81 L325,966.93 L326,967.04 L327,966.99 L328,966.94 L329,966.84 L330,966.74 L331,966.84 L332,966.93 L333,966.73 L334,966.52 L335,966.83 L336,967.15 L337,966.89 L338,966.63 L339,966.55 L340,966.47 L341,966.52 L342,966.58 L343,966.75 L344,966.91 L345,967.33 L346,967.75 L347,967.49 L348,967.23 L349,967.54 L350,967.85 L351,967.39 L352,966.93 L353,966.82 L354,966.71 L355,967.07 L356,967.44 L357,967.02 L358,966.61 L359,967.26 L360,967.91 L361,967.43 L362,966.95 L363,966.86 L364,966.76 L365,966.77 L366,966.77 L367,966.8 L368,966.83 L369,967.34 L370,967.85 L371,967.9 L372,967.95 L373,967.6 L374,967.26 L375,967 L376,966.74 L377,966.57 L378,966.39 L379,966.45 L380,966.51 L381,966.69 L382,966.87 L383,967.15 L384,967.43 L385,967.42 L386,967.41 L387,967.59 L388,967.78 L389,967.75 L390,967.73 L391,967.36 L392,966.99 L393,967.25 L394,967.51 L395,967.33 L396,967.15 L397,967.38 L398,967.61 L399,967.17 L400,966.74 L401,967.38 L402,968.01 L403,967.25 L404,966.49 L405,966.97 L406,967.45 L407,967.24 L408,967.03 L409,967.39 L410,967.75 L411,967.23 L412,966.71 L413,967.31 L414,967.91 L415,967.2 L416,966.49 L417,967.08 L418,967.67 L419,967.65 L420,967.62 L421,967.47 L422,967.32 L423,967.05 L424,966.79 L425,966.96 L426,967.13 L427,967.18 L428,967.23 L429,967.05 L430,966.86 L431,966.82 L432,966.79 L433,967.33 L434,967.88 L435,967.65 L436,967.42 L437,967.19 L438,966.97 L439,967.26 L440,967.55 L441,967.55 L442,967.56 L443,967.17 L444,966.77 L445,967.13 L446,967.49 L447,967.49 L448,967.5 L449,967.12 L450,966.74 L451,966.9 L452,967.05 L453,967.5 L454,967.95 L455,967.73 L456,967.5 L457,967.22 L458,966.94 L459,967.07 L460,967.21 L461,967.27 L462,967.32 L463,967.52 L464,967.72 L465,967.85 L466,967.97 L467,967.35 L468,966.74 L469,966.71 L470,966.67 L471,966.99 L472,967.31 L473,966.97 L474,966.64 L475,966.75 L476,966.86 L477,966.82 L478,966.78 L479,966.77 L480,966.76 L481,967.19 L482,967.62 L483,967.2 L484,966.77 L485,967.15 L486,967.53 L487,967.85 L488,968.17 L489,967.51 L490,966.85 L491,967.35 L492,967.85 L493,967.71 L494,967.57 L495,967.24 L496,966.91 L497,967.53 L498,968.16 L499,967.99 L500,967.82 L501,967.54 L502,967.25 L503,967.66 L504,968.07 L505,967.44 L506,966.81 L507,967.4 L508,967.98 L509,967.99 L510,968 L511,967.42 L512,966.84 L513,967.48 L514,968.12 L515,968.02 L516,967.91 L517,968.02 L518,968.12 L519,967.62 L520,967.11 L521,967.48 L522,967.84 L523,967.88 L524,967.91 L525,967.57 L526,967.22 L527,966.97 L528,966.72 L529,966.71 L530,966.69 L531,967.09 L532,967.48 L533,967.52 L534,967.55 L535,967.21 L536,966.87 L537,967.28 L538,967.69 L539,967.22 L540,966.76 L541,967.1 L542,967.44 L543,967.47 L544,967.5 L545,967.25 L546,967.01 L547,966.88 L548,966.76 L549,967.44 L550,968.13 L551,968.09 L552,968.05 L553,967.84 L554,967.63 L555,967.18 L556,966.73 L557,967.13 L558,967.53 L559,967.88 L560,968.23 L561,968.07 L562,967.92 L563,967.85 L564,967.79 L565,967.27 L566,966.75 L567,967.19 L568,967.62 L569,967.34 L570,967.06 L571,967.67 L572,968.27 L573,967.49 L574,966.71 L575,966.88 L576,967.05 L577,967.58 L578,968.1 L579,967.5 L580,966.89 L581,967.03 L582,967.18 L583,967.18 L584,967.19 L585,967.65 L586,968.11 L587,967.96 L588,967.81 L589,968 L590,968.19 L591,967.6 L592,967.01 L593,966.92 L594,966.84 L595,967.04 L596,967.25 L597,967.59 L598,967.92 L599,967.81 L600,967.69 L601,967.94 L602,968.2 L603,968.02 L604,967.84 L605,967.34 L606,966.83 L607,967.02 L608,967.2 L609,967.11 L610,967.03 L611,967.08 L612,967.13 L613,967.45 L614,967.77 L615,967.59 L616,967.41" fill="none" stroke="#9c9cf4" stroke-width="1.55" stroke-linejoin="round"/>
<text x="195.6" y="951.6" font-size="16.2" text-anchor="middle" fill="#333" font-weight="normal" stroke="#333" stroke-width="0.3" >5.15</text>
<text x="235.3" y="928" font-size="16.2" text-anchor="middle" fill="#333" font-weight="normal" stroke="#333" stroke-width="0.3" >5.27</text>
<text x="284.6" y="942.2" font-size="16.2" text-anchor="middle" fill="#333" font-weight="normal" stroke="#333" stroke-width="0.3" >5.36</text>
<text x="99.2" y="1009.7" font-size="20.6" text-anchor="end" fill="#111" font-weight="normal" stroke="#111" stroke-width="0.4" >40</text>
<text x="99.2" y="1050.5" font-size="20.6" text-anchor="end" fill="#111" font-weight="normal" stroke="#111" stroke-width="0.4" >0</text>
<text x="499" y="1030.1" font-size="20" text-anchor="start" fill="#111" font-weight="normal" stroke="#111" stroke-width="0.4" textLength="103" lengthAdjust="spacingAndGlyphs">+Ins &amp; Cinn</text>
<path d="M139.4,1042.8 L139.4,1042.76 L140.1,1042.75 L140.8,1042.74 L141.5,1042.73 L142.2,1042.72 L142.9,1042.71 L143.6,1042.69 L144.3,1042.68 L145,1042.66 L145.7,1042.64 L146.4,1042.61 L147.1,1042.58 L147.8,1042.55 L148.5,1042.52 L149.2,1042.48 L149.9,1042.43 L150.6,1042.38 L151.3,1042.33 L152,1042.26 L152.7,1042.19 L153.4,1042.12 L154.1,1042.03 L154.8,1041.94 L155.5,1041.83 L156.2,1041.72 L156.9,1041.59 L157.6,1041.45 L158.3,1041.3 L159,1041.13 L159.7,1040.95 L160.4,1040.75 L161.1,1040.54 L161.8,1040.31 L162.5,1040.06 L163.2,1039.79 L163.9,1039.51 L164.6,1039.2 L165.3,1038.87 L166,1038.51 L166.7,1038.14 L167.4,1037.74 L168.1,1037.32 L168.8,1036.88 L169.5,1036.41 L170.2,1035.91 L170.9,1035.4 L171.6,1034.86 L172.3,1034.3 L173,1033.71 L173.7,1033.1 L174.4,1032.47 L175.1,1031.83 L175.8,1031.16 L176.5,1030.48 L177.2,1030.05 L177.9,1029.64 L178.6,1029.11 L179.3,1028.49 L180,1027.79 L180.7,1027.03 L181.4,1026.23 L182.1,1025.42 L182.8,1024.61 L183.5,1023.82 L184.2,1023.07 L184.9,1022.37 L185.6,1021.75 L186.3,1021.14 L187,1020.53 L187.7,1019.94 L188.4,1019.36 L189.1,1018.79 L189.8,1018.24 L190.5,1017.69 L191.2,1017.16 L191.9,1016.65 L192.6,1016.15 L193.3,1015.66 L194,1015.29 L194.7,1015.09 L195.4,1014.94 L196.1,1014.84 L196.8,1014.8 L197.5,1014.81 L198.2,1014.88 L198.9,1015 L199.6,1015.17 L200.3,1015.39 L201,1015.66 L201.7,1015.98 L202.4,1016.35 L203.1,1016.76 L203.8,1017.22 L204.5,1017.71 L205.2,1018.25 L205.9,1018.81 L206.6,1019.41 L207.3,1020.04 L208,1020.69 L208.7,1021.37 L209.4,1022.06 L210.1,1022.77 L210.8,1023.5 L211.5,1024.23 L212.2,1024.97 L212.9,1025.71 L213.6,1026.45 L214.3,1027.19 L215,1027.93 L215.7,1028.66 L216.4,1029.37 L217.1,1030.08 L217.8,1030.77 L218.5,1031.45 L219.2,1032.11 L219.9,1032.75 L220.6,1033.37 L221.3,1033.96 L222,1034.54 L222.7,1035.09 L223.4,1035.62 L224.1,1036.13 L224.8,1036.61 L225.5,1037.07 L226.2,1037.5 L226.9,1037.92 L227.6,1038.3 L228.3,1038.67 L229,1039.01 L229.7,1039.33 L230.4,1039.63 L231.1,1039.91 L231.8,1040.17 L232.5,1040.41 L233.2,1040.63 L233.9,1040.84 L234.6,1041.03 L235.3,1041.2 L236,1041.36 L236.7,1041.51 L237.4,1041.64 L238.1,1041.77 L238.8,1041.88 L239.5,1041.98 L240.2,1042.07 L240.9,1042.15 L241.6,1042.22 L242.3,1042.29 L243,1042.35 L243.7,1042.4 L244.4,1042.45 L245.1,1042.49 L245.8,1042.53 L246.5,1042.57 L247.2,1042.6 L247.9,1042.62 L248.6,1042.65 L249.3,1042.67 L250,1042.68 L250.7,1042.7 L251.4,1042.71 L252.1,1042.73 L252.8,1042.74 L253.5,1042.75 L254.2,1042.75 L254.6,1042.8 Z" fill="#000" fill-opacity="0.06"/>
<path d="M139.4,1042.76 L140.1,1042.75 L140.8,1042.74 L141.5,1042.73 L142.2,1042.72 L142.9,1042.71 L143.6,1042.69 L144.3,1042.68 L145,1042.66 L145.7,1042.64 L146.4,1042.61 L147.1,1042.58 L147.8,1042.55 L148.5,1042.52 L149.2,1042.48 L149.9,1042.43 L150.6,1042.38 L151.3,1042.33 L152,1042.26 L152.7,1042.19 L153.4,1042.12 L154.1,1042.03 L154.8,1041.94 L155.5,1041.83 L156.2,1041.72 L156.9,1041.59 L157.6,1041.45 L158.3,1041.3 L159,1041.13 L159.7,1040.95 L160.4,1040.75 L161.1,1040.54 L161.8,1040.31 L162.5,1040.06 L163.2,1039.79 L163.9,1039.51 L164.6,1039.2 L165.3,1038.87 L166,1038.51 L166.7,1038.14 L167.4,1037.74 L168.1,1037.32 L168.8,1036.88 L169.5,1036.41 L170.2,1035.91 L170.9,1035.4 L171.6,1034.86 L172.3,1034.3 L173,1033.71 L173.7,1033.1 L174.4,1032.47 L175.1,1031.83 L175.8,1031.16 L176.5,1030.48 L177.2,1030.05 L177.9,1029.64 L178.6,1029.11 L179.3,1028.49 L180,1027.79 L180.7,1027.03 L181.4,1026.23 L182.1,1025.42 L182.8,1024.61 L183.5,1023.82 L184.2,1023.07 L184.9,1022.37 L185.6,1021.75 L186.3,1021.14 L187,1020.53 L187.7,1019.94 L188.4,1019.36 L189.1,1018.79 L189.8,1018.24 L190.5,1017.69 L191.2,1017.16 L191.9,1016.65 L192.6,1016.15 L193.3,1015.66 L194,1015.29 L194.7,1015.09 L195.4,1014.94 L196.1,1014.84 L196.8,1014.8 L197.5,1014.81 L198.2,1014.88 L198.9,1015 L199.6,1015.17 L200.3,1015.39 L201,1015.66 L201.7,1015.98 L202.4,1016.35 L203.1,1016.76 L203.8,1017.22 L204.5,1017.71 L205.2,1018.25 L205.9,1018.81 L206.6,1019.41 L207.3,1020.04 L208,1020.69 L208.7,1021.37 L209.4,1022.06 L210.1,1022.77 L210.8,1023.5 L211.5,1024.23 L212.2,1024.97 L212.9,1025.71 L213.6,1026.45 L214.3,1027.19 L215,1027.93 L215.7,1028.66 L216.4,1029.37 L217.1,1030.08 L217.8,1030.77 L218.5,1031.45 L219.2,1032.11 L219.9,1032.75 L220.6,1033.37 L221.3,1033.96 L222,1034.54 L222.7,1035.09 L223.4,1035.62 L224.1,1036.13 L224.8,1036.61 L225.5,1037.07 L226.2,1037.5 L226.9,1037.92 L227.6,1038.3 L228.3,1038.67 L229,1039.01 L229.7,1039.33 L230.4,1039.63 L231.1,1039.91 L231.8,1040.17 L232.5,1040.41 L233.2,1040.63 L233.9,1040.84 L234.6,1041.03 L235.3,1041.2 L236,1041.36 L236.7,1041.51 L237.4,1041.64 L238.1,1041.77 L238.8,1041.88 L239.5,1041.98 L240.2,1042.07 L240.9,1042.15 L241.6,1042.22 L242.3,1042.29 L243,1042.35 L243.7,1042.4 L244.4,1042.45 L245.1,1042.49 L245.8,1042.53 L246.5,1042.57 L247.2,1042.6 L247.9,1042.62 L248.6,1042.65 L249.3,1042.67 L250,1042.68 L250.7,1042.7 L251.4,1042.71 L252.1,1042.73 L252.8,1042.74 L253.5,1042.75 L254.2,1042.75" fill="none" stroke="#b8b8b8" stroke-width="1"/>
<path d="M204.1,1042.8 L204.1,1042.73 L204.8,1042.71 L205.5,1042.68 L206.2,1042.65 L206.9,1042.6 L207.6,1042.55 L208.3,1042.48 L209,1042.39 L209.7,1042.28 L210.4,1042.14 L211.1,1041.98 L211.8,1041.78 L212.5,1041.54 L213.2,1041.26 L213.9,1040.92 L214.6,1040.52 L215.3,1040.05 L216,1039.51 L216.7,1038.89 L217.4,1038.17 L218.1,1037.36 L218.8,1036.44 L219.5,1035.41 L220.2,1034.27 L220.9,1033 L221.6,1031.62 L222.3,1030.13 L223,1028.52 L223.7,1026.8 L224.4,1024.98 L225.1,1023.07 L225.8,1021.1 L226.5,1019.07 L227.2,1017 L227.9,1014.93 L228.6,1012.87 L229.3,1010.85 L230,1008.9 L230.7,1007.05 L231.4,1005.33 L232.1,1003.76 L232.8,1002.37 L233.5,1001.18 L234.2,1000.21 L234.9,999.49 L235.6,999.02 L236.3,998.81 L237,998.87 L237.7,999.19 L238.4,999.77 L239.1,1000.6 L239.8,1001.66 L240.5,1002.94 L241.2,1004.41 L241.9,1006.05 L242.6,1007.83 L243.3,1009.73 L244,1011.71 L244.7,1013.75 L245.4,1015.82 L246.1,1017.89 L246.8,1019.94 L247.5,1021.95 L248.2,1023.9 L248.9,1025.77 L249.6,1027.55 L250.3,1029.22 L251,1030.78 L251.7,1032.23 L252.4,1033.56 L253.1,1034.77 L253.8,1035.86 L254.5,1036.85 L255.2,1037.72 L255.9,1038.49 L256.6,1039.17 L257.3,1039.75 L258,1040.26 L258.7,1040.7 L259.4,1041.07 L260.1,1041.39 L260.8,1041.65 L261.5,1041.87 L262.2,1042.05 L262.9,1042.2 L263.6,1042.33 L264.3,1042.43 L265,1042.51 L265.7,1042.57 L266.4,1042.62 L267.1,1042.66 L267.8,1042.7 L268.5,1042.72 L268.9,1042.8 Z" fill="#000" fill-opacity="0.06"/>
<path d="M204.1,1042.73 L204.8,1042.71 L205.5,1042.68 L206.2,1042.65 L206.9,1042.6 L207.6,1042.55 L208.3,1042.48 L209,1042.39 L209.7,1042.28 L210.4,1042.14 L211.1,1041.98 L211.8,1041.78 L212.5,1041.54 L213.2,1041.26 L213.9,1040.92 L214.6,1040.52 L215.3,1040.05 L216,1039.51 L216.7,1038.89 L217.4,1038.17 L218.1,1037.36 L218.8,1036.44 L219.5,1035.41 L220.2,1034.27 L220.9,1033 L221.6,1031.62 L222.3,1030.13 L223,1028.52 L223.7,1026.8 L224.4,1024.98 L225.1,1023.07 L225.8,1021.1 L226.5,1019.07 L227.2,1017 L227.9,1014.93 L228.6,1012.87 L229.3,1010.85 L230,1008.9 L230.7,1007.05 L231.4,1005.33 L232.1,1003.76 L232.8,1002.37 L233.5,1001.18 L234.2,1000.21 L234.9,999.49 L235.6,999.02 L236.3,998.81 L237,998.87 L237.7,999.19 L238.4,999.77 L239.1,1000.6 L239.8,1001.66 L240.5,1002.94 L241.2,1004.41 L241.9,1006.05 L242.6,1007.83 L243.3,1009.73 L244,1011.71 L244.7,1013.75 L245.4,1015.82 L246.1,1017.89 L246.8,1019.94 L247.5,1021.95 L248.2,1023.9 L248.9,1025.77 L249.6,1027.55 L250.3,1029.22 L251,1030.78 L251.7,1032.23 L252.4,1033.56 L253.1,1034.77 L253.8,1035.86 L254.5,1036.85 L255.2,1037.72 L255.9,1038.49 L256.6,1039.17 L257.3,1039.75 L258,1040.26 L258.7,1040.7 L259.4,1041.07 L260.1,1041.39 L260.8,1041.65 L261.5,1041.87 L262.2,1042.05 L262.9,1042.2 L263.6,1042.33 L264.3,1042.43 L265,1042.51 L265.7,1042.57 L266.4,1042.62 L267.1,1042.66 L267.8,1042.7 L268.5,1042.72" fill="none" stroke="#b8b8b8" stroke-width="1"/>
<path d="M255,1042.8 L255,1042.77 L255.7,1042.76 L256.4,1042.74 L257.1,1042.73 L257.8,1042.71 L258.5,1042.68 L259.2,1042.65 L259.9,1042.6 L260.6,1042.55 L261.3,1042.49 L262,1042.41 L262.7,1042.31 L263.4,1042.2 L264.1,1042.06 L264.8,1041.9 L265.5,1041.71 L266.2,1041.49 L266.9,1041.23 L267.6,1040.93 L268.3,1040.59 L269,1040.2 L269.7,1039.76 L270.4,1039.27 L271.1,1038.73 L271.8,1038.12 L272.5,1037.47 L273.2,1036.75 L273.9,1036.04 L274.6,1035.23 L275.3,1034.29 L276,1033.39 L276.7,1032.44 L277.4,1031.47 L278.1,1030.49 L278.8,1029.5 L279.5,1028.51 L280.2,1027.55 L280.9,1026.62 L281.6,1025.74 L282.3,1024.91 L283,1024.17 L283.7,1023.5 L284.4,1022.93 L285.1,1022.47 L285.8,1022.13 L286.5,1021.9 L287.2,1021.81 L287.9,1021.83 L288.6,1021.99 L289.3,1022.26 L290,1022.8 L290.7,1023.8 L291.4,1024.86 L292.1,1025.93 L292.8,1026.95 L293.5,1027.86 L294.2,1028.59 L294.9,1029.27 L295.6,1029.94 L296.3,1030.59 L297,1031.23 L297.7,1031.89 L298.4,1032.85 L299.1,1033.78 L299.8,1034.67 L300.5,1035.52 L301.2,1036.32 L301.9,1037.06 L302.6,1037.76 L303.3,1038.39 L304,1038.97 L304.7,1039.49 L305.4,1039.96 L306.1,1040.37 L306.8,1040.74 L307.5,1041.07 L308.2,1041.35 L308.9,1041.59 L309.6,1041.8 L310.3,1041.98 L311,1042.13 L311.7,1042.25 L312.4,1042.36 L313.1,1042.44 L313.8,1042.52 L314.5,1042.57 L315.2,1042.62 L315.9,1042.66 L316.6,1042.69 L317.3,1042.72 L318,1042.74 L318.7,1042.8 L319.4,1042.8 L319.8,1042.8 Z" fill="#000" fill-opacity="0.06"/>
<path d="M255,1042.77 L255.7,1042.76 L256.4,1042.74 L257.1,1042.73 L257.8,1042.71 L258.5,1042.68 L259.2,1042.65 L259.9,1042.6 L260.6,1042.55 L261.3,1042.49 L262,1042.41 L262.7,1042.31 L263.4,1042.2 L264.1,1042.06 L264.8,1041.9 L265.5,1041.71 L266.2,1041.49 L266.9,1041.23 L267.6,1040.93 L268.3,1040.59 L269,1040.2 L269.7,1039.76 L270.4,1039.27 L271.1,1038.73 L271.8,1038.12 L272.5,1037.47 L273.2,1036.75 L273.9,1036.04 L274.6,1035.23 L275.3,1034.29 L276,1033.39 L276.7,1032.44 L277.4,1031.47 L278.1,1030.49 L278.8,1029.5 L279.5,1028.51 L280.2,1027.55 L280.9,1026.62 L281.6,1025.74 L282.3,1024.91 L283,1024.17 L283.7,1023.5 L284.4,1022.93 L285.1,1022.47 L285.8,1022.13 L286.5,1021.9 L287.2,1021.81 L287.9,1021.83 L288.6,1021.99 L289.3,1022.26 L290,1022.8 L290.7,1023.8 L291.4,1024.86 L292.1,1025.93 L292.8,1026.95 L293.5,1027.86 L294.2,1028.59 L294.9,1029.27 L295.6,1029.94 L296.3,1030.59 L297,1031.23 L297.7,1031.89 L298.4,1032.85 L299.1,1033.78 L299.8,1034.67 L300.5,1035.52 L301.2,1036.32 L301.9,1037.06 L302.6,1037.76 L303.3,1038.39 L304,1038.97 L304.7,1039.49 L305.4,1039.96 L306.1,1040.37 L306.8,1040.74 L307.5,1041.07 L308.2,1041.35 L308.9,1041.59 L309.6,1041.8 L310.3,1041.98 L311,1042.13 L311.7,1042.25 L312.4,1042.36 L313.1,1042.44 L313.8,1042.52 L314.5,1042.57 L315.2,1042.62 L315.9,1042.66 L316.6,1042.69 L317.3,1042.72 L318,1042.74 L318.7,1042.8 L319.4,1042.8" fill="none" stroke="#b8b8b8" stroke-width="1"/>
<path d="M105,1042.82 L106,1042.51 L107,1043.13 L108,1043.74 L109,1043.71 L110,1043.68 L111,1043.31 L112,1042.95 L113,1043.1 L114,1043.26 L115,1042.9 L116,1042.54 L117,1042.55 L118,1042.55 L119,1042.61 L120,1042.66 L121,1042.98 L122,1043.29 L123,1042.88 L124,1042.46 L125,1043.03 L126,1043.59 L127,1042.82 L128,1042.04 L129,1042.07 L130,1042.11 L131,1041.95 L132,1041.75 L133,1042.16 L134,1042.55 L135,1042.05 L136,1041.54 L137,1041.42 L138,1041.29 L139,1040.95 L140,1040.6 L141,1040.59 L142,1040.54 L143,1040.03 L144,1039.5 L145,1038.98 L146,1038.45 L147,1038.24 L148,1038.03 L149,1037.55 L150,1037.03 L151,1036.41 L152,1035.75 L153,1035.79 L154,1035.82 L155,1035.17 L156,1034.54 L157,1034.04 L158,1033.58 L159,1033.37 L160,1033.23 L161,1032.6 L162,1032.07 L163,1031.95 L164,1031.85 L165,1031.82 L166,1031.8 L167,1031.73 L168,1031.65 L169,1031.78 L170,1031.9 L171,1031.24 L172,1030.52 L173,1030.62 L174,1030.65 L175,1030.31 L176,1029.91 L177,1029.26 L178,1028.52 L179,1027.46 L180,1026.22 L181,1025.67 L182,1025.07 L183,1023.35 L184,1021.69 L185,1021.14 L186,1020.7 L187,1019.51 L188,1018.34 L189,1017.42 L190,1016.54 L191,1015.89 L192,1015.27 L193,1014.47 L194,1013.62 L195,1012.87 L196,1012.2 L197,1012.11 L198,1012.4 L199,1012.54 L200,1012.8 L201,1012.83 L202,1012.93 L203,1013.62 L204,1014.67 L205,1015.66 L206,1016.84 L207,1018.22 L208,1019.52 L209,1020.9 L210,1022.22 L211,1022.86 L212,1023.48 L213,1024.91 L214,1026.16 L215,1026.55 L216,1026.61 L217,1026.48 L218,1026.13 L219,1025.08 L220,1023.9 L221,1023.25 L222,1022.51 L223,1021.32 L224,1019.8 L225,1018.32 L226,1016.65 L227,1014.73 L228,1011.93 L229,1008.32 L230,1005.06 L231,1002.8 L232,1001.11 L233,998.97 L234,997.04 L235,996.5 L236,996.4 L237,996.43 L238,996.83 L239,997.49 L240,998.37 L241,999.37 L242,1000.47 L243,1001.63 L244,1003.61 L245,1006.54 L246,1009.47 L247,1012.5 L248,1015.46 L249,1017.93 L250,1020.33 L251,1022.75 L252,1024.92 L253,1026.27 L254,1027.38 L255,1029.11 L256,1030.73 L257,1031.25 L258,1031.59 L259,1033 L260,1034.22 L261,1034.66 L262,1035.04 L263,1034.98 L264,1034.86 L265,1034.9 L266,1034.88 L267,1035.45 L268,1036.01 L269,1036.27 L270,1036.5 L271,1036.3 L272,1036.06 L273,1035.51 L274,1034.43 L275,1033.37 L276,1032.04 L277,1030.86 L278,1029.7 L279,1027.68 L280,1025.94 L281,1025.49 L282,1024.98 L283,1023.24 L284,1021.6 L285,1020.64 L286,1019.92 L287,1019.49 L288,1019.51 L289,1020.91 L290,1022.77 L291,1024.15 L292,1025.62 L293,1026.6 L294,1027.31 L295,1028.1 L296,1028.87 L297,1030.23 L298,1031.57 L299,1032.61 L300,1033.62 L301,1033.7 L302,1033.73 L303,1034.9 L304,1036.02 L305,1036.8 L306,1037.55 L307,1037.79 L308,1037.99 L309,1038.58 L310,1039.13 L311,1039.75 L312,1040.33 L313,1040.23 L314,1040.13 L315,1040.51 L316,1040.88 L317,1041.53 L318,1042.14 L319,1042.32 L320,1042.45 L321,1042.59 L322,1042.65 L323,1042.49 L324,1042.32 L325,1042.79 L326,1043.25 L327,1042.71 L328,1042.18 L329,1042.48 L330,1042.79 L331,1042.96 L332,1043.13 L333,1042.74 L334,1042.34 L335,1042.06 L336,1041.79 L337,1041.92 L338,1042.05 L339,1041.93 L340,1041.81 L341,1041.87 L342,1041.94 L343,1041.91 L344,1041.89 L345,1042.07 L346,1042.25 L347,1042.27 L348,1042.29 L349,1042.35 L350,1042.42 L351,1042.59 L352,1042.76 L353,1042.77 L354,1042.78 L355,1042.79 L356,1042.8 L357,1042.54 L358,1042.28 L359,1042.52 L360,1042.76 L361,1042.67 L362,1042.58 L363,1042.24 L364,1041.91 L365,1042.24 L366,1042.58 L367,1042.39 L368,1042.21 L369,1042.5 L370,1042.78 L371,1042.83 L372,1042.88 L373,1042.48 L374,1042.09 L375,1042.24 L376,1042.4 L377,1042.42 L378,1042.43 L379,1042.31 L380,1042.18 L381,1041.98 L382,1041.77 L383,1041.78 L384,1041.79 L385,1042.54 L386,1043.3 L387,1043.09 L388,1042.89 L389,1042.65 L390,1042.41 L391,1042.59 L392,1042.78 L393,1042.46 L394,1042.14 L395,1042.5 L396,1042.85 L397,1043.04 L398,1043.23 L399,1043.09 L400,1042.95 L401,1042.71 L402,1042.46 L403,1042.88 L404,1043.29 L405,1043.24 L406,1043.19 L407,1042.5 L408,1041.81 L409,1042.1 L410,1042.38 L411,1042.41 L412,1042.45 L413,1042.31 L414,1042.16 L415,1042.44 L416,1042.71 L417,1042.34 L418,1041.96 L419,1042.44 L420,1042.93 L421,1043.02 L422,1043.11 L423,1042.47 L424,1041.83 L425,1042.34 L426,1042.85 L427,1042.51 L428,1042.17 L429,1042.46 L430,1042.76 L431,1042.81 L432,1042.85 L433,1043.08 L434,1043.31 L435,1043.17 L436,1043.03 L437,1042.66 L438,1042.3 L439,1042.61 L440,1042.92 L441,1042.46 L442,1041.99 L443,1042.45 L444,1042.91 L445,1042.67 L446,1042.43 L447,1042.31 L448,1042.19 L449,1042.17 L450,1042.16 L451,1042.14 L452,1042.12 L453,1042.59 L454,1043.06 L455,1042.5 L456,1041.94 L457,1042.05 L458,1042.16 L459,1042.13 L460,1042.1 L461,1042.08 L462,1042.05 L463,1042.51 L464,1042.97 L465,1042.86 L466,1042.75 L467,1042.81 L468,1042.88 L469,1043.07 L470,1043.26 L471,1042.9 L472,1042.54 L473,1042.21 L474,1041.89 L475,1042.01 L476,1042.14 L477,1042.4 L478,1042.67 L479,1042.83 L480,1042.99 L481,1043.15 L482,1043.32 L483,1043 L484,1042.67 L485,1042.45 L486,1042.23 L487,1042.52 L488,1042.82 L489,1043.09 L490,1043.37 L491,1042.89 L492,1042.41 L493,1042.9 L494,1043.38 L495,1043.36 L496,1043.34 L497,1043.08 L498,1042.83 L499,1042.75 L500,1042.68 L501,1042.4 L502,1042.12 L503,1042.11 L504,1042.1 L505,1042.05 L506,1042 L507,1042.46 L508,1042.92 L509,1043 L510,1043.09 L511,1043.32 L512,1043.55 L513,1043.24 L514,1042.93 L515,1043.25 L516,1043.57 L517,1043.1 L518,1042.63 L519,1042.42 L520,1042.21 L521,1042.15 L522,1042.1 L523,1042.29 L524,1042.47 L525,1042.67 L526,1042.87 L527,1043.24 L528,1043.61 L529,1043.06 L530,1042.52 L531,1042.47 L532,1042.43 L533,1042.82 L534,1043.22 L535,1042.96 L536,1042.7 L537,1042.84 L538,1042.98 L539,1042.66 L540,1042.34 L541,1042.91 L542,1043.47 L543,1043.53 L544,1043.59 L545,1043.46 L546,1043.34 L547,1043.49 L548,1043.64 L549,1043.16 L550,1042.69 L551,1042.45 L552,1042.22 L553,1042.44 L554,1042.67 L555,1043.15 L556,1043.63 L557,1043.29 L558,1042.96 L559,1042.75 L560,1042.54 L561,1042.51 L562,1042.48 L563,1042.49 L564,1042.51 L565,1042.74 L566,1042.96 L567,1043.36 L568,1043.76 L569,1043.73 L570,1043.71 L571,1043.61 L572,1043.52 L573,1043.52 L574,1043.53 L575,1043.09 L576,1042.64 L577,1043.12 L578,1043.6 L579,1043.16 L580,1042.73 L581,1042.98 L582,1043.23 L583,1042.84 L584,1042.45 L585,1043.15 L586,1043.84 L587,1043.24 L588,1042.64 L589,1043.02 L590,1043.4 L591,1043.46 L592,1043.53 L593,1043.52 L594,1043.52 L595,1043.56 L596,1043.6 L597,1043.35 L598,1043.11 L599,1043.46 L600,1043.81 L601,1043.94 L602,1044.06 L603,1043.81 L604,1043.57 L605,1043.87 L606,1044.17 L607,1044.07 L608,1043.98 L609,1043.35 L610,1042.73 L611,1043.23 L612,1043.73 L613,1043.28 L614,1042.83 L615,1043.29 L616,1043.76" fill="none" stroke="#9c9cf4" stroke-width="1.55" stroke-linejoin="round"/>
<text x="197.5" y="1004.6" font-size="16.2" text-anchor="middle" fill="#333" font-weight="normal" stroke="#333" stroke-width="0.3" >5.15</text>
<text x="239.1" y="989.5" font-size="16.2" text-anchor="middle" fill="#333" font-weight="normal" stroke="#333" stroke-width="0.3" >5.27</text>
<text x="290.2" y="1010.3" font-size="16.2" text-anchor="middle" fill="#333" font-weight="normal" stroke="#333" stroke-width="0.3" >5.36</text>
<text x="99.2" y="1086" font-size="20.6" text-anchor="end" fill="#111" font-weight="normal" stroke="#111" stroke-width="0.4" >40</text>
<text x="99.2" y="1125.6" font-size="20.6" text-anchor="end" fill="#111" font-weight="normal" stroke="#111" stroke-width="0.4" >0</text>
<text x="503.7" y="1105.7" font-size="20" text-anchor="start" fill="#111" font-weight="normal" stroke="#111" stroke-width="0.4" textLength="94.5" lengthAdjust="spacingAndGlyphs">+Ins &amp; Cur</text>
<path d="M140.4,1118.6 L140.4,1118.56 L141.1,1118.55 L141.8,1118.54 L142.5,1118.53 L143.2,1118.52 L143.9,1118.5 L144.6,1118.49 L145.3,1118.47 L146,1118.45 L146.7,1118.43 L147.4,1118.4 L148.1,1118.38 L148.8,1118.34 L149.5,1118.31 L150.2,1118.27 L150.9,1118.22 L151.6,1118.17 L152.3,1118.11 L153,1118.04 L153.7,1117.97 L154.4,1117.89 L155.1,1117.8 L155.8,1117.7 L156.5,1117.6 L157.2,1117.48 L157.9,1117.35 L158.6,1117.2 L159.3,1117.04 L160,1116.87 L160.7,1116.68 L161.4,1116.48 L162.1,1116.26 L162.8,1116.02 L163.5,1115.76 L164.2,1115.49 L164.9,1115.19 L165.6,1114.87 L166.3,1114.53 L167,1114.16 L167.7,1113.77 L168.4,1113.36 L169.1,1112.93 L169.8,1112.46 L170.5,1111.98 L171.2,1111.47 L171.9,1110.93 L172.6,1110.37 L173.3,1109.79 L174,1109.19 L174.7,1108.56 L175.4,1107.91 L176.1,1107.23 L176.8,1106.54 L177.5,1105.84 L178.2,1105.11 L178.9,1104.38 L179.6,1103.63 L180.3,1102.87 L181,1102.11 L181.7,1101.34 L182.4,1100.57 L183.1,1099.8 L183.8,1099.04 L184.5,1098.29 L185.2,1097.54 L185.9,1096.81 L186.6,1096.1 L187.3,1095.41 L188,1094.75 L188.7,1094.11 L189.4,1093.5 L190.1,1092.93 L190.8,1092.39 L191.5,1091.9 L192.2,1091.44 L192.9,1091.04 L193.6,1090.68 L194.3,1090.37 L195,1090.11 L195.7,1089.9 L196.4,1089.74 L197.1,1089.65 L197.8,1089.6 L198.5,1089.61 L199.2,1089.68 L199.9,1089.8 L200.6,1089.98 L201.3,1090.21 L202,1090.49 L202.7,1090.82 L203.4,1091.21 L204.1,1091.63 L204.8,1092.48 L205.5,1093.34 L206.2,1094.11 L206.9,1094.73 L207.6,1095.18 L208.3,1095.59 L209,1096 L209.7,1096.4 L210.4,1097.12 L211.1,1097.86 L211.8,1098.61 L212.5,1099.37 L213.2,1100.13 L213.9,1100.9 L214.6,1101.67 L215.3,1102.44 L216,1103.2 L216.7,1103.95 L217.4,1104.7 L218.1,1105.43 L218.8,1106.14 L219.5,1106.84 L220.2,1107.52 L220.9,1108.19 L221.6,1108.83 L222.3,1109.45 L223,1110.04 L223.7,1110.62 L224.4,1111.17 L225.1,1111.69 L225.8,1112.19 L226.5,1112.66 L227.2,1113.12 L227.9,1113.54 L228.6,1113.94 L229.3,1114.32 L230,1114.68 L230.7,1115.01 L231.4,1115.32 L232.1,1115.61 L232.8,1115.88 L233.5,1116.13 L234.2,1116.36 L234.9,1116.57 L235.6,1116.77 L236.3,1116.95 L237,1117.11 L237.7,1117.26 L238.4,1117.4 L239.1,1117.53 L239.8,1117.64 L240.5,1117.75 L241.2,1117.84 L241.9,1117.93 L242.6,1118 L243.3,1118.07 L244,1118.13 L244.7,1118.19 L245.4,1118.24 L246.1,1118.28 L246.8,1118.32 L247.5,1118.36 L248.2,1118.39 L248.9,1118.42 L249.6,1118.44 L250.3,1118.46 L251,1118.48 L251.7,1118.5 L252.4,1118.51 L253.1,1118.52 L253.8,1118.53 L254.5,1118.54 L255.2,1118.55 L255.6,1118.6 Z" fill="#000" fill-opacity="0.06"/>
<path d="M140.4,1118.56 L141.1,1118.55 L141.8,1118.54 L142.5,1118.53 L143.2,1118.52 L143.9,1118.5 L144.6,1118.49 L145.3,1118.47 L146,1118.45 L146.7,1118.43 L147.4,1118.4 L148.1,1118.38 L148.8,1118.34 L149.5,1118.31 L150.2,1118.27 L150.9,1118.22 L151.6,1118.17 L152.3,1118.11 L153,1118.04 L153.7,1117.97 L154.4,1117.89 L155.1,1117.8 L155.8,1117.7 L156.5,1117.6 L157.2,1117.48 L157.9,1117.35 L158.6,1117.2 L159.3,1117.04 L160,1116.87 L160.7,1116.68 L161.4,1116.48 L162.1,1116.26 L162.8,1116.02 L163.5,1115.76 L164.2,1115.49 L164.9,1115.19 L165.6,1114.87 L166.3,1114.53 L167,1114.16 L167.7,1113.77 L168.4,1113.36 L169.1,1112.93 L169.8,1112.46 L170.5,1111.98 L171.2,1111.47 L171.9,1110.93 L172.6,1110.37 L173.3,1109.79 L174,1109.19 L174.7,1108.56 L175.4,1107.91 L176.1,1107.23 L176.8,1106.54 L177.5,1105.84 L178.2,1105.11 L178.9,1104.38 L179.6,1103.63 L180.3,1102.87 L181,1102.11 L181.7,1101.34 L182.4,1100.57 L183.1,1099.8 L183.8,1099.04 L184.5,1098.29 L185.2,1097.54 L185.9,1096.81 L186.6,1096.1 L187.3,1095.41 L188,1094.75 L188.7,1094.11 L189.4,1093.5 L190.1,1092.93 L190.8,1092.39 L191.5,1091.9 L192.2,1091.44 L192.9,1091.04 L193.6,1090.68 L194.3,1090.37 L195,1090.11 L195.7,1089.9 L196.4,1089.74 L197.1,1089.65 L197.8,1089.6 L198.5,1089.61 L199.2,1089.68 L199.9,1089.8 L200.6,1089.98 L201.3,1090.21 L202,1090.49 L202.7,1090.82 L203.4,1091.21 L204.1,1091.63 L204.8,1092.48 L205.5,1093.34 L206.2,1094.11 L206.9,1094.73 L207.6,1095.18 L208.3,1095.59 L209,1096 L209.7,1096.4 L210.4,1097.12 L211.1,1097.86 L211.8,1098.61 L212.5,1099.37 L213.2,1100.13 L213.9,1100.9 L214.6,1101.67 L215.3,1102.44 L216,1103.2 L216.7,1103.95 L217.4,1104.7 L218.1,1105.43 L218.8,1106.14 L219.5,1106.84 L220.2,1107.52 L220.9,1108.19 L221.6,1108.83 L222.3,1109.45 L223,1110.04 L223.7,1110.62 L224.4,1111.17 L225.1,1111.69 L225.8,1112.19 L226.5,1112.66 L227.2,1113.12 L227.9,1113.54 L228.6,1113.94 L229.3,1114.32 L230,1114.68 L230.7,1115.01 L231.4,1115.32 L232.1,1115.61 L232.8,1115.88 L233.5,1116.13 L234.2,1116.36 L234.9,1116.57 L235.6,1116.77 L236.3,1116.95 L237,1117.11 L237.7,1117.26 L238.4,1117.4 L239.1,1117.53 L239.8,1117.64 L240.5,1117.75 L241.2,1117.84 L241.9,1117.93 L242.6,1118 L243.3,1118.07 L244,1118.13 L244.7,1118.19 L245.4,1118.24 L246.1,1118.28 L246.8,1118.32 L247.5,1118.36 L248.2,1118.39 L248.9,1118.42 L249.6,1118.44 L250.3,1118.46 L251,1118.48 L251.7,1118.5 L252.4,1118.51 L253.1,1118.52 L253.8,1118.53 L254.5,1118.54 L255.2,1118.55" fill="none" stroke="#b8b8b8" stroke-width="1"/>
<path d="M203.3,1118.6 L203.3,1118.51 L204,1118.48 L204.7,1118.44 L205.4,1118.4 L206.1,1118.34 L206.8,1118.26 L207.5,1118.16 L208.2,1118.05 L208.9,1117.9 L209.6,1117.72 L210.3,1117.5 L211,1117.23 L211.7,1116.91 L212.4,1116.53 L213.1,1116.08 L213.8,1115.54 L214.5,1114.92 L215.2,1114.19 L215.9,1113.35 L216.6,1112.39 L217.3,1111.3 L218,1110.07 L218.7,1108.69 L219.4,1107.16 L220.1,1105.46 L220.8,1103.61 L221.5,1101.61 L222.2,1099.45 L222.9,1097.14 L223.6,1094.7 L224.3,1092.15 L225,1089.5 L225.7,1086.77 L226.4,1084.01 L227.1,1081.23 L227.8,1078.46 L228.5,1075.76 L229.2,1073.14 L229.9,1070.66 L230.6,1068.35 L231.3,1066.25 L232,1064.38 L232.7,1062.79 L233.4,1061.5 L234.1,1060.53 L234.8,1059.89 L235.5,1059.61 L236.2,1059.69 L236.9,1060.12 L237.6,1060.9 L238.3,1062.01 L239,1063.44 L239.7,1065.15 L240.4,1067.12 L241.1,1069.32 L241.8,1071.71 L242.5,1074.25 L243.2,1076.91 L243.9,1079.64 L244.6,1082.42 L245.3,1085.2 L246,1087.95 L246.7,1090.64 L247.4,1093.26 L248.1,1095.76 L248.8,1098.15 L249.5,1100.39 L250.2,1102.49 L250.9,1104.43 L251.6,1106.21 L252.3,1107.83 L253,1109.3 L253.7,1110.62 L254.4,1111.79 L255.1,1112.82 L255.8,1113.73 L256.5,1114.52 L257.2,1115.2 L257.9,1115.78 L258.6,1116.28 L259.3,1116.7 L260,1117.06 L260.7,1117.35 L261.4,1117.6 L262.1,1117.8 L262.8,1117.97 L263.5,1118.1 L264.2,1118.21 L264.9,1118.29 L265.6,1118.36 L266.3,1118.42 L267,1118.46 L267.7,1118.49 L268.1,1118.6 Z" fill="#000" fill-opacity="0.06"/>
<path d="M203.3,1118.51 L204,1118.48 L204.7,1118.44 L205.4,1118.4 L206.1,1118.34 L206.8,1118.26 L207.5,1118.16 L208.2,1118.05 L208.9,1117.9 L209.6,1117.72 L210.3,1117.5 L211,1117.23 L211.7,1116.91 L212.4,1116.53 L213.1,1116.08 L213.8,1115.54 L214.5,1114.92 L215.2,1114.19 L215.9,1113.35 L216.6,1112.39 L217.3,1111.3 L218,1110.07 L218.7,1108.69 L219.4,1107.16 L220.1,1105.46 L220.8,1103.61 L221.5,1101.61 L222.2,1099.45 L222.9,1097.14 L223.6,1094.7 L224.3,1092.15 L225,1089.5 L225.7,1086.77 L226.4,1084.01 L227.1,1081.23 L227.8,1078.46 L228.5,1075.76 L229.2,1073.14 L229.9,1070.66 L230.6,1068.35 L231.3,1066.25 L232,1064.38 L232.7,1062.79 L233.4,1061.5 L234.1,1060.53 L234.8,1059.89 L235.5,1059.61 L236.2,1059.69 L236.9,1060.12 L237.6,1060.9 L238.3,1062.01 L239,1063.44 L239.7,1065.15 L240.4,1067.12 L241.1,1069.32 L241.8,1071.71 L242.5,1074.25 L243.2,1076.91 L243.9,1079.64 L244.6,1082.42 L245.3,1085.2 L246,1087.95 L246.7,1090.64 L247.4,1093.26 L248.1,1095.76 L248.8,1098.15 L249.5,1100.39 L250.2,1102.49 L250.9,1104.43 L251.6,1106.21 L252.3,1107.83 L253,1109.3 L253.7,1110.62 L254.4,1111.79 L255.1,1112.82 L255.8,1113.73 L256.5,1114.52 L257.2,1115.2 L257.9,1115.78 L258.6,1116.28 L259.3,1116.7 L260,1117.06 L260.7,1117.35 L261.4,1117.6 L262.1,1117.8 L262.8,1117.97 L263.5,1118.1 L264.2,1118.21 L264.9,1118.29 L265.6,1118.36 L266.3,1118.42 L267,1118.46 L267.7,1118.49" fill="none" stroke="#b8b8b8" stroke-width="1"/>
<path d="M253.5,1118.6 L253.5,1118.56 L254.2,1118.55 L254.9,1118.54 L255.6,1118.52 L256.3,1118.5 L257,1118.47 L257.7,1118.44 L258.4,1118.39 L259.1,1118.34 L259.8,1118.28 L260.5,1118.2 L261.2,1118.11 L261.9,1118 L262.6,1117.87 L263.3,1117.71 L264,1117.53 L264.7,1117.32 L265.4,1117.07 L266.1,1116.79 L266.8,1116.47 L267.5,1116.1 L268.2,1115.68 L268.9,1115.21 L269.6,1114.69 L270.3,1114.12 L271,1113.48 L271.7,1112.79 L272.4,1112.04 L273.1,1111.23 L273.8,1110.37 L274.5,1109.46 L275.2,1108.5 L275.9,1107.5 L276.6,1106.47 L277.3,1105.42 L278,1104.35 L278.7,1103.28 L279.4,1102.21 L280.1,1101.17 L280.8,1100.16 L281.5,1099.2 L282.2,1098.3 L282.9,1097.48 L283.6,1096.73 L284.3,1096.09 L285,1095.55 L285.7,1095.13 L286.4,1094.82 L287.1,1094.65 L287.8,1094.6 L288.5,1094.68 L289.2,1094.9 L289.9,1095.23 L290.6,1095.69 L291.3,1096.26 L292,1096.94 L292.7,1097.7 L293.4,1098.55 L294.1,1099.47 L294.8,1100.45 L295.5,1101.47 L296.2,1102.52 L296.9,1103.58 L297.6,1104.66 L298.3,1105.72 L299,1106.77 L299.7,1107.79 L300.4,1108.78 L301.1,1109.72 L301.8,1110.62 L302.5,1111.47 L303.2,1112.26 L303.9,1112.99 L304.6,1113.67 L305.3,1114.29 L306,1114.85 L306.7,1115.35 L307.4,1115.8 L308.1,1116.21 L308.8,1116.56 L309.5,1116.88 L310.2,1117.15 L310.9,1117.38 L311.6,1117.59 L312.3,1117.76 L313,1117.91 L313.7,1118.03 L314.4,1118.14 L315.1,1118.23 L315.8,1118.3 L316.5,1118.36 L317.2,1118.41 L317.9,1118.45 L318.6,1118.48 L319.3,1118.51 L320,1118.53 L320.7,1118.54 L321.4,1118.56 L321.9,1118.6 Z" fill="#000" fill-opacity="0.06"/>
<path d="M253.5,1118.56 L254.2,1118.55 L254.9,1118.54 L255.6,1118.52 L256.3,1118.5 L257,1118.47 L257.7,1118.44 L258.4,1118.39 L259.1,1118.34 L259.8,1118.28 L260.5,1118.2 L261.2,1118.11 L261.9,1118 L262.6,1117.87 L263.3,1117.71 L264,1117.53 L264.7,1117.32 L265.4,1117.07 L266.1,1116.79 L266.8,1116.47 L267.5,1116.1 L268.2,1115.68 L268.9,1115.21 L269.6,1114.69 L270.3,1114.12 L271,1113.48 L271.7,1112.79 L272.4,1112.04 L273.1,1111.23 L273.8,1110.37 L274.5,1109.46 L275.2,1108.5 L275.9,1107.5 L276.6,1106.47 L277.3,1105.42 L278,1104.35 L278.7,1103.28 L279.4,1102.21 L280.1,1101.17 L280.8,1100.16 L281.5,1099.2 L282.2,1098.3 L282.9,1097.48 L283.6,1096.73 L284.3,1096.09 L285,1095.55 L285.7,1095.13 L286.4,1094.82 L287.1,1094.65 L287.8,1094.6 L288.5,1094.68 L289.2,1094.9 L289.9,1095.23 L290.6,1095.69 L291.3,1096.26 L292,1096.94 L292.7,1097.7 L293.4,1098.55 L294.1,1099.47 L294.8,1100.45 L295.5,1101.47 L296.2,1102.52 L296.9,1103.58 L297.6,1104.66 L298.3,1105.72 L299,1106.77 L299.7,1107.79 L300.4,1108.78 L301.1,1109.72 L301.8,1110.62 L302.5,1111.47 L303.2,1112.26 L303.9,1112.99 L304.6,1113.67 L305.3,1114.29 L306,1114.85 L306.7,1115.35 L307.4,1115.8 L308.1,1116.21 L308.8,1116.56 L309.5,1116.88 L310.2,1117.15 L310.9,1117.38 L311.6,1117.59 L312.3,1117.76 L313,1117.91 L313.7,1118.03 L314.4,1118.14 L315.1,1118.23 L315.8,1118.3 L316.5,1118.36 L317.2,1118.41 L317.9,1118.45 L318.6,1118.48 L319.3,1118.51 L320,1118.53 L320.7,1118.54 L321.4,1118.56" fill="none" stroke="#b8b8b8" stroke-width="1"/>
<path d="M105,1118.61 L106,1118.95 L107,1118.56 L108,1118.17 L109,1118.57 L110,1118.98 L111,1118.87 L112,1118.76 L113,1118.56 L114,1118.37 L115,1118.54 L116,1118.71 L117,1118.66 L118,1118.61 L119,1118.19 L120,1117.77 L121,1118.16 L122,1118.56 L123,1118.64 L124,1118.73 L125,1118.66 L126,1118.6 L127,1118.9 L128,1119.2 L129,1119.09 L130,1118.98 L131,1118.67 L132,1118.31 L133,1118.08 L134,1117.82 L135,1117.57 L136,1117.3 L137,1117.64 L138,1117.97 L139,1117.59 L140,1117.11 L141,1116.59 L142,1116.02 L143,1115.35 L144,1114.69 L145,1114.23 L146,1113.81 L147,1113.13 L148,1112.44 L149,1112.22 L150,1111.99 L151,1111.23 L152,1110.48 L153,1110.46 L154,1110.47 L155,1110.16 L156,1109.89 L157,1109.68 L158,1109.49 L159,1108.95 L160,1108.43 L161,1108.12 L162,1107.82 L163,1107.83 L164,1107.83 L165,1107.91 L166,1107.97 L167,1107.59 L168,1107.22 L169,1107.19 L170,1107.15 L171,1106.66 L172,1106.16 L173,1105.86 L174,1105.53 L175,1105.6 L176,1105.62 L177,1104.6 L178,1103.46 L179,1102.69 L180,1101.72 L181,1100.9 L182,1100.04 L183,1098.92 L184,1097.88 L185,1096.59 L186,1095.24 L187,1094.15 L188,1093.13 L189,1092.04 L190,1091.13 L191,1090.6 L192,1090.09 L193,1089.64 L194,1089.27 L195,1088.79 L196,1088.46 L197,1088.15 L198,1087.87 L199,1087.63 L200,1087.45 L201,1088.02 L202,1089.09 L203,1089.73 L204,1090.57 L205,1091.99 L206,1093.3 L207,1094.4 L208,1095.2 L209,1095.64 L210,1096.07 L211,1096.38 L212,1096.64 L213,1097.37 L214,1098.01 L215,1098.17 L216,1098.22 L217,1098.5 L218,1098.41 L219,1097.45 L220,1096.2 L221,1094.95 L222,1093.53 L223,1091.88 L224,1089.64 L225,1086.28 L226,1082.69 L227,1079.3 L228,1075.99 L229,1072.67 L230,1068.93 L231,1065.01 L232,1061.98 L233,1059.65 L234,1057.69 L235,1056.71 L236,1056.43 L237,1057.37 L238,1058.65 L239,1059.57 L240,1060.69 L241,1061.53 L242,1062.42 L243,1063.95 L244,1066.04 L245,1068.99 L246,1072.17 L247,1075.29 L248,1078.3 L249,1080.42 L250,1082.73 L251,1085.89 L252,1089.02 L253,1091.98 L254,1094.65 L255,1096.42 L256,1098.05 L257,1100.08 L258,1101.97 L259,1103.31 L260,1104.44 L261,1105.8 L262,1107.06 L263,1107.83 L264,1108.47 L265,1108.98 L266,1109.2 L267,1109.45 L268,1109.54 L269,1109.07 L270,1108.5 L271,1107.99 L272,1107.42 L273,1106.83 L274,1106.2 L275,1105.72 L276,1105.04 L277,1103.65 L278,1102.01 L279,1100.7 L280,1099.45 L281,1097.85 L282,1096.54 L283,1095.32 L284,1094.13 L285,1093.15 L286,1092.36 L287,1091.99 L288,1092 L289,1092.68 L290,1093.68 L291,1094.13 L292,1094.72 L293,1096.01 L294,1097.24 L295,1098.63 L296,1100.23 L297,1101.67 L298,1103.1 L299,1104.11 L300,1104.88 L301,1105.99 L302,1107 L303,1107.47 L304,1107.89 L305,1108.1 L306,1108.28 L307,1108.67 L308,1109.07 L309,1109.66 L310,1110.29 L311,1111.39 L312,1112.51 L313,1112.83 L314,1113.15 L315,1114.13 L316,1115.09 L317,1115.76 L318,1116.37 L319,1116.79 L320,1117.15 L321,1117.21 L322,1117.26 L323,1117.28 L324,1117.25 L325,1117.75 L326,1118.15 L327,1118.19 L328,1118.15 L329,1118.49 L330,1118.84 L331,1118.88 L332,1118.92 L333,1119.1 L334,1119.27 L335,1119.1 L336,1118.93 L337,1119.13 L338,1119.34 L339,1119.08 L340,1118.82 L341,1118.69 L342,1118.56 L343,1118.85 L344,1119.14 L345,1118.69 L346,1118.24 L347,1118.64 L348,1119.05 L349,1119 L350,1118.96 L351,1119.08 L352,1119.19 L353,1118.54 L354,1117.9 L355,1118 L356,1118.1 L357,1118.71 L358,1119.32 L359,1118.67 L360,1118.03 L361,1118.27 L362,1118.52 L363,1118.64 L364,1118.76 L365,1118.67 L366,1118.57 L367,1118.89 L368,1119.21 L369,1119.27 L370,1119.33 L371,1118.84 L372,1118.34 L373,1118.18 L374,1118.01 L375,1118.64 L376,1119.26 L377,1118.89 L378,1118.52 L379,1118.36 L380,1118.2 L381,1118.11 L382,1118.02 L383,1117.92 L384,1117.81 L385,1118.27 L386,1118.73 L387,1118.49 L388,1118.25 L389,1118.47 L390,1118.69 L391,1118.98 L392,1119.28 L393,1118.92 L394,1118.57 L395,1118.95 L396,1119.32 L397,1118.61 L398,1117.9 L399,1118.46 L400,1119.01 L401,1119.01 L402,1119 L403,1119.17 L404,1119.33 L405,1118.59 L406,1117.84 L407,1118.22 L408,1118.6 L409,1118.64 L410,1118.68 L411,1118.72 L412,1118.75 L413,1118.65 L414,1118.55 L415,1118.39 L416,1118.23 L417,1118.73 L418,1119.24 L419,1119.22 L420,1119.2 L421,1119.05 L422,1118.91 L423,1119.12 L424,1119.33 L425,1119 L426,1118.68 L427,1118.3 L428,1117.92 L429,1118.41 L430,1118.9 L431,1118.43 L432,1117.96 L433,1118.47 L434,1118.99 L435,1118.91 L436,1118.83 L437,1118.47 L438,1118.12 L439,1118.07 L440,1118.03 L441,1117.96 L442,1117.89 L443,1117.98 L444,1118.07 L445,1118.71 L446,1119.35 L447,1118.75 L448,1118.15 L449,1118.67 L450,1119.2 L451,1118.6 L452,1118 L453,1118.16 L454,1118.32 L455,1118.43 L456,1118.54 L457,1118.45 L458,1118.35 L459,1118.84 L460,1119.32 L461,1118.74 L462,1118.16 L463,1118.36 L464,1118.55 L465,1118.33 L466,1118.11 L467,1118.03 L468,1117.95 L469,1118.42 L470,1118.88 L471,1118.6 L472,1118.32 L473,1118.44 L474,1118.56 L475,1118.72 L476,1118.88 L477,1118.4 L478,1117.92 L479,1117.89 L480,1117.86 L481,1118.37 L482,1118.87 L483,1119.12 L484,1119.36 L485,1118.58 L486,1117.8 L487,1118.15 L488,1118.49 L489,1118.93 L490,1119.36 L491,1119.23 L492,1119.1 L493,1119.23 L494,1119.35 L495,1118.98 L496,1118.61 L497,1118.97 L498,1119.32 L499,1118.59 L500,1117.86 L501,1118.19 L502,1118.52 L503,1118.82 L504,1119.12 L505,1118.75 L506,1118.39 L507,1118.43 L508,1118.47 L509,1118.47 L510,1118.48 L511,1118.42 L512,1118.37 L513,1118.71 L514,1119.06 L515,1119.19 L516,1119.32 L517,1118.72 L518,1118.13 L519,1118.2 L520,1118.27 L521,1118.66 L522,1119.04 L523,1118.99 L524,1118.95 L525,1119 L526,1119.06 L527,1118.95 L528,1118.84 L529,1119.03 L530,1119.22 L531,1119.16 L532,1119.1 L533,1118.93 L534,1118.76 L535,1118.48 L536,1118.2 L537,1118.04 L538,1117.88 L539,1118.5 L540,1119.12 L541,1119.12 L542,1119.12 L543,1119.14 L544,1119.17 L545,1118.67 L546,1118.17 L547,1118.55 L548,1118.92 L549,1119.08 L550,1119.23 L551,1118.65 L552,1118.07 L553,1117.92 L554,1117.78 L555,1117.9 L556,1118.02 L557,1118.05 L558,1118.09 L559,1118.46 L560,1118.82 L561,1118.94 L562,1119.05 L563,1119.05 L564,1119.04 L565,1118.94 L566,1118.83 L567,1119.07 L568,1119.3 L569,1119.29 L570,1119.29 L571,1118.86 L572,1118.43 L573,1118.82 L574,1119.2 L575,1119.04 L576,1118.88 L577,1118.5 L578,1118.12 L579,1118.39 L580,1118.66 L581,1118.33 L582,1118 L583,1118.18 L584,1118.36 L585,1118.69 L586,1119.02 L587,1118.38 L588,1117.73 L589,1118.16 L590,1118.58 L591,1118.49 L592,1118.41 L593,1118.29 L594,1118.17 L595,1117.99 L596,1117.82 L597,1118.18 L598,1118.55 L599,1118.4 L600,1118.24 L601,1118.06 L602,1117.87 L603,1118.11 L604,1118.35 L605,1118.57 L606,1118.79 L607,1118.31 L608,1117.83 L609,1118.4 L610,1118.96 L611,1118.4 L612,1117.84 L613,1118.15 L614,1118.45 L615,1118.37 L616,1118.29" fill="none" stroke="#9c9cf4" stroke-width="1.55" stroke-linejoin="round"/>
<text x="202.2" y="1079.5" font-size="16.2" text-anchor="middle" fill="#333" font-weight="normal" stroke="#333" stroke-width="0.3" >5.15</text>
<text x="239.7" y="1053.4" font-size="16.2" text-anchor="middle" fill="#333" font-weight="normal" stroke="#333" stroke-width="0.3" >5.27</text>
<text x="290.8" y="1082.7" font-size="16.2" text-anchor="middle" fill="#333" font-weight="normal" stroke="#333" stroke-width="0.3" >5.36</text>
<text x="99.2" y="1162.2" font-size="20.6" text-anchor="end" fill="#111" font-weight="normal" stroke="#111" stroke-width="0.4" >40</text>
<text x="99.2" y="1200.6" font-size="20.6" text-anchor="end" fill="#111" font-weight="normal" stroke="#111" stroke-width="0.4" >0</text>
<text x="506.6" y="1179.4" font-size="20" text-anchor="start" fill="#111" font-weight="normal" stroke="#111" stroke-width="0.4" textLength="94.5" lengthAdjust="spacingAndGlyphs">+Ins &amp; Ber</text>
<path d="M159,1194.2 L159,1194.19 L159.7,1194.19 L160.4,1194.18 L161.1,1194.18 L161.8,1194.18 L162.5,1194.17 L163.2,1194.16 L163.9,1194.15 L164.6,1194.14 L165.3,1194.2 L166,1194.2 L166.7,1194.2 L167.4,1194.2 L168.1,1194.2 L168.8,1194.2 L169.5,1194.2 L170.2,1194.2 L170.9,1194.2 L171.6,1194.2 L172.3,1193.93 L173,1193.67 L173.7,1193.58 L174.4,1193.48 L175.1,1193.37 L175.8,1193.25 L176.5,1193.12 L177.2,1192.97 L177.9,1192.81 L178.6,1192.64 L179.3,1192.45 L180,1192.25 L180.7,1192.04 L181.4,1191.82 L182.1,1191.59 L182.8,1191.35 L183.5,1191.1 L184.2,1190.85 L184.9,1190.6 L185.6,1190.34 L186.3,1190.09 L187,1189.84 L187.7,1189.6 L188.4,1189.37 L189.1,1189.16 L189.8,1188.96 L190.5,1188.78 L191.2,1188.62 L191.9,1188.48 L192.6,1188.37 L193.3,1188.29 L194,1188.23 L194.7,1188.2 L195.4,1188.2 L196.1,1188.24 L196.8,1188.3 L197.5,1188.38 L198.2,1188.5 L198.9,1188.7 L199.6,1189.33 L200.3,1190 L201,1190.64 L201.7,1191.2 L202.4,1191.61 L203.1,1191.82 L203.8,1191.93 L204.5,1192.03 L205.2,1192.12 L205.9,1192.21 L206.6,1192.27 L207.3,1192.33 L208,1192.37 L208.7,1192.39 L209.4,1192.4 L210.1,1192.38 L210.8,1192.48 L211.5,1192.66 L212.2,1192.83 L212.9,1192.99 L213.6,1193.14 L214.3,1193.27 L215,1193.39 L215.7,1193.5 L216.4,1193.59 L217.1,1193.68 L217.8,1193.75 L218.5,1193.82 L219.2,1193.88 L219.9,1193.93 L220.6,1193.97 L221.3,1194.01 L222,1194.04 L222.7,1194.07 L223.4,1194.09 L224.1,1194.11 L224.8,1194.13 L225.5,1194.14 L226.2,1194.15 L226.9,1194.16 L227.6,1194.17 L228.3,1194.18 L229,1194.18 L229.7,1194.19 L230.4,1194.19 L231,1194.2 Z" fill="#000" fill-opacity="0.06"/>
<path d="M159,1194.19 L159.7,1194.19 L160.4,1194.18 L161.1,1194.18 L161.8,1194.18 L162.5,1194.17 L163.2,1194.16 L163.9,1194.15 L164.6,1194.14 L165.3,1194.2 L166,1194.2 L166.7,1194.2 L167.4,1194.2 L168.1,1194.2 L168.8,1194.2 L169.5,1194.2 L170.2,1194.2 L170.9,1194.2 L171.6,1194.2 L172.3,1193.93 L173,1193.67 L173.7,1193.58 L174.4,1193.48 L175.1,1193.37 L175.8,1193.25 L176.5,1193.12 L177.2,1192.97 L177.9,1192.81 L178.6,1192.64 L179.3,1192.45 L180,1192.25 L180.7,1192.04 L181.4,1191.82 L182.1,1191.59 L182.8,1191.35 L183.5,1191.1 L184.2,1190.85 L184.9,1190.6 L185.6,1190.34 L186.3,1190.09 L187,1189.84 L187.7,1189.6 L188.4,1189.37 L189.1,1189.16 L189.8,1188.96 L190.5,1188.78 L191.2,1188.62 L191.9,1188.48 L192.6,1188.37 L193.3,1188.29 L194,1188.23 L194.7,1188.2 L195.4,1188.2 L196.1,1188.24 L196.8,1188.3 L197.5,1188.38 L198.2,1188.5 L198.9,1188.7 L199.6,1189.33 L200.3,1190 L201,1190.64 L201.7,1191.2 L202.4,1191.61 L203.1,1191.82 L203.8,1191.93 L204.5,1192.03 L205.2,1192.12 L205.9,1192.21 L206.6,1192.27 L207.3,1192.33 L208,1192.37 L208.7,1192.39 L209.4,1192.4 L210.1,1192.38 L210.8,1192.48 L211.5,1192.66 L212.2,1192.83 L212.9,1192.99 L213.6,1193.14 L214.3,1193.27 L215,1193.39 L215.7,1193.5 L216.4,1193.59 L217.1,1193.68 L217.8,1193.75 L218.5,1193.82 L219.2,1193.88 L219.9,1193.93 L220.6,1193.97 L221.3,1194.01 L222,1194.04 L222.7,1194.07 L223.4,1194.09 L224.1,1194.11 L224.8,1194.13 L225.5,1194.14 L226.2,1194.15 L226.9,1194.16 L227.6,1194.17 L228.3,1194.18 L229,1194.18 L229.7,1194.19 L230.4,1194.19" fill="none" stroke="#b8b8b8" stroke-width="1"/>
<path d="M206.1,1194.2 L206.1,1194.16 L206.8,1194.14 L207.5,1194.11 L208.2,1194.07 L208.9,1194.02 L209.6,1193.94 L210.3,1193.84 L211,1193.71 L211.7,1193.54 L212.4,1193.32 L213.1,1193.04 L213.8,1192.69 L214.5,1192.25 L215.2,1191.71 L215.9,1191.09 L216.6,1190.7 L217.3,1190.17 L218,1189.51 L218.7,1188.74 L219.4,1187.88 L220.1,1186.94 L220.8,1185.95 L221.5,1184.66 L222.2,1183.02 L222.9,1181.14 L223.6,1179.13 L224.3,1177.12 L225,1175.2 L225.7,1173.5 L226.4,1171.79 L227.1,1169.93 L227.8,1168.17 L228.5,1166.77 L229.2,1166.23 L229.9,1166.25 L230.6,1166.6 L231.3,1167.47 L232,1168.68 L232.7,1170.05 L233.4,1171.46 L234.1,1172.81 L234.8,1174.12 L235.5,1175.91 L236.2,1177.74 L236.9,1179.55 L237.6,1181.32 L238.3,1183 L239,1184.58 L239.7,1186.03 L240.4,1187.34 L241.1,1188.5 L241.8,1189.53 L242.5,1190.41 L243.2,1191.16 L243.9,1191.79 L244.6,1192.32 L245.3,1192.74 L246,1193.08 L246.7,1193.36 L247.4,1193.57 L248.1,1193.73 L248.8,1193.86 L249.5,1193.95 L250.2,1194.02 L250.9,1194.08 L251.6,1194.11 L252.3,1194.14 L252.9,1194.2 Z" fill="#000" fill-opacity="0.06"/>
<path d="M206.1,1194.16 L206.8,1194.14 L207.5,1194.11 L208.2,1194.07 L208.9,1194.02 L209.6,1193.94 L210.3,1193.84 L211,1193.71 L211.7,1193.54 L212.4,1193.32 L213.1,1193.04 L213.8,1192.69 L214.5,1192.25 L215.2,1191.71 L215.9,1191.09 L216.6,1190.7 L217.3,1190.17 L218,1189.51 L218.7,1188.74 L219.4,1187.88 L220.1,1186.94 L220.8,1185.95 L221.5,1184.66 L222.2,1183.02 L222.9,1181.14 L223.6,1179.13 L224.3,1177.12 L225,1175.2 L225.7,1173.5 L226.4,1171.79 L227.1,1169.93 L227.8,1168.17 L228.5,1166.77 L229.2,1166.23 L229.9,1166.25 L230.6,1166.6 L231.3,1167.47 L232,1168.68 L232.7,1170.05 L233.4,1171.46 L234.1,1172.81 L234.8,1174.12 L235.5,1175.91 L236.2,1177.74 L236.9,1179.55 L237.6,1181.32 L238.3,1183 L239,1184.58 L239.7,1186.03 L240.4,1187.34 L241.1,1188.5 L241.8,1189.53 L242.5,1190.41 L243.2,1191.16 L243.9,1191.79 L244.6,1192.32 L245.3,1192.74 L246,1193.08 L246.7,1193.36 L247.4,1193.57 L248.1,1193.73 L248.8,1193.86 L249.5,1193.95 L250.2,1194.02 L250.9,1194.08 L251.6,1194.11 L252.3,1194.14" fill="none" stroke="#b8b8b8" stroke-width="1"/>
<path d="M260.8,1194.2 L260.8,1194.2 L261.5,1194.2 L262.2,1194.2 L262.9,1194.2 L263.6,1194.2 L264.3,1194.2 L265,1194.09 L265.7,1193.93 L266.4,1193.75 L267.1,1193.56 L267.8,1193.35 L268.5,1193.13 L269.2,1192.82 L269.9,1192.28 L270.6,1191.58 L271.3,1190.85 L272,1190.08 L272.7,1189.21 L273.4,1188.26 L274.1,1187.24 L274.8,1186.21 L275.5,1185.43 L276.2,1184.55 L276.9,1183.64 L277.6,1182.74 L278.3,1181.92 L279,1181.24 L279.7,1180.75 L280.4,1180.51 L281.1,1180.58 L281.8,1180.94 L282.5,1181.53 L283.2,1182.29 L283.9,1183.16 L284.6,1184.07 L285.3,1184.97 L286,1185.79 L286.7,1186.63 L287.4,1187.68 L288.1,1188.67 L288.8,1189.59 L289.5,1190.42 L290.2,1191.15 L290.9,1191.78 L291.6,1192.31 L292.3,1192.74 L293,1193.1 L293.7,1193.38 L294.4,1193.6 L295.1,1193.77 L295.8,1193.89 L296.5,1193.99 L297.2,1194.05 L297.9,1194.1 L298.6,1194.13 L299.3,1194.16 L300,1194.17 L300.4,1194.2 Z" fill="#000" fill-opacity="0.06"/>
<path d="M260.8,1194.2 L261.5,1194.2 L262.2,1194.2 L262.9,1194.2 L263.6,1194.2 L264.3,1194.2 L265,1194.09 L265.7,1193.93 L266.4,1193.75 L267.1,1193.56 L267.8,1193.35 L268.5,1193.13 L269.2,1192.82 L269.9,1192.28 L270.6,1191.58 L271.3,1190.85 L272,1190.08 L272.7,1189.21 L273.4,1188.26 L274.1,1187.24 L274.8,1186.21 L275.5,1185.43 L276.2,1184.55 L276.9,1183.64 L277.6,1182.74 L278.3,1181.92 L279,1181.24 L279.7,1180.75 L280.4,1180.51 L281.1,1180.58 L281.8,1180.94 L282.5,1181.53 L283.2,1182.29 L283.9,1183.16 L284.6,1184.07 L285.3,1184.97 L286,1185.79 L286.7,1186.63 L287.4,1187.68 L288.1,1188.67 L288.8,1189.59 L289.5,1190.42 L290.2,1191.15 L290.9,1191.78 L291.6,1192.31 L292.3,1192.74 L293,1193.1 L293.7,1193.38 L294.4,1193.6 L295.1,1193.77 L295.8,1193.89 L296.5,1193.99 L297.2,1194.05 L297.9,1194.1 L298.6,1194.13 L299.3,1194.16 L300,1194.17" fill="none" stroke="#b8b8b8" stroke-width="1"/>
<path d="M105,1194.65 L106,1194.22 L107,1194.43 L108,1194.63 L109,1194.64 L110,1194.64 L111,1194.22 L112,1193.79 L113,1193.67 L114,1193.55 L115,1193.96 L116,1194.37 L117,1193.97 L118,1193.58 L119,1193.77 L120,1193.96 L121,1194.36 L122,1194.75 L123,1194.72 L124,1194.69 L125,1194.07 L126,1193.45 L127,1193.41 L128,1193.36 L129,1193.46 L130,1193.56 L131,1194.02 L132,1194.49 L133,1193.83 L134,1193.17 L135,1193.31 L136,1193.45 L137,1193.34 L138,1193.22 L139,1193.21 L140,1193.21 L141,1193.5 L142,1193.79 L143,1193.49 L144,1193.19 L145,1193.34 L146,1193.49 L147,1193.72 L148,1193.94 L149,1193.9 L150,1193.86 L151,1193.56 L152,1193.26 L153,1193.48 L154,1193.7 L155,1193.44 L156,1193.2 L157,1193.33 L158,1193.48 L159,1192.98 L160,1192.5 L161,1192.62 L162,1192.78 L163,1193.06 L164,1193.36 L165,1193.8 L166,1194.24 L167,1194.11 L168,1193.97 L169,1193.94 L170,1193.86 L171,1193.55 L172,1192.92 L173,1192.25 L174,1191.43 L175,1190.5 L176,1189.64 L177,1189.6 L178,1189.82 L179,1189.46 L180,1189.11 L181,1188.88 L182,1188.67 L183,1188.18 L184,1187.71 L185,1187.7 L186,1187.71 L187,1187.28 L188,1186.87 L189,1186.94 L190,1187.03 L191,1186.69 L192,1186.37 L193,1186.54 L194,1186.72 L195,1186.56 L196,1186.41 L197,1186.31 L198,1186.59 L199,1188 L200,1189.58 L201,1189.86 L202,1189.95 L203,1190.93 L204,1191.66 L205,1191.71 L206,1191.74 L207,1191.34 L208,1190.91 L209,1191.26 L210,1191.56 L211,1191.88 L212,1192.14 L213,1191.92 L214,1191.66 L215,1191.03 L216,1190.34 L217,1189.88 L218,1189.15 L219,1187.97 L220,1186.62 L221,1184.83 L222,1182.39 L223,1179.93 L224,1177.25 L225,1174.52 L226,1172.16 L227,1169.38 L228,1166.75 L229,1165.5 L230,1165.75 L231,1166.44 L232,1167.79 L233,1170.01 L234,1172.22 L235,1173.39 L236,1174.64 L237,1176.84 L238,1179.05 L239,1180.58 L240,1181.99 L241,1184 L242,1186.01 L243,1187.79 L244,1189.5 L245,1190.54 L246,1191.22 L247,1191.67 L248,1191.7 L249,1191.75 L250,1191.8 L251,1191.48 L252,1191.17 L253,1191.29 L254,1191.46 L255,1191.9 L256,1192.52 L257,1193.12 L258,1193.68 L259,1193.82 L260,1193.71 L261,1193.75 L262,1193.75 L263,1193.51 L264,1193.22 L265,1193.2 L266,1193.14 L267,1192.97 L268,1192.77 L269,1192.13 L270,1191.12 L271,1190.33 L272,1189.33 L273,1188.09 L274,1186.9 L275,1185.5 L276,1184.07 L277,1183.12 L278,1182.23 L279,1180.67 L280,1179.51 L281,1179.94 L282,1180.96 L283,1181.34 L284,1181.98 L285,1183.43 L286,1184.77 L287,1186.21 L288,1187.83 L289,1188.53 L290,1189.14 L291,1190.61 L292,1191.67 L293,1191.99 L294,1192.19 L295,1192.25 L296,1192.31 L297,1192.1 L298,1191.92 L299,1191.95 L300,1192.2 L301,1192.8 L302,1193.36 L303,1194.03 L304,1194.41 L305,1193.86 L306,1193.18 L307,1192.86 L308,1192.55 L309,1193.01 L310,1193.61 L311,1193.41 L312,1193.2 L313,1192.83 L314,1192.46 L315,1192.67 L316,1192.89 L317,1192.77 L318,1192.66 L319,1193.13 L320,1193.59 L321,1193.12 L322,1192.66 L323,1193.01 L324,1193.36 L325,1193.37 L326,1193.39 L327,1193.05 L328,1192.71 L329,1192.66 L330,1192.6 L331,1192.82 L332,1193.03 L333,1192.94 L334,1192.84 L335,1193 L336,1193.15 L337,1192.94 L338,1192.73 L339,1193.1 L340,1193.47 L341,1193.17 L342,1192.87 L343,1192.65 L344,1192.42 L345,1192.93 L346,1193.44 L347,1193.54 L348,1193.63 L349,1193.46 L350,1193.29 L351,1193.19 L352,1193.08 L353,1193.34 L354,1193.6 L355,1193.65 L356,1193.7 L357,1192.96 L358,1192.22 L359,1192.6 L360,1192.99 L361,1192.61 L362,1192.24 L363,1192.49 L364,1192.74 L365,1192.67 L366,1192.59 L367,1192.77 L368,1192.95 L369,1193.12 L370,1193.29 L371,1193.44 L372,1193.59 L373,1193.11 L374,1192.63 L375,1192.43 L376,1192.23 L377,1193.02 L378,1193.81 L379,1193.64 L380,1193.47 L381,1193.28 L382,1193.1 L383,1192.75 L384,1192.4 L385,1192.35 L386,1192.3 L387,1193.01 L388,1193.72 L389,1193.39 L390,1193.07 L391,1193.34 L392,1193.6 L393,1193.54 L394,1193.48 L395,1193.46 L396,1193.43 L397,1193.47 L398,1193.52 L399,1193.08 L400,1192.64 L401,1192.63 L402,1192.63 L403,1192.78 L404,1192.93 L405,1193.2 L406,1193.47 L407,1193.49 L408,1193.51 L409,1193.49 L410,1193.46 L411,1193.32 L412,1193.18 L413,1193.09 L414,1193.01 L415,1192.79 L416,1192.56 L417,1192.94 L418,1193.32 L419,1193.31 L420,1193.31 L421,1193.2 L422,1193.09 L423,1193.26 L424,1193.43 L425,1193.63 L426,1193.84 L427,1193.81 L428,1193.78 L429,1193.12 L430,1192.45 L431,1192.6 L432,1192.74 L433,1193 L434,1193.27 L435,1193.33 L436,1193.39 L437,1193.07 L438,1192.75 L439,1193.27 L440,1193.79 L441,1193.42 L442,1193.04 L443,1193.29 L444,1193.53 L445,1192.97 L446,1192.4 L447,1192.58 L448,1192.77 L449,1192.56 L450,1192.36 L451,1192.98 L452,1193.6 L453,1193.38 L454,1193.17 L455,1193.52 L456,1193.87 L457,1193.59 L458,1193.32 L459,1193.1 L460,1192.87 L461,1192.9 L462,1192.93 L463,1192.95 L464,1192.97 L465,1192.83 L466,1192.69 L467,1192.62 L468,1192.55 L469,1192.99 L470,1193.43 L471,1193.16 L472,1192.9 L473,1193.01 L474,1193.13 L475,1193.33 L476,1193.54 L477,1193.2 L478,1192.85 L479,1192.99 L480,1193.13 L481,1193.04 L482,1192.95 L483,1192.95 L484,1192.96 L485,1193.24 L486,1193.51 L487,1193.06 L488,1192.61 L489,1192.86 L490,1193.1 L491,1192.88 L492,1192.65 L493,1193.1 L494,1193.55 L495,1193.26 L496,1192.97 L497,1193.51 L498,1194.05 L499,1193.66 L500,1193.28 L501,1193.43 L502,1193.58 L503,1193.47 L504,1193.37 L505,1193.61 L506,1193.85 L507,1193.76 L508,1193.67 L509,1193.63 L510,1193.59 L511,1193.11 L512,1192.63 L513,1192.72 L514,1192.81 L515,1193.31 L516,1193.8 L517,1193.53 L518,1193.27 L519,1193.72 L520,1194.18 L521,1193.92 L522,1193.65 L523,1193.81 L524,1193.96 L525,1193.91 L526,1193.85 L527,1194.03 L528,1194.21 L529,1193.97 L530,1193.74 L531,1193.97 L532,1194.2 L533,1193.79 L534,1193.39 L535,1193.27 L536,1193.15 L537,1193.03 L538,1192.91 L539,1193.04 L540,1193.16 L541,1193.68 L542,1194.2 L543,1194.02 L544,1193.83 L545,1193.35 L546,1192.87 L547,1192.86 L548,1192.86 L549,1193.21 L550,1193.56 L551,1193.64 L552,1193.71 L553,1193.58 L554,1193.44 L555,1193.17 L556,1192.91 L557,1193.11 L558,1193.31 L559,1193.81 L560,1194.31 L561,1194.2 L562,1194.09 L563,1194.17 L564,1194.25 L565,1193.82 L566,1193.39 L567,1193.72 L568,1194.05 L569,1193.68 L570,1193.31 L571,1193.41 L572,1193.5 L573,1194.03 L574,1194.56 L575,1193.98 L576,1193.4 L577,1193.47 L578,1193.54 L579,1193.49 L580,1193.44 L581,1193.97 L582,1194.5 L583,1194.37 L584,1194.23 L585,1194.17 L586,1194.1 L587,1194.32 L588,1194.54 L589,1194.24 L590,1193.94 L591,1194.31 L592,1194.68 L593,1194.58 L594,1194.48 L595,1194.11 L596,1193.74 L597,1193.7 L598,1193.66 L599,1193.91 L600,1194.17 L601,1194.1 L602,1194.04 L603,1194.33 L604,1194.62 L605,1194.52 L606,1194.42 L607,1194.5 L608,1194.59 L609,1194.49 L610,1194.39 L611,1194.13 L612,1193.87 L613,1194.27 L614,1194.67 L615,1194.87 L616,1195.07" fill="none" stroke="#9c9cf4" stroke-width="1.55" stroke-linejoin="round"/>
<text x="196.5" y="1178.3" font-size="16.2" text-anchor="middle" fill="#333" font-weight="normal" stroke="#333" stroke-width="0.3" >5.15</text>
<text x="232.5" y="1156.5" font-size="16.2" text-anchor="middle" fill="#333" font-weight="normal" stroke="#333" stroke-width="0.3" >5.27</text>
<text x="289.3" y="1171.1" font-size="16.2" text-anchor="middle" fill="#333" font-weight="normal" stroke="#333" stroke-width="0.3" >5.36</text>
<rect x="780.4" y="905.5" width="471.6" height="303" fill="none" stroke="#c4c4c4" stroke-width="1.3"/>
<line x1="772.9" y1="1208.5" x2="780.4" y2="1208.5" stroke="#c4c4c4" stroke-width="1.3"/>
<text x="759.6" y="1216.3" font-size="24" text-anchor="end" fill="#555" font-weight="normal" stroke="#555" stroke-width="0.15" textLength="31.8" lengthAdjust="spacingAndGlyphs">0.0</text>
<line x1="772.9" y1="1148.1" x2="780.4" y2="1148.1" stroke="#c4c4c4" stroke-width="1.3"/>
<text x="759.6" y="1155.9" font-size="24" text-anchor="end" fill="#555" font-weight="normal" stroke="#555" stroke-width="0.15" textLength="31.8" lengthAdjust="spacingAndGlyphs">1.0</text>
<line x1="772.9" y1="1087.7" x2="780.4" y2="1087.7" stroke="#c4c4c4" stroke-width="1.3"/>
<text x="759.6" y="1095.5" font-size="24" text-anchor="end" fill="#555" font-weight="normal" stroke="#555" stroke-width="0.15" textLength="31.8" lengthAdjust="spacingAndGlyphs">2.0</text>
<line x1="772.9" y1="1027.3" x2="780.4" y2="1027.3" stroke="#c4c4c4" stroke-width="1.3"/>
<text x="759.6" y="1035.1" font-size="24" text-anchor="end" fill="#555" font-weight="normal" stroke="#555" stroke-width="0.15" textLength="31.8" lengthAdjust="spacingAndGlyphs">3.0</text>
<line x1="772.9" y1="966.9" x2="780.4" y2="966.9" stroke="#c4c4c4" stroke-width="1.3"/>
<text x="759.6" y="974.7" font-size="24" text-anchor="end" fill="#555" font-weight="normal" stroke="#555" stroke-width="0.15" textLength="31.8" lengthAdjust="spacingAndGlyphs">4.0</text>
<line x1="772.9" y1="906.5" x2="780.4" y2="906.5" stroke="#c4c4c4" stroke-width="1.3"/>
<text x="759.6" y="914.3" font-size="24" text-anchor="end" fill="#555" font-weight="normal" stroke="#555" stroke-width="0.15" textLength="31.8" lengthAdjust="spacingAndGlyphs">5.0</text>
<text x="0" y="0" font-size="24" text-anchor="middle" fill="#111" stroke="#111" stroke-width="0.45" transform="translate(698.8,1056.3) rotate(-90)" textLength="141.5" lengthAdjust="spacingAndGlyphs">p-Akt2 (S474)</text>
<defs>
<pattern id="dense" patternUnits="userSpaceOnUse" width="5.0558" height="5.0558" patternTransform="translate(948.05,1053.4) rotate(45)">
<rect width="5.0558" height="5.0558" fill="#000"/>
<path d="M0,0 V5.0558 M5.0558,0 V5.0558 M0,0 H5.0558 M0,5.0558 H5.0558" stroke="#eeeeee" stroke-width="0.85"/>
</pattern>
<pattern id="open" patternUnits="userSpaceOnUse" width="9.9702" height="9.9702" patternTransform="translate(1062.3,980.2) rotate(45)">
<rect width="9.9702" height="9.9702" fill="#fff"/>
<path d="M0,0 V9.9702 M9.9702,0 V9.9702 M0,0 H9.9702 M0,9.9702 H9.9702" stroke="#000" stroke-width="1.3"/>
</pattern>
<pattern id="dots" patternUnits="userSpaceOnUse" width="14.2" height="14.4" patternTransform="translate(1178.3,1153.4)">
<g fill="#111">
<circle cx="0" cy="0" r="1.25"/><circle cx="14.2" cy="0" r="1.25"/><circle cx="0" cy="14.4" r="1.25"/><circle cx="14.2" cy="14.4" r="1.25"/>
<circle cx="1.6" cy="3.8" r="1.25"/><circle cx="7.1" cy="1.6" r="1.25"/><circle cx="8.9" cy="12.5" r="1.25"/>
<circle cx="10.8" cy="5.6" r="1.25"/><circle cx="5.3" cy="7.4" r="1.25"/><circle cx="12.6" cy="9.2" r="1.25"/><circle cx="3.4" cy="10.9" r="1.25"/>
</g>
</pattern>
</defs>
<line x1="839.5" y1="1135.42" x2="839.5" y2="1148.1" stroke="#6a6a6a" stroke-width="1.5"/>
<line x1="833.8" y1="1135.42" x2="845.2" y2="1135.42" stroke="#6a6a6a" stroke-width="1.5"/>
<rect x="821.8" y="1148.9" width="35.4" height="59.6" fill="#000" stroke="#000" stroke-width="1.6"/>
<line x1="957.1" y1="953.01" x2="957.1" y2="977.77" stroke="#6a6a6a" stroke-width="1.5"/>
<line x1="951.4" y1="953.01" x2="962.8" y2="953.01" stroke="#6a6a6a" stroke-width="1.5"/>
<rect x="939.4" y="978.57" width="35.4" height="229.93" fill="#000" stroke="#000" stroke-width="1.6"/>
<rect x="941.8" y="980.37" width="30.6" height="228.13" fill="url(#dense)"/>
<line x1="1075" y1="947.57" x2="1075" y2="971.13" stroke="#6a6a6a" stroke-width="1.5"/>
<line x1="1069.3" y1="947.57" x2="1080.7" y2="947.57" stroke="#6a6a6a" stroke-width="1.5"/>
<rect x="1057.3" y="971.93" width="35.4" height="236.57" fill="url(#open)" stroke="#000" stroke-width="1.6"/>
<line x1="1192.7" y1="1135.42" x2="1192.7" y2="1148.1" stroke="#6a6a6a" stroke-width="1.5"/>
<line x1="1187" y1="1135.42" x2="1198.4" y2="1135.42" stroke="#6a6a6a" stroke-width="1.5"/>
<rect x="1175" y="1148.9" width="35.4" height="59.6" fill="url(#dots)" stroke="#000" stroke-width="1.6"/>
<text x="958.8" y="951.9" font-size="23" text-anchor="middle" fill="#111" font-weight="normal" stroke="#111" stroke-width="0.4" >*</text>
<text x="1075" y="946.5" font-size="23" text-anchor="middle" fill="#111" font-weight="normal" stroke="#111" stroke-width="0.4" >*</text>
<text x="840.2" y="1243.8" font-size="24" text-anchor="middle" fill="#555" font-weight="normal" stroke="#555" stroke-width="0.15" textLength="32.3" lengthAdjust="spacingAndGlyphs">Ins</text>
<text x="955.9" y="1243.8" font-size="24" text-anchor="middle" fill="#555" font-weight="normal" stroke="#555" stroke-width="0.15" textLength="107.7" lengthAdjust="spacingAndGlyphs">Ins + Cinn</text>
<text x="1074.1" y="1243.8" font-size="24" text-anchor="middle" fill="#555" font-weight="normal" stroke="#555" stroke-width="0.15" textLength="97.3" lengthAdjust="spacingAndGlyphs">Ins + Cur</text>
<text x="1192.9" y="1243.8" font-size="24" text-anchor="middle" fill="#555" font-weight="normal" stroke="#555" stroke-width="0.15" textLength="95.1" lengthAdjust="spacingAndGlyphs">Ins + Ber</text>
</g></svg>
</div></body></html>
